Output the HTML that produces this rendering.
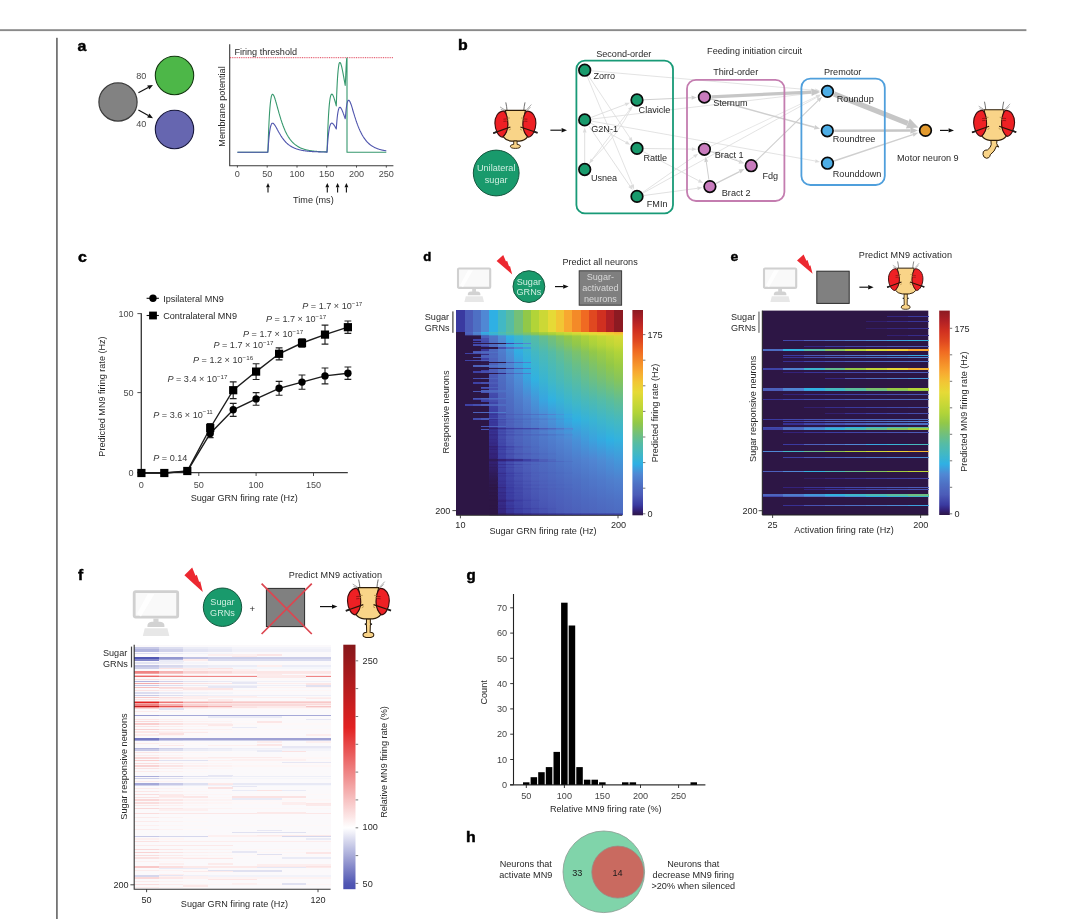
<!DOCTYPE html>
<html><head><meta charset="utf-8"><title>Figure</title>
<style>
html,body{margin:0;padding:0;background:#fff;}
body{width:1080px;height:919px;overflow:hidden;font-family:"Liberation Sans",sans-serif;}
svg{display:block;will-change:transform;font-family:"Liberation Sans",sans-serif;font-size:9.1px;fill:#282828;}
</style></head><body>
<svg width="1080" height="919" viewBox="0 0 1080 919">
<defs>
<g id="flyhead">
<path d="M-9.6 -21.4Q-8.6 -17 -8.4 -13.6M9.6 -21.4Q8.6 -17 8.4 -13.6" fill="none" stroke="#333" stroke-width="0.7"/>
<path d="M-15.4 -16.9L-10.6 -13.9M-14.6 -14.4L-10.9 -13.2M11 -13.8L16 -19.3M12 -13.5L15 -16.6" fill="none" stroke="#8a8a8a" stroke-width="0.7"/>
<path d="M-10.1 -13.4L10.1 -13.4Q7.2 -2 8 3Q9 9 12.1 13.1Q9.6 16.6 4.2 17.3L-4.2 17.3Q-9.6 16.6 -12.1 13.1Q-9 9 -8 3Q-7.2 -2 -10.1 -13.4z" fill="#f9d488" stroke="#2d1c08" stroke-width="1.15"/>
<path d="M-11.3 -12.7C-17.6 -12.9 -20.7 -6 -20.5 -0.5C-20.3 6 -17.2 12.8 -12.9 13.3C-10.2 11 -7.5 6 -7.5 0.6C-7.5 -5 -8.8 -10 -11.3 -12.7z" fill="#ee2024" stroke="#3a0d0d" stroke-width="1.1"/>
<path d="M-11.3 -12.7C-17.6 -12.9 -20.7 -6 -20.5 -0.5C-20.3 6 -17.2 12.8 -12.9 13.3C-10.2 11 -7.5 6 -7.5 0.6C-7.5 -5 -8.8 -10 -11.3 -12.7z" transform="scale(-1,1)" fill="#ee2024" stroke="#3a0d0d" stroke-width="1.1"/>
<path d="M-22 9.3L-5 3.2M22 9L5 3.2" fill="none" stroke="#2a1608" stroke-width="1.2"/><path d="M-22.2 9.4L-18.6 8.1M22.2 9.1L18.6 7.8" fill="none" stroke="#222" stroke-width="1.7"/><path d="M-12 -4.6L-8 -4.9M12 -4.6L8 -4.9M-12 -2.4L-8.6 -2.7M12 -2.4L8.6 -2.7" fill="none" stroke="#7a1010" stroke-width="0.7"/>
<path d="M-8.5 -5.6L-5.6 -5.8M8.5 -5.6L5.6 -5.8M-9 -3.6L-7 -3.7M9 -3.6L7 -3.7M-6.5 6.4L-4.6 5.2M6.5 6.4L4.6 5.2" fill="none" stroke="#9a7a3a" stroke-width="0.7"/>
</g>
<g id="prob0"><path d="M-1.7 17.2L-1.7 20.6Q-5 20.8 -5 22.4Q-5 24.6 0 24.6Q5 24.6 5 22.4Q5 20.8 1.7 20.6L1.7 17.2z" fill="#f9d488" stroke="#2d1c08" stroke-width="0.9"/></g>
<g id="prob1"><path d="M-1.9 17.2L-1.9 21.4Q-3.2 22.4 -1.9 23.4L-1.7 30.4Q-5.3 30.8 -5.3 33Q-5.2 35.6 0 35.6Q5.2 35.6 5.3 33Q5.3 30.8 1.7 30.4L1.9 23.4Q3.2 22.4 1.9 21.4L1.9 17.2z" fill="#f9d488" stroke="#2d1c08" stroke-width="1"/><path d="M-3.6 22.4L-1.7 22.4M1.7 22.4L3.6 22.4" stroke="#111" stroke-width="1.3" fill="none"/></g>
<g id="prob2"><path d="M-3.2 17L-2.9 21.6Q-3.4 24.6 -6.6 26.8Q-9.4 26.6 -10.8 28.6Q-11.8 31.6 -10 34Q-7.6 36 -5.4 34.6Q-4 33.4 -3.8 31.6Q0.6 28.6 2.4 23L4.6 24L2.6 20.6L2.9 17z" fill="#f9d488" stroke="#2d1c08" stroke-width="1"/></g>
<g id="monitor">
<rect x="0" y="1.2" width="32.2" height="19.4" rx="1" fill="#f9f9f9" stroke="#d0d0d0" stroke-width="2.1"/>
<path d="M2 18L10 3L15 3L5 20z" fill="#fff" opacity="0.8"/>
<rect x="14.2" y="21.6" width="3.8" height="3" fill="#d4d4d4"/>
<path d="M9.8 28Q9.4 24.3 13 24.1L19.2 24.1Q22.8 24.3 22.4 28z" fill="#d2d2d2"/>
<path d="M7.8 29L24.6 29L26 34.8L6.4 34.8z" fill="#e7e7e7"/>
</g>
<path id="bolt" d="M0 6L6.6 0L9.4 6.4L10.5 5.7L12.5 11.5L13.4 10.9L15.6 19.4L7.6 12.6z" fill="#ec2830"/>
</defs>
<rect x="0" y="29.2" width="1026.4" height="1.9" fill="#8a8a8a"/>
<rect x="56" y="37.8" width="1.8" height="882" fill="#747474"/>
<text transform="translate(77.6,50.7) scale(1.06,1)" font-weight="bold" font-size="15" fill="#000" stroke="#000" stroke-width="0.45">a</text>
<circle cx="118" cy="102" r="19.1" fill="#828282" stroke="#3c3c3c" stroke-width="1.2"/>
<circle cx="174.5" cy="75.5" r="19.2" fill="#4db748" stroke="#12380f" stroke-width="1.1"/>
<circle cx="174.5" cy="129.5" r="19.2" fill="#6666b0" stroke="#16163a" stroke-width="1.1"/>
<text x="136.2" y="79.4" fill="#4a4a4a">80</text>
<text x="136.2" y="127" fill="#4a4a4a">40</text>
<line x1="138.4" y1="92.8" x2="148.2" y2="87.5" stroke="#111" stroke-width="1.15"/>
<path d="M153.0 85.0L149.3 89.5L147.2 85.6z" fill="#111"/>
<line x1="138.4" y1="110.0" x2="148.3" y2="115.6" stroke="#111" stroke-width="1.15"/>
<path d="M153.0 118.2L147.2 117.5L149.4 113.6z" fill="#111"/>
<path d="M229.7 44.2V165.7H393.4" fill="none" stroke="#3a3a3a" stroke-width="1.1"/>
<line x1="237.4" y1="165.7" x2="237.4" y2="167.6" stroke="#3a3a3a" stroke-width="0.9"/>
<text x="237.4" y="177" text-anchor="middle" fill="#4a4a4a">0</text>
<line x1="267.2" y1="165.7" x2="267.2" y2="167.6" stroke="#3a3a3a" stroke-width="0.9"/>
<text x="267.2" y="177" text-anchor="middle" fill="#4a4a4a">50</text>
<line x1="297.0" y1="165.7" x2="297.0" y2="167.6" stroke="#3a3a3a" stroke-width="0.9"/>
<text x="297.0" y="177" text-anchor="middle" fill="#4a4a4a">100</text>
<line x1="326.7" y1="165.7" x2="326.7" y2="167.6" stroke="#3a3a3a" stroke-width="0.9"/>
<text x="326.7" y="177" text-anchor="middle" fill="#4a4a4a">150</text>
<line x1="356.5" y1="165.7" x2="356.5" y2="167.6" stroke="#3a3a3a" stroke-width="0.9"/>
<text x="356.5" y="177" text-anchor="middle" fill="#4a4a4a">200</text>
<line x1="386.3" y1="165.7" x2="386.3" y2="167.6" stroke="#3a3a3a" stroke-width="0.9"/>
<text x="386.3" y="177" text-anchor="middle" fill="#4a4a4a">250</text>
<text x="313.4" y="202.6" text-anchor="middle">Time (ms)</text>
<text transform="translate(224.6,106.5) rotate(-90)" text-anchor="middle">Membrane potential</text>
<text x="234.4" y="55">Firing threshold</text>
<line x1="230" y1="57.7" x2="393.4" y2="57.7" stroke="#e0455a" stroke-width="1" stroke-dasharray="1 0.8"/>
<line x1="268.0" y1="192.4" x2="268.0" y2="187.2" stroke="#111" stroke-width="1.1"/>
<path d="M268.0 183.0L269.9 187.2L266.1 187.2z" fill="#111"/>
<line x1="327.3" y1="192.4" x2="327.3" y2="187.2" stroke="#111" stroke-width="1.1"/>
<path d="M327.3 183.0L329.2 187.2L325.4 187.2z" fill="#111"/>
<line x1="337.6" y1="192.4" x2="337.6" y2="187.2" stroke="#111" stroke-width="1.1"/>
<path d="M337.6 183.0L339.5 187.2L335.7 187.2z" fill="#111"/>
<line x1="346.4" y1="192.4" x2="346.4" y2="187.2" stroke="#111" stroke-width="1.1"/>
<path d="M346.4 183.0L348.3 187.2L344.5 187.2z" fill="#111"/>
<path d="M237.4 152.2L237.7 152.2L238.0 152.2L238.3 152.2L238.6 152.2L238.9 152.2L239.2 152.2L239.5 152.2L239.8 152.2L240.1 152.2L240.4 152.2L240.7 152.2L241.0 152.2L241.3 152.2L241.6 152.2L241.9 152.2L242.2 152.2L242.5 152.2L242.8 152.2L243.1 152.2L243.4 152.2L243.7 152.2L244.0 152.2L244.2 152.2L244.5 152.2L244.8 152.2L245.1 152.2L245.4 152.2L245.7 152.2L246.0 152.2L246.3 152.2L246.6 152.2L246.9 152.2L247.2 152.2L247.5 152.2L247.8 152.2L248.1 152.2L248.4 152.2L248.7 152.2L249.0 152.2L249.3 152.2L249.6 152.2L249.9 152.2L250.2 152.2L250.5 152.2L250.8 152.2L251.1 152.2L251.4 152.2L251.7 152.2L252.0 152.2L252.3 152.2L252.6 152.2L252.9 152.2L253.2 152.2L253.5 152.2L253.8 152.2L254.1 152.2L254.4 152.2L254.7 152.2L255.0 152.2L255.3 152.2L255.6 152.2L255.9 152.2L256.2 152.2L256.5 152.2L256.8 152.2L257.1 152.2L257.4 152.2L257.7 152.2L257.9 152.2L258.2 152.2L258.5 152.2L258.8 152.2L259.1 152.2L259.4 152.2L259.7 152.2L260.0 152.2L260.3 152.2L260.6 152.2L260.9 152.2L261.2 152.2L261.5 152.2L261.8 152.2L262.1 152.2L262.4 152.2L262.7 152.2L263.0 152.2L263.3 152.2L263.6 152.2L263.9 152.2L264.2 152.2L264.5 152.2L264.8 152.2L265.1 152.2L265.4 152.2L265.7 152.2L266.0 152.2L266.3 152.2L266.6 152.2L266.9 152.2L267.2 152.2L267.5 152.2L267.8 152.2L268.1 146.1L268.4 137.1L268.7 129.3L269.0 122.7L269.3 117.0L269.6 112.1L269.9 108.1L270.2 104.7L270.5 101.9L270.8 99.7L271.1 97.9L271.3 96.6L271.6 95.6L271.9 94.9L272.2 94.5L272.5 94.3L272.8 94.3L273.1 94.6L273.4 95.0L273.7 95.5L274.0 96.1L274.3 96.8L274.6 97.6L274.9 98.5L275.2 99.5L275.5 100.4L275.8 101.5L276.1 102.5L276.4 103.6L276.7 104.7L277.0 105.8L277.3 106.9L277.6 108.0L277.9 109.1L278.2 110.1L278.5 111.2L278.8 112.3L279.1 113.4L279.4 114.4L279.7 115.4L280.0 116.4L280.3 117.4L280.6 118.4L280.9 119.4L281.2 120.3L281.5 121.2L281.8 122.1L282.1 123.0L282.4 123.8L282.7 124.6L283.0 125.5L283.3 126.2L283.6 127.0L283.9 127.8L284.2 128.5L284.5 129.2L284.8 129.9L285.0 130.5L285.3 131.2L285.6 131.8L285.9 132.4L286.2 133.0L286.5 133.6L286.8 134.2L287.1 134.7L287.4 135.3L287.7 135.8L288.0 136.3L288.3 136.8L288.6 137.2L288.9 137.7L289.2 138.1L289.5 138.6L289.8 139.0L290.1 139.4L290.4 139.8L290.7 140.1L291.0 140.5L291.3 140.9L291.6 141.2L291.9 141.6L292.2 141.9L292.5 142.2L292.8 142.5L293.1 142.8L293.4 143.1L293.7 143.4L294.0 143.6L294.3 143.9L294.6 144.2L294.9 144.4L295.2 144.6L295.5 144.9L295.8 145.1L296.1 145.3L296.4 145.5L296.7 145.7L297.0 145.9L297.3 146.1L297.6 146.3L297.9 146.5L298.2 146.7L298.4 146.8L298.7 147.0L299.0 147.2L299.3 147.3L299.6 147.5L299.9 147.6L300.2 147.8L300.5 147.9L300.8 148.0L301.1 148.2L301.4 148.3L301.7 148.4L302.0 148.5L302.3 148.6L302.6 148.7L302.9 148.8L303.2 148.9L303.5 149.0L303.8 149.1L304.1 149.2L304.4 149.3L304.7 149.4L305.0 149.5L305.3 149.6L305.6 149.7L305.9 149.7L306.2 149.8L306.5 149.9L306.8 150.0L307.1 150.0L307.4 150.1L307.7 150.2L308.0 150.2L308.3 150.3L308.6 150.3L308.9 150.4L309.2 150.5L309.5 150.5L309.8 150.6L310.1 150.6L310.4 150.7L310.7 150.7L311.0 150.8L311.3 150.8L311.6 150.8L311.9 150.9L312.1 150.9L312.4 151.0L312.7 151.0L313.0 151.0L313.3 151.1L313.6 151.1L313.9 151.1L314.2 151.2L314.5 151.2L314.8 151.2L315.1 151.3L315.4 151.3L315.7 151.3L316.0 151.4L316.3 151.4L316.6 151.4L316.9 151.4L317.2 151.5L317.5 151.5L317.8 151.5L318.1 151.5L318.4 151.5L318.7 151.6L319.0 151.6L319.3 151.6L319.6 151.6L319.9 151.6L320.2 151.7L320.5 151.7L320.8 151.7L321.1 151.7L321.4 151.7L321.7 151.7L322.0 151.7L322.3 151.8L322.6 151.8L322.9 151.8L323.2 151.8L323.5 151.8L323.8 151.8L324.1 151.8L324.4 151.8L324.7 151.9L325.0 151.9L325.3 151.9L325.5 151.9L325.8 151.9L326.1 151.9L326.4 151.9L326.7 151.9L327.0 151.9L327.3 144.0L327.6 135.2L327.9 127.7L328.2 121.2L328.5 115.7L328.8 111.1L329.1 107.1L329.4 103.9L329.7 101.3L330.0 99.1L330.3 97.4L330.6 96.2L330.9 95.2L331.2 94.6L331.5 94.3L331.8 94.1L332.1 94.2L332.4 94.5L332.7 94.9L333.0 95.4L333.3 96.1L333.6 96.8L333.9 97.7L334.2 98.6L334.5 99.5L334.8 100.5L335.1 101.5L335.4 102.6L335.7 103.7L336.0 104.8L336.3 105.9L336.6 97.1L336.9 89.7L337.2 83.5L337.5 78.3L337.8 74.1L338.1 70.7L338.4 68.0L338.7 65.9L338.9 64.4L339.2 63.3L339.5 62.7L339.8 62.5L340.1 62.5L340.4 62.9L340.7 63.5L341.0 64.3L341.3 65.3L341.6 66.4L341.9 67.7L342.2 69.1L342.5 70.5L342.8 72.1L343.1 73.6L343.4 75.3L343.7 76.9L344.0 78.6L344.3 80.3L344.6 82.0L344.9 83.7L345.2 85.4L345.5 81.0L345.8 73.7L346.1 67.6L346.4 62.5L346.7 58.5L347.0 58.0L347.0 152.2L347.3 152.2L347.6 152.2L347.9 152.2L348.2 152.2L348.5 152.2L348.8 152.2L349.1 152.2L349.4 152.2L349.7 152.2L350.0 152.2L350.3 152.2L350.6 152.2L350.9 152.2L351.2 152.2L351.5 152.2L351.8 152.2L352.1 152.2L352.4 152.2L352.6 152.2L352.9 152.2L353.2 152.2L353.5 152.2L353.8 152.2L354.1 152.2L354.4 152.2L354.7 152.2L355.0 152.2L355.3 152.2L355.6 152.2L355.9 152.2L356.2 152.2L356.5 152.2L356.8 152.2L357.1 152.2L357.4 152.2L357.7 152.2L358.0 152.2L358.3 152.2L358.6 152.2L358.9 152.2L359.2 152.2L359.5 152.2L359.8 152.2L360.1 152.2L360.4 152.2L360.7 152.2L361.0 152.2L361.3 152.2L361.6 152.2L361.9 152.2L362.2 152.2L362.5 152.2L362.8 152.2L363.1 152.2L363.4 152.2L363.7 152.2L364.0 152.2L364.3 152.2L364.6 152.2L364.9 152.2L365.2 152.2L365.5 152.2L365.8 152.2L366.0 152.2L366.3 152.2L366.6 152.2L366.9 152.2L367.2 152.2L367.5 152.2L367.8 152.2L368.1 152.2L368.4 152.2L368.7 152.2L369.0 152.2L369.3 152.2L369.6 152.2L369.9 152.2L370.2 152.2L370.5 152.2L370.8 152.2L371.1 152.2L371.4 152.2L371.7 152.2L372.0 152.2L372.3 152.2L372.6 152.2L372.9 152.2L373.2 152.2L373.5 152.2L373.8 152.2L374.1 152.2L374.4 152.2L374.7 152.2L375.0 152.2L375.3 152.2L375.6 152.2L375.9 152.2L376.2 152.2L376.5 152.2L376.8 152.2L377.1 152.2L377.4 152.2L377.7 152.2L378.0 152.2L378.3 152.2L378.6 152.2L378.9 152.2L379.2 152.2L379.5 152.2L379.7 152.2L380.0 152.2L380.3 152.2L380.6 152.2L380.9 152.2L381.2 152.2L381.5 152.2L381.8 152.2L382.1 152.2L382.4 152.2L382.7 152.2L383.0 152.2L383.3 152.2L383.6 152.2L383.9 152.2L384.2 152.2L384.5 152.2L384.8 152.2L385.1 152.2L385.4 152.2L385.7 152.2L386.0 152.2L386.3 152.2" fill="none" stroke="#36986d" stroke-width="1.1" stroke-linejoin="round"/>
<path d="M237.4 152.2L237.7 152.2L238.0 152.2L238.3 152.2L238.6 152.2L238.9 152.2L239.2 152.2L239.5 152.2L239.8 152.2L240.1 152.2L240.4 152.2L240.7 152.2L241.0 152.2L241.3 152.2L241.6 152.2L241.9 152.2L242.2 152.2L242.5 152.2L242.8 152.2L243.1 152.2L243.4 152.2L243.7 152.2L244.0 152.2L244.2 152.2L244.5 152.2L244.8 152.2L245.1 152.2L245.4 152.2L245.7 152.2L246.0 152.2L246.3 152.2L246.6 152.2L246.9 152.2L247.2 152.2L247.5 152.2L247.8 152.2L248.1 152.2L248.4 152.2L248.7 152.2L249.0 152.2L249.3 152.2L249.6 152.2L249.9 152.2L250.2 152.2L250.5 152.2L250.8 152.2L251.1 152.2L251.4 152.2L251.7 152.2L252.0 152.2L252.3 152.2L252.6 152.2L252.9 152.2L253.2 152.2L253.5 152.2L253.8 152.2L254.1 152.2L254.4 152.2L254.7 152.2L255.0 152.2L255.3 152.2L255.6 152.2L255.9 152.2L256.2 152.2L256.5 152.2L256.8 152.2L257.1 152.2L257.4 152.2L257.7 152.2L257.9 152.2L258.2 152.2L258.5 152.2L258.8 152.2L259.1 152.2L259.4 152.2L259.7 152.2L260.0 152.2L260.3 152.2L260.6 152.2L260.9 152.2L261.2 152.2L261.5 152.2L261.8 152.2L262.1 152.2L262.4 152.2L262.7 152.2L263.0 152.2L263.3 152.2L263.6 152.2L263.9 152.2L264.2 152.2L264.5 152.2L264.8 152.2L265.1 152.2L265.4 152.2L265.7 152.2L266.0 152.2L266.3 152.2L266.6 152.2L266.9 152.2L267.2 152.2L267.5 152.2L267.8 152.2L268.1 149.2L268.4 144.6L268.7 140.7L269.0 137.4L269.3 134.6L269.6 132.1L269.9 130.1L270.2 128.4L270.5 127.0L270.8 125.9L271.1 125.0L271.3 124.3L271.6 123.8L271.9 123.5L272.2 123.3L272.5 123.2L272.8 123.2L273.1 123.3L273.4 123.5L273.7 123.8L274.0 124.1L274.3 124.5L274.6 124.9L274.9 125.3L275.2 125.8L275.5 126.3L275.8 126.8L276.1 127.3L276.4 127.8L276.7 128.4L277.0 128.9L277.3 129.5L277.6 130.0L277.9 130.6L278.2 131.1L278.5 131.7L278.8 132.2L279.1 132.7L279.4 133.3L279.7 133.8L280.0 134.3L280.3 134.8L280.6 135.3L280.9 135.8L281.2 136.2L281.5 136.7L281.8 137.1L282.1 137.6L282.4 138.0L282.7 138.4L283.0 138.8L283.3 139.2L283.6 139.6L283.9 140.0L284.2 140.3L284.5 140.7L284.8 141.0L285.0 141.4L285.3 141.7L285.6 142.0L285.9 142.3L286.2 142.6L286.5 142.9L286.8 143.2L287.1 143.4L287.4 143.7L287.7 144.0L288.0 144.2L288.3 144.5L288.6 144.7L288.9 144.9L289.2 145.1L289.5 145.4L289.8 145.6L290.1 145.8L290.4 146.0L290.7 146.2L291.0 146.3L291.3 146.5L291.6 146.7L291.9 146.9L292.2 147.0L292.5 147.2L292.8 147.3L293.1 147.5L293.4 147.6L293.7 147.8L294.0 147.9L294.3 148.0L294.6 148.2L294.9 148.3L295.2 148.4L295.5 148.5L295.8 148.6L296.1 148.8L296.4 148.9L296.7 149.0L297.0 149.1L297.3 149.2L297.6 149.3L297.9 149.3L298.2 149.4L298.4 149.5L298.7 149.6L299.0 149.7L299.3 149.8L299.6 149.8L299.9 149.9L300.2 150.0L300.5 150.0L300.8 150.1L301.1 150.2L301.4 150.2L301.7 150.3L302.0 150.4L302.3 150.4L302.6 150.5L302.9 150.5L303.2 150.6L303.5 150.6L303.8 150.7L304.1 150.7L304.4 150.8L304.7 150.8L305.0 150.8L305.3 150.9L305.6 150.9L305.9 151.0L306.2 151.0L306.5 151.0L306.8 151.1L307.1 151.1L307.4 151.1L307.7 151.2L308.0 151.2L308.3 151.2L308.6 151.3L308.9 151.3L309.2 151.3L309.5 151.4L309.8 151.4L310.1 151.4L310.4 151.4L310.7 151.5L311.0 151.5L311.3 151.5L311.6 151.5L311.9 151.5L312.1 151.6L312.4 151.6L312.7 151.6L313.0 151.6L313.3 151.6L313.6 151.7L313.9 151.7L314.2 151.7L314.5 151.7L314.8 151.7L315.1 151.7L315.4 151.7L315.7 151.8L316.0 151.8L316.3 151.8L316.6 151.8L316.9 151.8L317.2 151.8L317.5 151.8L317.8 151.8L318.1 151.9L318.4 151.9L318.7 151.9L319.0 151.9L319.3 151.9L319.6 151.9L319.9 151.9L320.2 151.9L320.5 151.9L320.8 151.9L321.1 152.0L321.4 152.0L321.7 152.0L322.0 152.0L322.3 152.0L322.6 152.0L322.9 152.0L323.2 152.0L323.5 152.0L323.8 152.0L324.1 152.0L324.4 152.0L324.7 152.0L325.0 152.0L325.3 152.0L325.5 152.0L325.8 152.0L326.1 152.1L326.4 152.1L326.7 152.1L327.0 152.1L327.3 148.1L327.6 143.7L327.9 139.9L328.2 136.7L328.5 133.9L328.8 131.6L329.1 129.6L329.4 128.0L329.7 126.7L330.0 125.6L330.3 124.8L330.6 124.1L330.9 123.7L331.2 123.4L331.5 123.2L331.8 123.1L332.1 123.2L332.4 123.3L332.7 123.5L333.0 123.8L333.3 124.1L333.6 124.5L333.9 124.9L334.2 125.3L334.5 125.8L334.8 126.3L335.1 126.8L335.4 127.4L335.7 127.9L336.0 128.4L336.3 129.0L336.6 124.6L336.9 120.9L337.2 117.8L337.5 115.2L337.8 113.1L338.1 111.4L338.4 110.0L338.7 109.0L338.9 108.2L339.2 107.7L339.5 107.4L339.8 107.3L340.1 107.3L340.4 107.5L340.7 107.8L341.0 108.2L341.3 108.7L341.6 109.2L341.9 109.9L342.2 110.6L342.5 111.3L342.8 112.1L343.1 112.8L343.4 113.7L343.7 114.5L344.0 115.3L344.3 116.2L344.6 117.0L344.9 117.9L345.2 118.8L345.5 116.6L345.8 112.9L346.1 109.8L346.4 107.3L346.7 105.3L347.0 103.6L347.3 102.4L347.6 101.5L347.9 100.8L348.2 100.5L348.5 100.3L348.8 100.3L349.1 100.5L349.4 100.8L349.7 101.3L350.0 101.8L350.3 102.5L350.6 103.2L350.9 104.0L351.2 104.8L351.5 105.7L351.8 106.6L352.1 107.6L352.4 108.5L352.6 109.5L352.9 110.5L353.2 111.5L353.5 112.5L353.8 113.4L354.1 114.4L354.4 115.4L354.7 116.4L355.0 117.3L355.3 118.2L355.6 119.2L355.9 120.1L356.2 121.0L356.5 121.8L356.8 122.7L357.1 123.5L357.4 124.4L357.7 125.2L358.0 125.9L358.3 126.7L358.6 127.4L358.9 128.2L359.2 128.9L359.5 129.6L359.8 130.2L360.1 130.9L360.4 131.5L360.7 132.1L361.0 132.7L361.3 133.3L361.6 133.9L361.9 134.4L362.2 135.0L362.5 135.5L362.8 136.0L363.1 136.5L363.4 137.0L363.7 137.4L364.0 137.9L364.3 138.3L364.6 138.7L364.9 139.2L365.2 139.5L365.5 139.9L365.8 140.3L366.0 140.7L366.3 141.0L366.6 141.4L366.9 141.7L367.2 142.0L367.5 142.3L367.8 142.6L368.1 142.9L368.4 143.2L368.7 143.5L369.0 143.8L369.3 144.0L369.6 144.3L369.9 144.5L370.2 144.7L370.5 145.0L370.8 145.2L371.1 145.4L371.4 145.6L371.7 145.8L372.0 146.0L372.3 146.2L372.6 146.4L372.9 146.6L373.2 146.7L373.5 146.9L373.8 147.1L374.1 147.2L374.4 147.4L374.7 147.5L375.0 147.7L375.3 147.8L375.6 147.9L375.9 148.1L376.2 148.2L376.5 148.3L376.8 148.4L377.1 148.6L377.4 148.7L377.7 148.8L378.0 148.9L378.3 149.0L378.6 149.1L378.9 149.2L379.2 149.3L379.5 149.4L379.7 149.5L380.0 149.5L380.3 149.6L380.6 149.7L380.9 149.8L381.2 149.9L381.5 149.9L381.8 150.0L382.1 150.1L382.4 150.1L382.7 150.2L383.0 150.3L383.3 150.3L383.6 150.4L383.9 150.4L384.2 150.5L384.5 150.5L384.8 150.6L385.1 150.6L385.4 150.7L385.7 150.7L386.0 150.8L386.3 150.8" fill="none" stroke="#4f55ad" stroke-width="1.1" stroke-linejoin="round"/>
<text transform="translate(457.9,50) scale(1.06,1)" font-weight="bold" font-size="15" fill="#000" stroke="#000" stroke-width="0.45">b</text>
<use href="#flyhead" x="515.4" y="123.8"/><use href="#prob0" x="515.4" y="123.8"/>
<circle cx="496.2" cy="173" r="22.9" fill="#199a6c" stroke="#14553d" stroke-width="1"/>
<text x="496.2" y="171.2" text-anchor="middle" fill="#cfeee0">Unilateral</text>
<text x="496.2" y="182.6" text-anchor="middle" fill="#cfeee0">sugar</text>
<line x1="550.4" y1="130.2" x2="561.6" y2="130.2" stroke="#111" stroke-width="1.15"/>
<path d="M567.0 130.2L561.6 132.4L561.6 128.0z" fill="#111"/>
<line x1="588.6" y1="76.0" x2="630.1" y2="138.1" stroke="#dcdcdc" stroke-width="0.8"/>
<path d="M632.8 142.1L628.6 139.1L631.6 137.1z" fill="#dcdcdc"/>
<line x1="587.4" y1="76.7" x2="632.3" y2="184.9" stroke="#dcdcdc" stroke-width="0.8"/>
<path d="M634.1 189.4L630.6 185.6L634.0 184.2z" fill="#dcdcdc"/>
<line x1="591.2" y1="117.4" x2="625.3" y2="104.5" stroke="#dcdcdc" stroke-width="0.9"/>
<path d="M629.9 102.7L626.0 106.3L624.6 102.7z" fill="#dcdcdc"/>
<line x1="590.8" y1="123.2" x2="626.0" y2="142.4" stroke="#dcdcdc" stroke-width="0.9"/>
<path d="M630.3 144.8L625.1 144.1L626.9 140.7z" fill="#dcdcdc"/>
<line x1="588.7" y1="125.7" x2="629.9" y2="186.0" stroke="#dcdcdc" stroke-width="0.9"/>
<path d="M632.7 190.1L628.3 187.1L631.5 185.0z" fill="#dcdcdc"/>
<line x1="584.7" y1="162.5" x2="584.7" y2="132.4" stroke="#dcdcdc" stroke-width="0.9"/>
<path d="M584.7 127.5L586.6 132.4L582.8 132.4z" fill="#dcdcdc"/>
<line x1="588.9" y1="163.9" x2="629.5" y2="109.9" stroke="#dcdcdc" stroke-width="0.8"/>
<path d="M632.4 106.1L631.0 111.0L628.1 108.8z" fill="#dcdcdc"/>
<line x1="591.7" y1="70.8" x2="815.1" y2="90.3" stroke="#dcdcdc" stroke-width="0.8"/>
<path d="M819.9 90.7L815.0 92.2L815.3 88.5z" fill="#dcdcdc"/>
<line x1="591.7" y1="119.1" x2="815.2" y2="92.8" stroke="#dcdcdc" stroke-width="0.8"/>
<path d="M820.0 92.3L815.4 94.7L815.0 91.0z" fill="#dcdcdc"/>
<line x1="591.6" y1="121.1" x2="815.3" y2="161.0" stroke="#dcdcdc" stroke-width="0.8"/>
<path d="M820.0 161.9L815.0 162.8L815.6 159.2z" fill="#dcdcdc"/>
<line x1="644.0" y1="99.7" x2="691.6" y2="97.7" stroke="#cfcfcf" stroke-width="1.1"/>
<path d="M696.8 97.4L691.7 99.7L691.5 95.6z" fill="#cfcfcf"/>
<line x1="644.0" y1="148.5" x2="691.9" y2="149.1" stroke="#dcdcdc" stroke-width="0.9"/>
<path d="M696.8 149.2L691.8 151.1L691.9 147.2z" fill="#dcdcdc"/>
<line x1="643.2" y1="151.6" x2="698.8" y2="180.8" stroke="#dcdcdc" stroke-width="0.9"/>
<path d="M703.2 183.1L697.9 182.5L699.7 179.1z" fill="#dcdcdc"/>
<line x1="642.7" y1="192.4" x2="694.2" y2="156.4" stroke="#dcdcdc" stroke-width="0.8"/>
<path d="M698.2 153.7L695.3 157.9L693.2 154.9z" fill="#dcdcdc"/>
<line x1="643.9" y1="195.5" x2="697.5" y2="188.3" stroke="#dcdcdc" stroke-width="0.9"/>
<path d="M702.4 187.6L697.7 190.2L697.2 186.4z" fill="#dcdcdc"/>
<line x1="643.1" y1="193.0" x2="816.6" y2="97.4" stroke="#dcdcdc" stroke-width="0.8"/>
<path d="M820.8 95.1L817.5 99.0L815.8 95.8z" fill="#dcdcdc"/>
<line x1="711.0" y1="151.6" x2="739.2" y2="161.5" stroke="#cfcfcf" stroke-width="1.0"/>
<path d="M744.0 163.2L738.6 163.4L739.9 159.6z" fill="#cfcfcf"/>
<line x1="716.1" y1="183.4" x2="739.6" y2="171.6" stroke="#cfcfcf" stroke-width="1.2"/>
<path d="M744.4 169.1L740.6 173.5L738.6 169.6z" fill="#cfcfcf"/>
<line x1="708.9" y1="179.7" x2="706.3" y2="161.9" stroke="#cfcfcf" stroke-width="1.0"/>
<path d="M705.5 156.8L708.2 161.6L704.3 162.2z" fill="#cfcfcf"/>
<line x1="756.2" y1="160.8" x2="818.3" y2="100.4" stroke="#cfcfcf" stroke-width="1.1"/>
<path d="M822.1 96.7L819.7 101.9L816.8 98.9z" fill="#cfcfcf"/>
<line x1="710.7" y1="146.3" x2="816.4" y2="96.6" stroke="#dcdcdc" stroke-width="0.7"/>
<path d="M820.6 94.6L817.2 98.2L815.7 95.0z" fill="#dcdcdc"/>
<line x1="711.2" y1="99.0" x2="814.5" y2="127.3" stroke="#cfcfcf" stroke-width="1.4"/>
<path d="M820.0 128.8L813.9 129.5L815.1 125.0z" fill="#cfcfcf"/>
<line x1="711.4" y1="96.8" x2="811.5" y2="92.1" stroke="#c6c6c6" stroke-width="3.2"/>
<path d="M819.9 91.8L811.7 95.9L811.3 88.4z" fill="#c6c6c6"/>
<line x1="834.0" y1="94.0" x2="907.8" y2="123.4" stroke="#c6c6c6" stroke-width="5.2"/>
<path d="M918.4 127.6L905.9 128.4L909.8 118.4z" fill="#c6c6c6"/>
<line x1="834.3" y1="130.8" x2="910.4" y2="130.5" stroke="#c6c6c6" stroke-width="2.6"/>
<path d="M917.9 130.4L910.4 133.7L910.4 127.2z" fill="#c6c6c6"/>
<line x1="834.1" y1="161.0" x2="912.9" y2="134.6" stroke="#cfcfcf" stroke-width="1.4"/>
<path d="M918.3 132.8L913.6 136.8L912.2 132.4z" fill="#cfcfcf"/>
<path d="M632.8 105.6Q617.3 136.2 592.2 159.6" fill="none" stroke="#dcdcdc" stroke-width="0.8"/>
<path d="M589.3 163.4L590.7 158.5L593.6 160.7z" fill="#dcdcdc"/>
<path d="M711.0 151.6Q727.0 151.9 739.6 161.6" fill="none" stroke="#dcdcdc" stroke-width="0.7"/>
<path d="M744.0 163.2L739.1 163.3L740.2 160.0z" fill="#dcdcdc"/>
<rect x="576.4" y="60.6" width="96.6" height="152.8" rx="8.5" fill="none" stroke="#189a77" stroke-width="1.8"/>
<rect x="687" y="79.8" width="97.4" height="121.2" rx="9" fill="none" stroke="#c47db0" stroke-width="1.8"/>
<rect x="801.4" y="78.6" width="83.4" height="106.4" rx="9" fill="none" stroke="#4f9fdc" stroke-width="1.8"/>
<circle cx="584.7" cy="70.2" r="5.8" fill="#199a6c" stroke="#0a0a0a" stroke-width="1.7"/>
<circle cx="584.7" cy="119.9" r="5.8" fill="#199a6c" stroke="#0a0a0a" stroke-width="1.7"/>
<circle cx="584.7" cy="169.5" r="5.8" fill="#199a6c" stroke="#0a0a0a" stroke-width="1.7"/>
<circle cx="637" cy="100" r="5.8" fill="#199a6c" stroke="#0a0a0a" stroke-width="1.7"/>
<circle cx="637" cy="148.4" r="5.8" fill="#199a6c" stroke="#0a0a0a" stroke-width="1.7"/>
<circle cx="637" cy="196.4" r="5.8" fill="#199a6c" stroke="#0a0a0a" stroke-width="1.7"/>
<circle cx="704.4" cy="97.1" r="5.8" fill="#c87bbd" stroke="#0a0a0a" stroke-width="1.7"/>
<circle cx="704.4" cy="149.3" r="5.8" fill="#c87bbd" stroke="#0a0a0a" stroke-width="1.7"/>
<circle cx="709.9" cy="186.6" r="5.8" fill="#c87bbd" stroke="#0a0a0a" stroke-width="1.7"/>
<circle cx="751.2" cy="165.7" r="5.8" fill="#c87bbd" stroke="#0a0a0a" stroke-width="1.7"/>
<circle cx="827.5" cy="91.4" r="5.8" fill="#4eaee6" stroke="#0a0a0a" stroke-width="1.7"/>
<circle cx="827.3" cy="130.8" r="5.8" fill="#4eaee6" stroke="#0a0a0a" stroke-width="1.7"/>
<circle cx="827.5" cy="163.2" r="5.8" fill="#4eaee6" stroke="#0a0a0a" stroke-width="1.7"/>
<circle cx="925.5" cy="130.4" r="5.8" fill="#e39a2e" stroke="#0a0a0a" stroke-width="1.7"/>
<text x="593.4" y="79.4">Zorro</text>
<text x="591.2" y="132.2">G2N-1</text>
<text x="590.9" y="181.2">Usnea</text>
<text x="638.6" y="113.4">Clavicle</text>
<text x="643.4" y="160.5">Rattle</text>
<text x="646.8" y="207.4">FMIn</text>
<text x="713.2" y="105.8">Sternum</text>
<text x="714.8" y="158">Bract 1</text>
<text x="721.8" y="195.8">Bract 2</text>
<text x="762.5" y="178.5">Fdg</text>
<text x="836.8" y="102.2">Roundup</text>
<text x="832.8" y="141.9">Roundtree</text>
<text x="832.8" y="176.5">Rounddown</text>
<text x="596.2" y="56.8">Second-order</text>
<text x="713.2" y="74.5">Third-order</text>
<text x="824" y="74.5">Premotor</text>
<text x="707.1" y="53.8">Feeding initiation circuit</text>
<text x="897" y="161">Motor neuron 9</text>
<line x1="940.0" y1="130.4" x2="948.6" y2="130.4" stroke="#111" stroke-width="1.15"/>
<path d="M954.0 130.4L948.6 132.6L948.6 128.2z" fill="#111"/>
<use href="#prob2" x="994.1" y="123.1"/><use href="#flyhead" x="994.1" y="123.1"/>
<text transform="translate(78.0,261.9) scale(1.06,1)" font-weight="bold" font-size="15" fill="#000" stroke="#000" stroke-width="0.45">c</text>
<path d="M141.3 313.2V472.6H347.8" fill="none" stroke="#3a3a3a" stroke-width="1.35"/>
<line x1="137.4" y1="472.4" x2="141.3" y2="472.4" stroke="#3a3a3a" stroke-width="0.9"/>
<text x="133.6" y="475.59999999999997" text-anchor="end" fill="#4a4a4a">0</text>
<line x1="137.4" y1="392.6" x2="141.3" y2="392.6" stroke="#3a3a3a" stroke-width="0.9"/>
<text x="133.6" y="395.8" text-anchor="end" fill="#4a4a4a">50</text>
<line x1="137.4" y1="313.6" x2="141.3" y2="313.6" stroke="#3a3a3a" stroke-width="0.9"/>
<text x="133.6" y="316.8" text-anchor="end" fill="#4a4a4a">100</text>
<line x1="141.4" y1="472.6" x2="141.4" y2="476" stroke="#3a3a3a" stroke-width="0.9"/>
<text x="141.4" y="488" text-anchor="middle" fill="#4a4a4a">0</text>
<line x1="198.8" y1="472.6" x2="198.8" y2="476" stroke="#3a3a3a" stroke-width="0.9"/>
<text x="198.8" y="488" text-anchor="middle" fill="#4a4a4a">50</text>
<line x1="256.1" y1="472.6" x2="256.1" y2="476" stroke="#3a3a3a" stroke-width="0.9"/>
<text x="256.1" y="488" text-anchor="middle" fill="#4a4a4a">100</text>
<line x1="313.5" y1="472.6" x2="313.5" y2="476" stroke="#3a3a3a" stroke-width="0.9"/>
<text x="313.5" y="488" text-anchor="middle" fill="#4a4a4a">150</text>
<text x="244.2" y="500.6" text-anchor="middle">Sugar GRN firing rate (Hz)</text>
<text transform="translate(104.8,396.5) rotate(-90)" text-anchor="middle">Predicted MN9 firing rate (Hz)</text>
<line x1="146.6" y1="298.3" x2="158.9" y2="298.3" stroke="#111" stroke-width="1.1"/>
<circle cx="153" cy="298.3" r="3.7" fill="#000"/>
<line x1="146.6" y1="315.5" x2="158.9" y2="315.5" stroke="#111" stroke-width="1.1"/>
<rect x="149.1" y="311.6" width="7.8" height="7.8" fill="#000"/>
<text x="163.2" y="301.8">Ipsilateral MN9</text>
<text x="163.2" y="318.9">Contralateral MN9</text>
<polyline points="141.4,473 164.3,473 187.3,471.4 210.2,433.4 233.2,409.8 256.1,398.9 279.1,388.3 302.0,382.1 325.0,375.9 347.9,373.2" fill="none" stroke="#1c1c1c" stroke-width="1.4"/>
<path d="M210.2 429.2V437.6M206.8 429.2h6.8M206.8 437.6h6.8M233.2 403.3V416.3M229.8 403.3h6.8M229.8 416.3h6.8M256.1 392.6V405.2M252.7 392.6h6.8M252.7 405.2h6.8M279.1 381.4V395.2M275.7 381.4h6.8M275.7 395.2h6.8M302.0 375.0V389.2M298.6 375.0h6.8M298.6 389.2h6.8M325.0 368.0V383.8M321.6 368.0h6.8M321.6 383.8h6.8M347.9 367.0V379.4M344.5 367.0h6.8M344.5 379.4h6.8" fill="none" stroke="#222" stroke-width="1.15"/>
<polyline points="141.4,473 164.3,473 187.3,471 210.2,428 233.2,390.2 256.1,371.6 279.1,353.8 302.0,343 325.0,334.6 347.9,327.2" fill="none" stroke="#1c1c1c" stroke-width="1.4"/>
<path d="M210.2 423.6V432.4M206.8 423.6h6.8M206.8 432.4h6.8M233.2 381.8V398.6M229.8 381.8h6.8M229.8 398.6h6.8M256.1 363.7V379.5M252.7 363.7h6.8M252.7 379.5h6.8M279.1 347.8V359.8M275.7 347.8h6.8M275.7 359.8h6.8M302.0 338.8V347.2M298.6 338.8h6.8M298.6 347.2h6.8M325.0 325.1V344.1M321.6 325.1h6.8M321.6 344.1h6.8M347.9 321.0V333.4M344.5 321.0h6.8M344.5 333.4h6.8" fill="none" stroke="#222" stroke-width="1.15"/>
<circle cx="141.4" cy="473" r="3.7" fill="#000"/>
<circle cx="164.3" cy="473" r="3.7" fill="#000"/>
<circle cx="187.3" cy="471.4" r="3.7" fill="#000"/>
<circle cx="210.2" cy="433.4" r="3.7" fill="#000"/>
<circle cx="233.2" cy="409.8" r="3.7" fill="#000"/>
<circle cx="256.1" cy="398.9" r="3.7" fill="#000"/>
<circle cx="279.1" cy="388.3" r="3.7" fill="#000"/>
<circle cx="302.0" cy="382.1" r="3.7" fill="#000"/>
<circle cx="325.0" cy="375.9" r="3.7" fill="#000"/>
<circle cx="347.9" cy="373.2" r="3.7" fill="#000"/>
<rect x="137.3" y="468.9" width="8.2" height="8.2" fill="#000"/>
<rect x="160.2" y="468.9" width="8.2" height="8.2" fill="#000"/>
<rect x="183.2" y="466.9" width="8.2" height="8.2" fill="#000"/>
<rect x="206.1" y="423.9" width="8.2" height="8.2" fill="#000"/>
<rect x="229.1" y="386.1" width="8.2" height="8.2" fill="#000"/>
<rect x="252.0" y="367.5" width="8.2" height="8.2" fill="#000"/>
<rect x="275.0" y="349.7" width="8.2" height="8.2" fill="#000"/>
<rect x="297.9" y="338.9" width="8.2" height="8.2" fill="#000"/>
<rect x="320.9" y="330.5" width="8.2" height="8.2" fill="#000"/>
<rect x="343.8" y="323.1" width="8.2" height="8.2" fill="#000"/>
<text x="153.2" y="461.3" fill="#383838"><tspan font-style="italic">P</tspan> = 0.14</text>
<text x="153.2" y="417.5" fill="#383838"><tspan font-style="italic">P</tspan> = 3.6<tspan> × 10</tspan><tspan dy="-3.2" font-size="6.2">−11</tspan></text>
<text x="167.4" y="382" fill="#383838"><tspan font-style="italic">P</tspan> = 3.4<tspan> × 10</tspan><tspan dy="-3.2" font-size="6.2">−17</tspan></text>
<text x="193" y="363" fill="#383838"><tspan font-style="italic">P</tspan> = 1.2<tspan> × 10</tspan><tspan dy="-3.2" font-size="6.2">−16</tspan></text>
<text x="213.4" y="348.3" fill="#383838"><tspan font-style="italic">P</tspan> = 1.7<tspan> × 10</tspan><tspan dy="-3.2" font-size="6.2">−17</tspan></text>
<text x="243" y="337.2" fill="#383838"><tspan font-style="italic">P</tspan> = 1.7<tspan> × 10</tspan><tspan dy="-3.2" font-size="6.2">−17</tspan></text>
<text x="266" y="322" fill="#383838"><tspan font-style="italic">P</tspan> = 1.7<tspan> × 10</tspan><tspan dy="-3.2" font-size="6.2">−17</tspan></text>
<text x="302.2" y="309.4" fill="#383838"><tspan font-style="italic">P</tspan> = 1.7<tspan> × 10</tspan><tspan dy="-3.2" font-size="6.2">−17</tspan></text>
<text transform="translate(423.3,260.9) scale(1.06,1)" font-weight="bold" font-size="12.4" fill="#000" stroke="#000" stroke-width="0.45">d</text>
<text transform="translate(730.5,260.9) scale(1.06,1)" font-weight="bold" font-size="13.2" fill="#000" stroke="#000" stroke-width="0.45">e</text>
<use href="#monitor" x="458" y="267.3"/><use href="#bolt" x="496.6" y="255"/>
<circle cx="528.9" cy="286.6" r="15.9" fill="#199a6c" stroke="#14553d" stroke-width="1"/>
<text x="528.9" y="284.6" text-anchor="middle" fill="#cfeee0">Sugar</text>
<text x="528.9" y="295.4" text-anchor="middle" fill="#cfeee0">GRNs</text>
<line x1="555.0" y1="286.6" x2="563.2" y2="286.6" stroke="#111" stroke-width="1.15"/>
<path d="M568.6 286.6L563.2 288.8L563.2 284.4z" fill="#111"/>
<rect x="579.2" y="270.8" width="42.4" height="34.4" fill="#7f7f7f" stroke="#3c3c3c" stroke-width="1"/>
<text x="600.4" y="280" text-anchor="middle" fill="#d8d8d8">Sugar-</text>
<text x="600.4" y="290.8" text-anchor="middle" fill="#d8d8d8">activated</text>
<text x="600.4" y="301.8" text-anchor="middle" fill="#d8d8d8">neurons</text>
<text x="562.4" y="265.4">Predict all neurons</text>
<text x="424.8" y="319.9">Sugar</text>
<text x="424.8" y="331.3">GRNs</text>
<rect x="452.3" y="311.4" width="1.2" height="21.4" fill="#444"/>
<g shape-rendering="crispEdges">
<rect x="456.20" y="310" width="8.60" height="22.3" fill="#3a3aa0"/>
<rect x="464.50" y="310" width="8.60" height="22.3" fill="#4c5cb8"/>
<rect x="472.80" y="310" width="8.60" height="22.3" fill="#4e70c4"/>
<rect x="481.10" y="310" width="8.60" height="22.3" fill="#5088d4"/>
<rect x="489.40" y="310" width="8.60" height="22.3" fill="#2fb0e4"/>
<rect x="497.70" y="310" width="8.60" height="22.3" fill="#42b8c4"/>
<rect x="506.00" y="310" width="8.60" height="22.3" fill="#56bca4"/>
<rect x="514.30" y="310" width="8.60" height="22.3" fill="#74c078"/>
<rect x="522.60" y="310" width="8.60" height="22.3" fill="#92c848"/>
<rect x="530.90" y="310" width="8.60" height="22.3" fill="#b2d438"/>
<rect x="539.20" y="310" width="8.60" height="22.3" fill="#ccd836"/>
<rect x="547.50" y="310" width="8.60" height="22.3" fill="#e6da36"/>
<rect x="555.80" y="310" width="8.60" height="22.3" fill="#f2c634"/>
<rect x="564.10" y="310" width="8.60" height="22.3" fill="#f8a830"/>
<rect x="572.40" y="310" width="8.60" height="22.3" fill="#f48a28"/>
<rect x="580.70" y="310" width="8.60" height="22.3" fill="#f06a22"/>
<rect x="589.00" y="310" width="8.60" height="22.3" fill="#e04820"/>
<rect x="597.30" y="310" width="8.60" height="22.3" fill="#d03020"/>
<rect x="605.60" y="310" width="8.60" height="22.3" fill="#b02025"/>
<rect x="613.90" y="310" width="8.60" height="22.3" fill="#8c1a22"/>
<linearGradient id="d0" x1="0" y1="0" x2="0" y2="1"><stop offset="0.000" stop-color="#2d1645"/><stop offset="0.007" stop-color="#2d1645"/><stop offset="0.014" stop-color="#2d1645"/><stop offset="0.022" stop-color="#2d1645"/><stop offset="0.044" stop-color="#2d1645"/><stop offset="0.071" stop-color="#2d1645"/><stop offset="0.109" stop-color="#2d1645"/><stop offset="0.180" stop-color="#2d1645"/><stop offset="0.262" stop-color="#2d1645"/><stop offset="0.371" stop-color="#2d1645"/><stop offset="0.480" stop-color="#2d1645"/><stop offset="0.589" stop-color="#2d1645"/><stop offset="0.698" stop-color="#2d1645"/><stop offset="0.807" stop-color="#2d1645"/><stop offset="0.917" stop-color="#2d1645"/><stop offset="1.000" stop-color="#2d1645"/></linearGradient>
<rect x="456.20" y="332" width="8.60" height="183.3" fill="url(#d0)"/>
<linearGradient id="d1" x1="0" y1="0" x2="0" y2="1"><stop offset="0.000" stop-color="#4d66be"/><stop offset="0.007" stop-color="#4c61bb"/><stop offset="0.014" stop-color="#4b5bb7"/><stop offset="0.022" stop-color="#2d1645"/><stop offset="0.044" stop-color="#2d1645"/><stop offset="0.071" stop-color="#2d1645"/><stop offset="0.109" stop-color="#2d1645"/><stop offset="0.180" stop-color="#2d1645"/><stop offset="0.262" stop-color="#2d1645"/><stop offset="0.371" stop-color="#2d1645"/><stop offset="0.480" stop-color="#2d1645"/><stop offset="0.589" stop-color="#2d1645"/><stop offset="0.698" stop-color="#2d1645"/><stop offset="0.807" stop-color="#2d1645"/><stop offset="0.917" stop-color="#2d1645"/><stop offset="1.000" stop-color="#2d1645"/></linearGradient>
<rect x="464.50" y="332" width="8.60" height="183.3" fill="url(#d1)"/>
<linearGradient id="d2" x1="0" y1="0" x2="0" y2="1"><stop offset="0.000" stop-color="#5087d3"/><stop offset="0.007" stop-color="#4f81cf"/><stop offset="0.014" stop-color="#4f7bcb"/><stop offset="0.022" stop-color="#2d1645"/><stop offset="0.044" stop-color="#2d1645"/><stop offset="0.071" stop-color="#2d1645"/><stop offset="0.109" stop-color="#2d1645"/><stop offset="0.180" stop-color="#2d1645"/><stop offset="0.262" stop-color="#2d1645"/><stop offset="0.371" stop-color="#2d1645"/><stop offset="0.480" stop-color="#2d1645"/><stop offset="0.589" stop-color="#2d1645"/><stop offset="0.698" stop-color="#2d1645"/><stop offset="0.807" stop-color="#2d1645"/><stop offset="0.917" stop-color="#2d1645"/><stop offset="1.000" stop-color="#2d1645"/></linearGradient>
<rect x="472.80" y="332" width="8.60" height="183.3" fill="url(#d2)"/>
<linearGradient id="d3" x1="0" y1="0" x2="0" y2="1"><stop offset="0.000" stop-color="#30b0e3"/><stop offset="0.007" stop-color="#36a7e0"/><stop offset="0.014" stop-color="#3f9ddc"/><stop offset="0.022" stop-color="#4650b0"/><stop offset="0.044" stop-color="#424aab"/><stop offset="0.071" stop-color="#3e42a6"/><stop offset="0.109" stop-color="#383293"/><stop offset="0.180" stop-color="#2d1645"/><stop offset="0.262" stop-color="#2d1645"/><stop offset="0.371" stop-color="#2d1645"/><stop offset="0.480" stop-color="#2d1645"/><stop offset="0.589" stop-color="#2d1645"/><stop offset="0.698" stop-color="#2d1645"/><stop offset="0.807" stop-color="#2d1645"/><stop offset="0.917" stop-color="#2d1645"/><stop offset="1.000" stop-color="#2d1645"/></linearGradient>
<rect x="481.10" y="332" width="8.60" height="183.3" fill="url(#d3)"/>
<linearGradient id="d4" x1="0" y1="0" x2="0" y2="1"><stop offset="0.000" stop-color="#41b8c6"/><stop offset="0.007" stop-color="#3cb5cf"/><stop offset="0.014" stop-color="#36b3d8"/><stop offset="0.022" stop-color="#4e74c7"/><stop offset="0.044" stop-color="#4e71c4"/><stop offset="0.071" stop-color="#4e6dc2"/><stop offset="0.109" stop-color="#4d66be"/><stop offset="0.180" stop-color="#4c5fba"/><stop offset="0.262" stop-color="#4956b4"/><stop offset="0.371" stop-color="#4046a9"/><stop offset="0.480" stop-color="#3a3aa0"/><stop offset="0.589" stop-color="#362c8a"/><stop offset="0.698" stop-color="#332176"/><stop offset="0.807" stop-color="#2e1951"/><stop offset="0.917" stop-color="#2d1645"/><stop offset="1.000" stop-color="#2d1645"/></linearGradient>
<rect x="489.40" y="332" width="8.60" height="183.3" fill="url(#d4)"/>
<linearGradient id="d5" x1="0" y1="0" x2="0" y2="1"><stop offset="0.000" stop-color="#51bbad"/><stop offset="0.007" stop-color="#4bbab6"/><stop offset="0.014" stop-color="#45b9c0"/><stop offset="0.022" stop-color="#4a90d7"/><stop offset="0.044" stop-color="#4e8ad5"/><stop offset="0.071" stop-color="#5085d2"/><stop offset="0.109" stop-color="#4f7ccc"/><stop offset="0.180" stop-color="#4e73c6"/><stop offset="0.262" stop-color="#4e6cc1"/><stop offset="0.371" stop-color="#4d61bb"/><stop offset="0.480" stop-color="#4956b4"/><stop offset="0.589" stop-color="#424aab"/><stop offset="0.698" stop-color="#3d40a4"/><stop offset="0.807" stop-color="#393699"/><stop offset="0.917" stop-color="#362b89"/><stop offset="1.000" stop-color="#34257e"/></linearGradient>
<rect x="497.70" y="332" width="8.60" height="183.3" fill="url(#d5)"/>
<linearGradient id="d6" x1="0" y1="0" x2="0" y2="1"><stop offset="0.000" stop-color="#63be91"/><stop offset="0.007" stop-color="#5abc9f"/><stop offset="0.014" stop-color="#52bbaa"/><stop offset="0.022" stop-color="#30b0e3"/><stop offset="0.044" stop-color="#33abe2"/><stop offset="0.071" stop-color="#3aa3df"/><stop offset="0.109" stop-color="#4793d8"/><stop offset="0.180" stop-color="#5085d2"/><stop offset="0.262" stop-color="#4f7ccc"/><stop offset="0.371" stop-color="#4e6ec3"/><stop offset="0.480" stop-color="#4d64bd"/><stop offset="0.589" stop-color="#4b5ab7"/><stop offset="0.698" stop-color="#454faf"/><stop offset="0.807" stop-color="#3f44a7"/><stop offset="0.917" stop-color="#3b3ca1"/><stop offset="1.000" stop-color="#383497"/></linearGradient>
<rect x="506.00" y="332" width="8.60" height="183.3" fill="url(#d6)"/>
<linearGradient id="d7" x1="0" y1="0" x2="0" y2="1"><stop offset="0.000" stop-color="#77c174"/><stop offset="0.007" stop-color="#6dbf83"/><stop offset="0.014" stop-color="#63be91"/><stop offset="0.022" stop-color="#3db6cc"/><stop offset="0.044" stop-color="#3ab5d1"/><stop offset="0.071" stop-color="#36b3d8"/><stop offset="0.109" stop-color="#31ade3"/><stop offset="0.180" stop-color="#3f9cdc"/><stop offset="0.262" stop-color="#4d8cd6"/><stop offset="0.371" stop-color="#4f7bcb"/><stop offset="0.480" stop-color="#4e6dc2"/><stop offset="0.589" stop-color="#4d63bc"/><stop offset="0.698" stop-color="#4b5bb7"/><stop offset="0.807" stop-color="#454faf"/><stop offset="0.917" stop-color="#4045a7"/><stop offset="1.000" stop-color="#3c3ea3"/></linearGradient>
<rect x="514.30" y="332" width="8.60" height="183.3" fill="url(#d7)"/>
<linearGradient id="d8" x1="0" y1="0" x2="0" y2="1"><stop offset="0.000" stop-color="#89c656"/><stop offset="0.007" stop-color="#7fc367"/><stop offset="0.014" stop-color="#74c078"/><stop offset="0.022" stop-color="#4abab7"/><stop offset="0.044" stop-color="#46b9bd"/><stop offset="0.071" stop-color="#42b8c4"/><stop offset="0.109" stop-color="#39b4d4"/><stop offset="0.180" stop-color="#30b0e2"/><stop offset="0.262" stop-color="#3ba1de"/><stop offset="0.371" stop-color="#5086d3"/><stop offset="0.480" stop-color="#4f76c8"/><stop offset="0.589" stop-color="#4d6ac0"/><stop offset="0.698" stop-color="#4d61bb"/><stop offset="0.807" stop-color="#4a57b5"/><stop offset="0.917" stop-color="#444cad"/><stop offset="1.000" stop-color="#4045a8"/></linearGradient>
<rect x="522.60" y="332" width="8.60" height="183.3" fill="url(#d8)"/>
<linearGradient id="d9" x1="0" y1="0" x2="0" y2="1"><stop offset="0.000" stop-color="#9bcb44"/><stop offset="0.007" stop-color="#8fc74d"/><stop offset="0.014" stop-color="#84c45e"/><stop offset="0.022" stop-color="#56bca4"/><stop offset="0.044" stop-color="#52bbaa"/><stop offset="0.071" stop-color="#4dbab2"/><stop offset="0.109" stop-color="#43b8c2"/><stop offset="0.180" stop-color="#3ab5d2"/><stop offset="0.262" stop-color="#31b1e1"/><stop offset="0.371" stop-color="#4596d9"/><stop offset="0.480" stop-color="#4f7fce"/><stop offset="0.589" stop-color="#4e70c4"/><stop offset="0.698" stop-color="#4d66be"/><stop offset="0.807" stop-color="#4c5eb9"/><stop offset="0.917" stop-color="#4753b2"/><stop offset="1.000" stop-color="#434bac"/></linearGradient>
<rect x="530.90" y="332" width="8.60" height="183.3" fill="url(#d9)"/>
<linearGradient id="d10" x1="0" y1="0" x2="0" y2="1"><stop offset="0.000" stop-color="#acd23b"/><stop offset="0.007" stop-color="#a0cd41"/><stop offset="0.014" stop-color="#94c947"/><stop offset="0.022" stop-color="#66be8c"/><stop offset="0.044" stop-color="#60bd95"/><stop offset="0.071" stop-color="#59bca0"/><stop offset="0.109" stop-color="#4dbab3"/><stop offset="0.180" stop-color="#43b8c3"/><stop offset="0.262" stop-color="#39b4d2"/><stop offset="0.371" stop-color="#38a5e0"/><stop offset="0.480" stop-color="#5087d3"/><stop offset="0.589" stop-color="#4f77c9"/><stop offset="0.698" stop-color="#4e6bc1"/><stop offset="0.807" stop-color="#4d62bc"/><stop offset="0.917" stop-color="#4a59b6"/><stop offset="1.000" stop-color="#4650b0"/></linearGradient>
<rect x="539.20" y="332" width="8.60" height="183.3" fill="url(#d10)"/>
<linearGradient id="d11" x1="0" y1="0" x2="0" y2="1"><stop offset="0.000" stop-color="#bad537"/><stop offset="0.007" stop-color="#b0d339"/><stop offset="0.014" stop-color="#a3ce3f"/><stop offset="0.022" stop-color="#76c076"/><stop offset="0.044" stop-color="#6fbf7f"/><stop offset="0.071" stop-color="#68be8a"/><stop offset="0.109" stop-color="#56bca4"/><stop offset="0.180" stop-color="#4bbab5"/><stop offset="0.262" stop-color="#41b8c5"/><stop offset="0.371" stop-color="#31b1e1"/><stop offset="0.480" stop-color="#4892d8"/><stop offset="0.589" stop-color="#4f7dcd"/><stop offset="0.698" stop-color="#4e70c4"/><stop offset="0.807" stop-color="#4d66be"/><stop offset="0.917" stop-color="#4c5db9"/><stop offset="1.000" stop-color="#4855b3"/></linearGradient>
<rect x="547.50" y="332" width="8.60" height="183.3" fill="url(#d11)"/>
<linearGradient id="d12" x1="0" y1="0" x2="0" y2="1"><stop offset="0.000" stop-color="#c7d736"/><stop offset="0.007" stop-color="#bdd637"/><stop offset="0.014" stop-color="#b2d438"/><stop offset="0.022" stop-color="#84c45e"/><stop offset="0.044" stop-color="#7ec369"/><stop offset="0.071" stop-color="#76c075"/><stop offset="0.109" stop-color="#63be91"/><stop offset="0.180" stop-color="#54bca8"/><stop offset="0.262" stop-color="#49b9b9"/><stop offset="0.371" stop-color="#37b3d6"/><stop offset="0.480" stop-color="#3e9ddd"/><stop offset="0.589" stop-color="#5083d1"/><stop offset="0.698" stop-color="#4e75c7"/><stop offset="0.807" stop-color="#4d69c0"/><stop offset="0.917" stop-color="#4c60bb"/><stop offset="1.000" stop-color="#4b5ab6"/></linearGradient>
<rect x="555.80" y="332" width="8.60" height="183.3" fill="url(#d12)"/>
<linearGradient id="d13" x1="0" y1="0" x2="0" y2="1"><stop offset="0.000" stop-color="#d3d936"/><stop offset="0.007" stop-color="#c8d736"/><stop offset="0.014" stop-color="#bdd637"/><stop offset="0.022" stop-color="#92c848"/><stop offset="0.044" stop-color="#8bc653"/><stop offset="0.071" stop-color="#83c460"/><stop offset="0.109" stop-color="#70bf7f"/><stop offset="0.180" stop-color="#5ebd98"/><stop offset="0.262" stop-color="#50bbad"/><stop offset="0.371" stop-color="#3db6cc"/><stop offset="0.480" stop-color="#35a8e1"/><stop offset="0.589" stop-color="#4f89d4"/><stop offset="0.698" stop-color="#4f79ca"/><stop offset="0.807" stop-color="#4e6dc2"/><stop offset="0.917" stop-color="#4d63bc"/><stop offset="1.000" stop-color="#4c5db9"/></linearGradient>
<rect x="564.10" y="332" width="8.60" height="183.3" fill="url(#d13)"/>
<linearGradient id="d14" x1="0" y1="0" x2="0" y2="1"><stop offset="0.000" stop-color="#dfd936"/><stop offset="0.007" stop-color="#d4d936"/><stop offset="0.014" stop-color="#c9d736"/><stop offset="0.022" stop-color="#a0cd41"/><stop offset="0.044" stop-color="#99ca45"/><stop offset="0.071" stop-color="#90c74c"/><stop offset="0.109" stop-color="#7bc26c"/><stop offset="0.180" stop-color="#69bf87"/><stop offset="0.262" stop-color="#58bca2"/><stop offset="0.371" stop-color="#43b8c2"/><stop offset="0.480" stop-color="#30b0e2"/><stop offset="0.589" stop-color="#4891d8"/><stop offset="0.698" stop-color="#4f7ecd"/><stop offset="0.807" stop-color="#4e70c4"/><stop offset="0.917" stop-color="#4d66be"/><stop offset="1.000" stop-color="#4c60ba"/></linearGradient>
<rect x="572.40" y="332" width="8.60" height="183.3" fill="url(#d14)"/>
<linearGradient id="d15" x1="0" y1="0" x2="0" y2="1"><stop offset="0.000" stop-color="#e8d636"/><stop offset="0.007" stop-color="#dfd936"/><stop offset="0.014" stop-color="#d3d936"/><stop offset="0.022" stop-color="#add23a"/><stop offset="0.044" stop-color="#a6cf3e"/><stop offset="0.071" stop-color="#9ccc43"/><stop offset="0.109" stop-color="#87c55a"/><stop offset="0.180" stop-color="#74c078"/><stop offset="0.262" stop-color="#62be93"/><stop offset="0.371" stop-color="#49b9b9"/><stop offset="0.480" stop-color="#35b2da"/><stop offset="0.589" stop-color="#419adb"/><stop offset="0.698" stop-color="#5082d0"/><stop offset="0.807" stop-color="#4e74c6"/><stop offset="0.917" stop-color="#4d69c0"/><stop offset="1.000" stop-color="#4d62bb"/></linearGradient>
<rect x="580.70" y="332" width="8.60" height="183.3" fill="url(#d15)"/>
<linearGradient id="d16" x1="0" y1="0" x2="0" y2="1"><stop offset="0.000" stop-color="#edce35"/><stop offset="0.007" stop-color="#e8d736"/><stop offset="0.014" stop-color="#ded936"/><stop offset="0.022" stop-color="#b9d537"/><stop offset="0.044" stop-color="#b2d438"/><stop offset="0.071" stop-color="#a9d13d"/><stop offset="0.109" stop-color="#92c849"/><stop offset="0.180" stop-color="#7ec367"/><stop offset="0.262" stop-color="#6bbf85"/><stop offset="0.371" stop-color="#4ebab0"/><stop offset="0.480" stop-color="#39b4d3"/><stop offset="0.589" stop-color="#3ba2de"/><stop offset="0.698" stop-color="#5086d3"/><stop offset="0.807" stop-color="#4f77c9"/><stop offset="0.917" stop-color="#4e6bc1"/><stop offset="1.000" stop-color="#4d64bd"/></linearGradient>
<rect x="589.00" y="332" width="8.60" height="183.3" fill="url(#d16)"/>
<linearGradient id="d17" x1="0" y1="0" x2="0" y2="1"><stop offset="0.000" stop-color="#f2c634"/><stop offset="0.007" stop-color="#eccf35"/><stop offset="0.014" stop-color="#e7d936"/><stop offset="0.022" stop-color="#c3d737"/><stop offset="0.044" stop-color="#bcd637"/><stop offset="0.071" stop-color="#b4d438"/><stop offset="0.109" stop-color="#9dcc43"/><stop offset="0.180" stop-color="#88c558"/><stop offset="0.262" stop-color="#74c077"/><stop offset="0.371" stop-color="#54bca8"/><stop offset="0.480" stop-color="#3eb6cb"/><stop offset="0.589" stop-color="#34a9e1"/><stop offset="0.698" stop-color="#4d8cd5"/><stop offset="0.807" stop-color="#4f7acb"/><stop offset="0.917" stop-color="#4e6ec3"/><stop offset="1.000" stop-color="#4d66be"/></linearGradient>
<rect x="597.30" y="332" width="8.60" height="183.3" fill="url(#d17)"/>
<linearGradient id="d18" x1="0" y1="0" x2="0" y2="1"><stop offset="0.000" stop-color="#f4ba32"/><stop offset="0.007" stop-color="#f1c834"/><stop offset="0.014" stop-color="#ebd135"/><stop offset="0.022" stop-color="#cdd836"/><stop offset="0.044" stop-color="#c6d736"/><stop offset="0.071" stop-color="#bed637"/><stop offset="0.109" stop-color="#a8d03d"/><stop offset="0.180" stop-color="#92c848"/><stop offset="0.262" stop-color="#7dc369"/><stop offset="0.371" stop-color="#5abd9d"/><stop offset="0.480" stop-color="#42b8c4"/><stop offset="0.589" stop-color="#2fb0e3"/><stop offset="0.698" stop-color="#4892d8"/><stop offset="0.807" stop-color="#4f7ecd"/><stop offset="0.917" stop-color="#4e70c4"/><stop offset="1.000" stop-color="#4d68bf"/></linearGradient>
<rect x="605.60" y="332" width="8.60" height="183.3" fill="url(#d18)"/>
<linearGradient id="d19" x1="0" y1="0" x2="0" y2="1"><stop offset="0.000" stop-color="#f7ae31"/><stop offset="0.007" stop-color="#f4bd33"/><stop offset="0.014" stop-color="#f0ca34"/><stop offset="0.022" stop-color="#d6d936"/><stop offset="0.044" stop-color="#cfd836"/><stop offset="0.071" stop-color="#c7d736"/><stop offset="0.109" stop-color="#b2d438"/><stop offset="0.180" stop-color="#9ccc43"/><stop offset="0.262" stop-color="#86c55b"/><stop offset="0.371" stop-color="#62be92"/><stop offset="0.480" stop-color="#46b9be"/><stop offset="0.589" stop-color="#33b2de"/><stop offset="0.698" stop-color="#4398da"/><stop offset="0.807" stop-color="#4f81cf"/><stop offset="0.917" stop-color="#4e72c6"/><stop offset="1.000" stop-color="#4d6ac0"/></linearGradient>
<rect x="613.90" y="332" width="8.60" height="183.3" fill="url(#d19)"/>
<rect x="481.10" y="336.0" width="8.60" height="1.8" fill="#4c60ba"/>
<rect x="489.40" y="336.0" width="8.60" height="1.8" fill="#4e74c7"/>
<rect x="497.70" y="336.0" width="8.60" height="1.8" fill="#4a90d7"/>
<rect x="481.10" y="337.8" width="8.60" height="1.0" fill="#444dae"/>
<rect x="489.40" y="337.8" width="8.60" height="1.0" fill="#4e73c6"/>
<rect x="497.70" y="337.8" width="8.60" height="1.0" fill="#4c8dd6"/>
<rect x="472.80" y="338.8" width="8.60" height="1.8" fill="#3e41a5"/>
<rect x="481.10" y="338.8" width="8.60" height="1.8" fill="#454eae"/>
<rect x="489.40" y="338.8" width="8.60" height="1.8" fill="#4e72c5"/>
<rect x="497.70" y="338.8" width="8.60" height="1.8" fill="#4d8cd5"/>
<rect x="472.80" y="341.6" width="8.60" height="1.8" fill="#3e41a5"/>
<rect x="481.10" y="341.6" width="8.60" height="1.8" fill="#454eae"/>
<rect x="489.40" y="341.6" width="8.60" height="1.8" fill="#4e6fc4"/>
<rect x="497.70" y="341.6" width="8.60" height="1.8" fill="#5088d4"/>
<rect x="481.10" y="343.4" width="8.60" height="1.0" fill="#2d1645"/>
<rect x="489.40" y="343.4" width="8.60" height="1.0" fill="#2d1645"/>
<rect x="497.70" y="343.4" width="8.60" height="1.0" fill="#2d1645"/>
<rect x="506.00" y="343.4" width="8.60" height="1.0" fill="#434cac"/>
<rect x="514.30" y="343.4" width="8.60" height="1.0" fill="#4e70c4"/>
<rect x="522.60" y="343.4" width="8.60" height="1.0" fill="#5088d4"/>
<rect x="472.80" y="344.4" width="8.60" height="1.8" fill="#434bac"/>
<rect x="481.10" y="344.4" width="8.60" height="1.8" fill="#4a59b6"/>
<rect x="489.40" y="344.4" width="8.60" height="1.8" fill="#4e6dc2"/>
<rect x="497.70" y="344.4" width="8.60" height="1.8" fill="#5085d2"/>
<rect x="481.10" y="346.7" width="8.60" height="1.8" fill="#2d1645"/>
<rect x="489.40" y="346.7" width="8.60" height="1.8" fill="#2d1645"/>
<rect x="497.70" y="346.7" width="8.60" height="1.8" fill="#454faf"/>
<rect x="506.00" y="346.7" width="8.60" height="1.8" fill="#4e6ec3"/>
<rect x="514.30" y="346.7" width="8.60" height="1.8" fill="#5084d1"/>
<rect x="522.60" y="346.7" width="8.60" height="1.8" fill="#3e9edd"/>
<rect x="472.80" y="350.8" width="8.60" height="1.3" fill="#4855b3"/>
<rect x="481.10" y="350.8" width="8.60" height="1.3" fill="#4c60ba"/>
<rect x="489.40" y="350.8" width="8.60" height="1.3" fill="#4d68bf"/>
<rect x="497.70" y="350.8" width="8.60" height="1.3" fill="#4f7dcd"/>
<rect x="472.80" y="352.1" width="8.60" height="1.0" fill="#4c60ba"/>
<rect x="481.10" y="352.1" width="8.60" height="1.0" fill="#4d68bf"/>
<rect x="489.40" y="352.1" width="8.60" height="1.0" fill="#4e70c4"/>
<rect x="497.70" y="352.1" width="8.60" height="1.0" fill="#4f7ccc"/>
<rect x="464.50" y="353.1" width="8.60" height="1.3" fill="#3e41a5"/>
<rect x="472.80" y="353.1" width="8.60" height="1.3" fill="#454eae"/>
<rect x="481.10" y="353.1" width="8.60" height="1.3" fill="#4c5cb8"/>
<rect x="489.40" y="353.1" width="8.60" height="1.3" fill="#4d66be"/>
<rect x="497.70" y="353.1" width="8.60" height="1.3" fill="#4f7bcb"/>
<rect x="481.10" y="355.4" width="8.60" height="1.8" fill="#4c60ba"/>
<rect x="489.40" y="355.4" width="8.60" height="1.8" fill="#4d68bf"/>
<rect x="497.70" y="355.4" width="8.60" height="1.8" fill="#4f79ca"/>
<rect x="472.80" y="357.2" width="8.60" height="1.0" fill="#4855b3"/>
<rect x="481.10" y="357.2" width="8.60" height="1.0" fill="#4c60ba"/>
<rect x="489.40" y="357.2" width="8.60" height="1.0" fill="#4d68bf"/>
<rect x="497.70" y="357.2" width="8.60" height="1.0" fill="#4f78c9"/>
<rect x="481.10" y="358.2" width="8.60" height="1.3" fill="#3e41a5"/>
<rect x="489.40" y="358.2" width="8.60" height="1.3" fill="#4d62bc"/>
<rect x="497.70" y="358.2" width="8.60" height="1.3" fill="#4f77c9"/>
<rect x="464.50" y="359.5" width="8.60" height="1.0" fill="#3e41a5"/>
<rect x="472.80" y="359.5" width="8.60" height="1.0" fill="#454eae"/>
<rect x="481.10" y="359.5" width="8.60" height="1.0" fill="#4c5cb8"/>
<rect x="489.40" y="359.5" width="8.60" height="1.0" fill="#4d64bd"/>
<rect x="497.70" y="359.5" width="8.60" height="1.0" fill="#4f76c8"/>
<rect x="481.10" y="361.5" width="8.60" height="1.8" fill="#2d1645"/>
<rect x="489.40" y="361.5" width="8.60" height="1.8" fill="#2d1645"/>
<rect x="497.70" y="361.5" width="8.60" height="1.8" fill="#2d1645"/>
<rect x="506.00" y="361.5" width="8.60" height="1.8" fill="#4b5bb7"/>
<rect x="514.30" y="361.5" width="8.60" height="1.8" fill="#4e6fc4"/>
<rect x="522.60" y="361.5" width="8.60" height="1.8" fill="#4f82d0"/>
<rect x="472.80" y="365.3" width="8.60" height="1.8" fill="#4c60ba"/>
<rect x="481.10" y="365.3" width="8.60" height="1.8" fill="#4d68bf"/>
<rect x="489.40" y="365.3" width="8.60" height="1.8" fill="#4e70c4"/>
<rect x="497.70" y="365.3" width="8.60" height="1.8" fill="#4f7aca"/>
<rect x="481.10" y="368.1" width="8.60" height="1.0" fill="#2d1645"/>
<rect x="489.40" y="368.1" width="8.60" height="1.0" fill="#2d1645"/>
<rect x="497.70" y="368.1" width="8.60" height="1.0" fill="#2d1645"/>
<rect x="506.00" y="368.1" width="8.60" height="1.0" fill="#4045a7"/>
<rect x="514.30" y="368.1" width="8.60" height="1.0" fill="#4d67be"/>
<rect x="522.60" y="368.1" width="8.60" height="1.0" fill="#4f79ca"/>
<rect x="481.10" y="369.6" width="8.60" height="1.0" fill="#3e41a5"/>
<rect x="489.40" y="369.6" width="8.60" height="1.0" fill="#4c5db9"/>
<rect x="497.70" y="369.6" width="8.60" height="1.0" fill="#4e70c4"/>
<rect x="472.80" y="370.6" width="8.60" height="1.0" fill="#3e41a5"/>
<rect x="481.10" y="370.6" width="8.60" height="1.0" fill="#454eae"/>
<rect x="489.40" y="370.6" width="8.60" height="1.0" fill="#4c5cb8"/>
<rect x="497.70" y="370.6" width="8.60" height="1.0" fill="#4e70c4"/>
<rect x="472.80" y="372.1" width="8.60" height="1.3" fill="#3e41a5"/>
<rect x="481.10" y="372.1" width="8.60" height="1.3" fill="#454eae"/>
<rect x="489.40" y="372.1" width="8.60" height="1.3" fill="#4c5cb8"/>
<rect x="497.70" y="372.1" width="8.60" height="1.3" fill="#4e6fc3"/>
<rect x="481.10" y="373.4" width="8.60" height="1.0" fill="#2d1645"/>
<rect x="489.40" y="373.4" width="8.60" height="1.0" fill="#2d1645"/>
<rect x="497.70" y="373.4" width="8.60" height="1.0" fill="#34257e"/>
<rect x="506.00" y="373.4" width="8.60" height="1.0" fill="#4c5eb9"/>
<rect x="514.30" y="373.4" width="8.60" height="1.0" fill="#4e6fc4"/>
<rect x="522.60" y="373.4" width="8.60" height="1.0" fill="#4f7fce"/>
<rect x="472.80" y="378.4" width="8.60" height="1.0" fill="#434bac"/>
<rect x="481.10" y="378.4" width="8.60" height="1.0" fill="#4a59b6"/>
<rect x="489.40" y="378.4" width="8.60" height="1.0" fill="#4d62bc"/>
<rect x="497.70" y="378.4" width="8.60" height="1.0" fill="#4e6cc2"/>
<rect x="472.80" y="382.2" width="8.60" height="1.8" fill="#3e41a5"/>
<rect x="481.10" y="382.2" width="8.60" height="1.8" fill="#454eae"/>
<rect x="489.40" y="382.2" width="8.60" height="1.8" fill="#4c5cb8"/>
<rect x="497.70" y="382.2" width="8.60" height="1.8" fill="#4d6ac1"/>
<rect x="481.10" y="386.5" width="8.60" height="1.3" fill="#4855b3"/>
<rect x="489.40" y="386.5" width="8.60" height="1.3" fill="#4c60ba"/>
<rect x="497.70" y="386.5" width="8.60" height="1.3" fill="#4d68bf"/>
<rect x="481.10" y="387.8" width="8.60" height="1.0" fill="#3e41a5"/>
<rect x="489.40" y="387.8" width="8.60" height="1.0" fill="#4550af"/>
<rect x="497.70" y="387.8" width="8.60" height="1.0" fill="#4d67bf"/>
<rect x="481.10" y="390.3" width="8.60" height="1.0" fill="#4c60ba"/>
<rect x="489.40" y="390.3" width="8.60" height="1.0" fill="#4d68bf"/>
<rect x="497.70" y="390.3" width="8.60" height="1.0" fill="#4e70c4"/>
<rect x="472.80" y="391.3" width="8.60" height="1.0" fill="#4855b3"/>
<rect x="481.10" y="391.3" width="8.60" height="1.0" fill="#4c60ba"/>
<rect x="489.40" y="391.3" width="8.60" height="1.0" fill="#4d68bf"/>
<rect x="497.70" y="391.3" width="8.60" height="1.0" fill="#4e70c4"/>
<rect x="481.10" y="392.3" width="8.60" height="1.0" fill="#4855b3"/>
<rect x="489.40" y="392.3" width="8.60" height="1.0" fill="#4c60ba"/>
<rect x="497.70" y="392.3" width="8.60" height="1.0" fill="#4d68bf"/>
<rect x="472.80" y="397.6" width="8.60" height="1.8" fill="#4855b3"/>
<rect x="481.10" y="397.6" width="8.60" height="1.8" fill="#4c60ba"/>
<rect x="489.40" y="397.6" width="8.60" height="1.8" fill="#4d68bf"/>
<rect x="497.70" y="397.6" width="8.60" height="1.8" fill="#4e70c4"/>
<rect x="472.80" y="399.4" width="8.60" height="1.0" fill="#3e41a5"/>
<rect x="481.10" y="399.4" width="8.60" height="1.0" fill="#454eae"/>
<rect x="489.40" y="399.4" width="8.60" height="1.0" fill="#4c5cb8"/>
<rect x="497.70" y="399.4" width="8.60" height="1.0" fill="#4d64bd"/>
<rect x="481.10" y="400.4" width="8.60" height="1.3" fill="#3e41a5"/>
<rect x="489.40" y="400.4" width="8.60" height="1.3" fill="#454eae"/>
<rect x="497.70" y="400.4" width="8.60" height="1.3" fill="#4d61bb"/>
<rect x="464.50" y="403.7" width="8.60" height="1.8" fill="#3e41a5"/>
<rect x="472.80" y="403.7" width="8.60" height="1.8" fill="#454eae"/>
<rect x="481.10" y="403.7" width="8.60" height="1.8" fill="#4c5cb8"/>
<rect x="489.40" y="403.7" width="8.60" height="1.8" fill="#4d64bd"/>
<rect x="497.70" y="403.7" width="8.60" height="1.8" fill="#4e6cc2"/>
<rect x="472.80" y="411.6" width="8.60" height="1.0" fill="#4c60ba"/>
<rect x="481.10" y="411.6" width="8.60" height="1.0" fill="#4d68bf"/>
<rect x="489.40" y="411.6" width="8.60" height="1.0" fill="#4e70c4"/>
<rect x="497.70" y="411.6" width="8.60" height="1.0" fill="#4f7aca"/>
<rect x="472.80" y="418.2" width="8.60" height="1.3" fill="#434bac"/>
<rect x="481.10" y="418.2" width="8.60" height="1.3" fill="#4a59b6"/>
<rect x="489.40" y="418.2" width="8.60" height="1.3" fill="#4d62bc"/>
<rect x="497.70" y="418.2" width="8.60" height="1.3" fill="#4d6ac0"/>
<rect x="481.10" y="426.1" width="8.60" height="1.0" fill="#4855b3"/>
<rect x="489.40" y="426.1" width="8.60" height="1.0" fill="#4c60ba"/>
<rect x="497.70" y="426.1" width="8.60" height="1.0" fill="#4d68bf"/>
<rect x="481.10" y="428.6" width="8.60" height="1.0" fill="#4855b3"/>
<rect x="489.40" y="428.6" width="8.60" height="1.0" fill="#4c60ba"/>
<rect x="497.70" y="428.6" width="8.60" height="1.0" fill="#4d68bf"/>
<rect x="489.40" y="428.4" width="8.60" height="1.3" fill="#321f6f"/>
<rect x="497.70" y="428.4" width="8.60" height="1.3" fill="#372e8d"/>
<rect x="506.00" y="428.4" width="8.60" height="1.3" fill="#3a3a9f"/>
<rect x="514.30" y="428.4" width="8.60" height="1.3" fill="#3d40a4"/>
<rect x="522.60" y="428.4" width="8.60" height="1.3" fill="#4046a9"/>
<rect x="530.90" y="428.4" width="8.60" height="1.3" fill="#434bac"/>
<rect x="539.20" y="428.4" width="8.60" height="1.3" fill="#4c5db9"/>
<rect x="547.50" y="428.4" width="8.60" height="1.3" fill="#4d69c0"/>
<rect x="555.80" y="428.4" width="8.60" height="1.3" fill="#4f77c9"/>
<rect x="564.10" y="428.4" width="8.60" height="1.3" fill="#5088d4"/>
<rect x="489.40" y="459.2" width="8.60" height="1.3" fill="#2f1b59"/>
<rect x="497.70" y="459.2" width="8.60" height="1.3" fill="#332177"/>
<rect x="506.00" y="459.2" width="8.60" height="1.3" fill="#352985"/>
<rect x="514.30" y="459.2" width="8.60" height="1.3" fill="#373090"/>
<rect x="522.60" y="459.2" width="8.60" height="1.3" fill="#3d40a4"/>
<rect x="530.90" y="459.2" width="8.60" height="1.3" fill="#454faf"/>
<rect x="539.20" y="459.2" width="8.60" height="1.3" fill="#4c5eb9"/>
<rect x="547.50" y="459.2" width="8.60" height="1.3" fill="#4d69c0"/>
<rect x="489.40" y="445.6" width="8.60" height="1.3" fill="#322071"/>
<rect x="497.70" y="445.6" width="8.60" height="1.3" fill="#3a3a9f"/>
<rect x="506.00" y="445.6" width="8.60" height="1.3" fill="#424aab"/>
<rect x="514.30" y="445.6" width="8.60" height="1.3" fill="#4b59b6"/>
<rect x="522.60" y="445.6" width="8.60" height="1.3" fill="#4d64bd"/>
<rect x="489.40" y="472.5" width="8.60" height="1.3" fill="#2f1a56"/>
<rect x="497.70" y="472.5" width="8.60" height="1.3" fill="#362b88"/>
<rect x="506.00" y="472.5" width="8.60" height="1.3" fill="#3b3da2"/>
<rect x="514.30" y="472.5" width="8.60" height="1.3" fill="#424aab"/>
<rect x="522.60" y="472.5" width="8.60" height="1.3" fill="#4957b4"/>
<rect x="489.40" y="487" width="8.60" height="1.3" fill="#2d1645"/>
<rect x="497.70" y="487" width="8.60" height="1.3" fill="#352884"/>
<rect x="506.00" y="487" width="8.60" height="1.3" fill="#3a3ba0"/>
<rect x="514.30" y="487" width="8.60" height="1.3" fill="#4147a9"/>
<rect x="489.40" y="500.5" width="8.60" height="1.3" fill="#2d1645"/>
<rect x="497.70" y="500.5" width="8.60" height="1.3" fill="#33237c"/>
<rect x="506.00" y="500.5" width="8.60" height="1.3" fill="#383496"/>
<rect x="514.30" y="500.5" width="8.60" height="1.3" fill="#3e41a5"/>
<rect x="489.40" y="419" width="8.60" height="1.3" fill="#362c8a"/>
<rect x="497.70" y="419" width="8.60" height="1.3" fill="#4148aa"/>
<rect x="506.00" y="419" width="8.60" height="1.3" fill="#4c5bb7"/>
<rect x="514.30" y="419" width="8.60" height="1.3" fill="#4d67be"/>
<rect x="522.60" y="419" width="8.60" height="1.3" fill="#4e72c5"/>
</g>
<rect x="489.40" y="414.0" width="8.60" height="1" fill="#383597"/>
<rect x="497.70" y="414.0" width="8.60" height="1" fill="#444dad"/>
<rect x="506.00" y="414.0" width="8.60" height="1" fill="#4c5db8"/>
<rect x="514.30" y="414.0" width="8.60" height="1" fill="#4d64bd"/>
<rect x="522.60" y="414.0" width="8.60" height="1" fill="#4e6bc1"/>
<rect x="530.90" y="414.0" width="8.60" height="1" fill="#4e72c5"/>
<rect x="539.20" y="414.0" width="8.60" height="1" fill="#4f78c9"/>
<rect x="547.50" y="414.0" width="8.60" height="1" fill="#5084d1"/>
<rect x="555.80" y="414.0" width="8.60" height="1" fill="#4595d9"/>
<rect x="564.10" y="414.0" width="8.60" height="1" fill="#35a9e1"/>
<rect x="489.40" y="418.6" width="8.60" height="1" fill="#383497"/>
<rect x="497.70" y="418.6" width="8.60" height="1" fill="#454eae"/>
<rect x="506.00" y="418.6" width="8.60" height="1" fill="#4c5eb9"/>
<rect x="514.30" y="418.6" width="8.60" height="1" fill="#4d66be"/>
<rect x="522.60" y="418.6" width="8.60" height="1" fill="#4e6dc2"/>
<rect x="530.90" y="418.6" width="8.60" height="1" fill="#4e74c6"/>
<rect x="539.20" y="418.6" width="8.60" height="1" fill="#4f7acb"/>
<rect x="547.50" y="418.6" width="8.60" height="1" fill="#5084d2"/>
<rect x="555.80" y="418.6" width="8.60" height="1" fill="#4793d8"/>
<rect x="564.10" y="418.6" width="8.60" height="1" fill="#39a4df"/>
<rect x="489.40" y="421.6" width="8.60" height="1" fill="#383497"/>
<rect x="497.70" y="421.6" width="8.60" height="1" fill="#454faf"/>
<rect x="506.00" y="421.6" width="8.60" height="1" fill="#4c5eb9"/>
<rect x="514.30" y="421.6" width="8.60" height="1" fill="#4d68bf"/>
<rect x="522.60" y="421.6" width="8.60" height="1" fill="#4e71c5"/>
<rect x="530.90" y="421.6" width="8.60" height="1" fill="#4f7bcc"/>
<rect x="489.40" y="427.0" width="8.60" height="1" fill="#362c8b"/>
<rect x="497.70" y="427.0" width="8.60" height="1" fill="#4249ab"/>
<rect x="506.00" y="427.0" width="8.60" height="1" fill="#4c5cb8"/>
<rect x="514.30" y="427.0" width="8.60" height="1" fill="#4d67be"/>
<rect x="489.40" y="429.2" width="8.60" height="1" fill="#362e8d"/>
<rect x="497.70" y="429.2" width="8.60" height="1" fill="#4248aa"/>
<rect x="506.00" y="429.2" width="8.60" height="1" fill="#4a58b5"/>
<rect x="514.30" y="429.2" width="8.60" height="1" fill="#4d61bb"/>
<rect x="522.60" y="429.2" width="8.60" height="1" fill="#4d67bf"/>
<rect x="530.90" y="429.2" width="8.60" height="1" fill="#4e6dc2"/>
<rect x="539.20" y="429.2" width="8.60" height="1" fill="#4e73c6"/>
<rect x="547.50" y="429.2" width="8.60" height="1" fill="#4f7ccc"/>
<rect x="555.80" y="429.2" width="8.60" height="1" fill="#5085d2"/>
<rect x="564.10" y="429.2" width="8.60" height="1" fill="#4793d9"/>
<rect x="489.40" y="431.4" width="8.60" height="1" fill="#352a87"/>
<rect x="497.70" y="431.4" width="8.60" height="1" fill="#3f44a7"/>
<rect x="506.00" y="431.4" width="8.60" height="1" fill="#4752b1"/>
<rect x="514.30" y="431.4" width="8.60" height="1" fill="#4c60ba"/>
<rect x="522.60" y="431.4" width="8.60" height="1" fill="#4d69c0"/>
<rect x="530.90" y="431.4" width="8.60" height="1" fill="#4e72c6"/>
<rect x="489.40" y="434.4" width="8.60" height="1" fill="#34257f"/>
<rect x="497.70" y="434.4" width="8.60" height="1" fill="#3c3ea3"/>
<rect x="506.00" y="434.4" width="8.60" height="1" fill="#434bac"/>
<rect x="514.30" y="434.4" width="8.60" height="1" fill="#4855b3"/>
<rect x="522.60" y="434.4" width="8.60" height="1" fill="#4c5db9"/>
<rect x="530.90" y="434.4" width="8.60" height="1" fill="#4d62bb"/>
<rect x="539.20" y="434.4" width="8.60" height="1" fill="#4d66be"/>
<rect x="547.50" y="434.4" width="8.60" height="1" fill="#4e6fc3"/>
<rect x="555.80" y="434.4" width="8.60" height="1" fill="#4f7acb"/>
<rect x="564.10" y="434.4" width="8.60" height="1" fill="#5087d3"/>
<rect x="489.40" y="439.0" width="8.60" height="1" fill="#352986"/>
<rect x="497.70" y="439.0" width="8.60" height="1" fill="#4146a9"/>
<rect x="506.00" y="439.0" width="8.60" height="1" fill="#4a58b5"/>
<rect x="514.30" y="439.0" width="8.60" height="1" fill="#4d62bc"/>
<rect x="489.40" y="442.8" width="8.60" height="1" fill="#352782"/>
<rect x="497.70" y="442.8" width="8.60" height="1" fill="#4045a8"/>
<rect x="506.00" y="442.8" width="8.60" height="1" fill="#4956b3"/>
<rect x="514.30" y="442.8" width="8.60" height="1" fill="#4c61bb"/>
<rect x="489.40" y="446.6" width="8.60" height="1" fill="#322175"/>
<rect x="497.70" y="446.6" width="8.60" height="1" fill="#3a399f"/>
<rect x="506.00" y="446.6" width="8.60" height="1" fill="#4045a8"/>
<rect x="514.30" y="446.6" width="8.60" height="1" fill="#4854b2"/>
<rect x="522.60" y="446.6" width="8.60" height="1" fill="#4c60ba"/>
<rect x="530.90" y="446.6" width="8.60" height="1" fill="#4d69c0"/>
<rect x="489.40" y="448.8" width="8.60" height="1" fill="#322073"/>
<rect x="497.70" y="448.8" width="8.60" height="1" fill="#3b3ca1"/>
<rect x="506.00" y="448.8" width="8.60" height="1" fill="#444dad"/>
<rect x="514.30" y="448.8" width="8.60" height="1" fill="#4c5cb8"/>
<rect x="489.40" y="453.4" width="8.60" height="1" fill="#322073"/>
<rect x="497.70" y="453.4" width="8.60" height="1" fill="#3a3aa0"/>
<rect x="506.00" y="453.4" width="8.60" height="1" fill="#4147a9"/>
<rect x="514.30" y="453.4" width="8.60" height="1" fill="#4651b0"/>
<rect x="522.60" y="453.4" width="8.60" height="1" fill="#4b59b6"/>
<rect x="530.90" y="453.4" width="8.60" height="1" fill="#4d62bb"/>
<rect x="539.20" y="453.4" width="8.60" height="1" fill="#4d69c0"/>
<rect x="547.50" y="453.4" width="8.60" height="1" fill="#4e70c4"/>
<rect x="489.40" y="458.0" width="8.60" height="1" fill="#322173"/>
<rect x="497.70" y="458.0" width="8.60" height="1" fill="#3b3da2"/>
<rect x="506.00" y="458.0" width="8.60" height="1" fill="#434aac"/>
<rect x="514.30" y="458.0" width="8.60" height="1" fill="#4957b4"/>
<rect x="522.60" y="458.0" width="8.60" height="1" fill="#4c60ba"/>
<rect x="530.90" y="458.0" width="8.60" height="1" fill="#4d66be"/>
<rect x="489.40" y="461.0" width="8.60" height="1" fill="#311e67"/>
<rect x="497.70" y="461.0" width="8.60" height="1" fill="#383294"/>
<rect x="506.00" y="461.0" width="8.60" height="1" fill="#3d3fa4"/>
<rect x="514.30" y="461.0" width="8.60" height="1" fill="#4147aa"/>
<rect x="522.60" y="461.0" width="8.60" height="1" fill="#454faf"/>
<rect x="530.90" y="461.0" width="8.60" height="1" fill="#4855b3"/>
<rect x="539.20" y="461.0" width="8.60" height="1" fill="#4b5bb7"/>
<rect x="547.50" y="461.0" width="8.60" height="1" fill="#4d63bc"/>
<rect x="555.80" y="461.0" width="8.60" height="1" fill="#4d6ac1"/>
<rect x="564.10" y="461.0" width="8.60" height="1" fill="#4e73c6"/>
<rect x="489.40" y="464.0" width="8.60" height="1" fill="#301d64"/>
<rect x="497.70" y="464.0" width="8.60" height="1" fill="#373191"/>
<rect x="506.00" y="464.0" width="8.60" height="1" fill="#3c3ea3"/>
<rect x="514.30" y="464.0" width="8.60" height="1" fill="#434bac"/>
<rect x="522.60" y="464.0" width="8.60" height="1" fill="#4a58b5"/>
<rect x="530.90" y="464.0" width="8.60" height="1" fill="#4d61bb"/>
<rect x="489.40" y="467.0" width="8.60" height="1" fill="#301c60"/>
<rect x="497.70" y="467.0" width="8.60" height="1" fill="#383395"/>
<rect x="506.00" y="467.0" width="8.60" height="1" fill="#3f44a7"/>
<rect x="514.30" y="467.0" width="8.60" height="1" fill="#4752b1"/>
<rect x="489.40" y="472.4" width="8.60" height="1" fill="#301c5f"/>
<rect x="497.70" y="472.4" width="8.60" height="1" fill="#393699"/>
<rect x="506.00" y="472.4" width="8.60" height="1" fill="#3f43a7"/>
<rect x="514.30" y="472.4" width="8.60" height="1" fill="#444dae"/>
<rect x="522.60" y="472.4" width="8.60" height="1" fill="#4956b3"/>
<rect x="530.90" y="472.4" width="8.60" height="1" fill="#4c5db8"/>
<rect x="539.20" y="472.4" width="8.60" height="1" fill="#4c61bb"/>
<rect x="547.50" y="472.4" width="8.60" height="1" fill="#4d66be"/>
<rect x="555.80" y="472.4" width="8.60" height="1" fill="#4d6ac1"/>
<rect x="564.10" y="472.4" width="8.60" height="1" fill="#4e6fc4"/>
<rect x="489.40" y="475.4" width="8.60" height="1" fill="#2f1b59"/>
<rect x="497.70" y="475.4" width="8.60" height="1" fill="#383294"/>
<rect x="506.00" y="475.4" width="8.60" height="1" fill="#3d40a4"/>
<rect x="514.30" y="475.4" width="8.60" height="1" fill="#434bac"/>
<rect x="522.60" y="475.4" width="8.60" height="1" fill="#4956b4"/>
<rect x="530.90" y="475.4" width="8.60" height="1" fill="#4c5eb9"/>
<rect x="489.40" y="480.8" width="8.60" height="1" fill="#2e184e"/>
<rect x="497.70" y="480.8" width="8.60" height="1" fill="#373192"/>
<rect x="506.00" y="480.8" width="8.60" height="1" fill="#3d40a4"/>
<rect x="514.30" y="480.8" width="8.60" height="1" fill="#4249aa"/>
<rect x="522.60" y="480.8" width="8.60" height="1" fill="#4651b0"/>
<rect x="530.90" y="480.8" width="8.60" height="1" fill="#4b59b6"/>
<rect x="539.20" y="480.8" width="8.60" height="1" fill="#4c5fba"/>
<rect x="547.50" y="480.8" width="8.60" height="1" fill="#4d64bd"/>
<rect x="489.40" y="484.6" width="8.60" height="1" fill="#2d1645"/>
<rect x="497.70" y="484.6" width="8.60" height="1" fill="#372f8f"/>
<rect x="506.00" y="484.6" width="8.60" height="1" fill="#3c3ea3"/>
<rect x="514.30" y="484.6" width="8.60" height="1" fill="#4147a9"/>
<rect x="522.60" y="484.6" width="8.60" height="1" fill="#454faf"/>
<rect x="530.90" y="484.6" width="8.60" height="1" fill="#4955b3"/>
<rect x="539.20" y="484.6" width="8.60" height="1" fill="#4c5cb8"/>
<rect x="547.50" y="484.6" width="8.60" height="1" fill="#4c60bb"/>
<rect x="555.80" y="484.6" width="8.60" height="1" fill="#4d65bd"/>
<rect x="564.10" y="484.6" width="8.60" height="1" fill="#4d69c0"/>
<rect x="489.40" y="488.4" width="8.60" height="1" fill="#2d1645"/>
<rect x="497.70" y="488.4" width="8.60" height="1" fill="#362d8c"/>
<rect x="506.00" y="488.4" width="8.60" height="1" fill="#3b3da2"/>
<rect x="514.30" y="488.4" width="8.60" height="1" fill="#4045a8"/>
<rect x="522.60" y="488.4" width="8.60" height="1" fill="#444dad"/>
<rect x="530.90" y="488.4" width="8.60" height="1" fill="#4753b2"/>
<rect x="539.20" y="488.4" width="8.60" height="1" fill="#4b59b6"/>
<rect x="547.50" y="488.4" width="8.60" height="1" fill="#4c5fba"/>
<rect x="555.80" y="488.4" width="8.60" height="1" fill="#4d63bc"/>
<rect x="564.10" y="488.4" width="8.60" height="1" fill="#4d67bf"/>
<rect x="489.40" y="492.2" width="8.60" height="1" fill="#2d1645"/>
<rect x="497.70" y="492.2" width="8.60" height="1" fill="#352883"/>
<rect x="506.00" y="492.2" width="8.60" height="1" fill="#3a399f"/>
<rect x="514.30" y="492.2" width="8.60" height="1" fill="#4045a8"/>
<rect x="489.40" y="495.2" width="8.60" height="1" fill="#2d1645"/>
<rect x="497.70" y="495.2" width="8.60" height="1" fill="#362b88"/>
<rect x="506.00" y="495.2" width="8.60" height="1" fill="#3b3ca1"/>
<rect x="514.30" y="495.2" width="8.60" height="1" fill="#4046a8"/>
<rect x="489.40" y="499.8" width="8.60" height="1" fill="#2d1645"/>
<rect x="497.70" y="499.8" width="8.60" height="1" fill="#33227a"/>
<rect x="506.00" y="499.8" width="8.60" height="1" fill="#372e8d"/>
<rect x="514.30" y="499.8" width="8.60" height="1" fill="#3b3ba1"/>
<rect x="522.60" y="499.8" width="8.60" height="1" fill="#4045a8"/>
<rect x="530.90" y="499.8" width="8.60" height="1" fill="#454faf"/>
<rect x="489.40" y="505.2" width="8.60" height="1" fill="#2d1645"/>
<rect x="497.70" y="505.2" width="8.60" height="1" fill="#342680"/>
<rect x="506.00" y="505.2" width="8.60" height="1" fill="#39369a"/>
<rect x="514.30" y="505.2" width="8.60" height="1" fill="#3e41a5"/>
<rect x="489.40" y="508.2" width="8.60" height="1" fill="#2d1645"/>
<rect x="497.70" y="508.2" width="8.60" height="1" fill="#332279"/>
<rect x="506.00" y="508.2" width="8.60" height="1" fill="#372f8e"/>
<rect x="514.30" y="508.2" width="8.60" height="1" fill="#3a389d"/>
<rect x="522.60" y="508.2" width="8.60" height="1" fill="#3c3fa3"/>
<rect x="530.90" y="508.2" width="8.60" height="1" fill="#4146a9"/>
<rect x="539.20" y="508.2" width="8.60" height="1" fill="#454eae"/>
<rect x="547.50" y="508.2" width="8.60" height="1" fill="#4956b4"/>
<rect x="489.40" y="513.4" width="8.60" height="1.9" fill="#2d1645"/>
<rect x="497.70" y="513.4" width="8.60" height="1.9" fill="#301c60"/>
<rect x="506.00" y="513.4" width="8.60" height="1.9" fill="#322070"/>
<rect x="514.30" y="513.4" width="8.60" height="1.9" fill="#33237b"/>
<rect x="522.60" y="513.4" width="8.60" height="1.9" fill="#342782"/>
<rect x="530.90" y="513.4" width="8.60" height="1.9" fill="#362b88"/>
<rect x="539.20" y="513.4" width="8.60" height="1.9" fill="#372e8d"/>
<rect x="547.50" y="513.4" width="8.60" height="1.9" fill="#373192"/>
<rect x="555.80" y="513.4" width="8.60" height="1.9" fill="#383497"/>
<rect x="564.10" y="513.4" width="8.60" height="1.9" fill="#39379b"/>
<rect x="572.40" y="513.4" width="8.60" height="1.9" fill="#3a3a9f"/>
<rect x="580.70" y="513.4" width="8.60" height="1.9" fill="#3b3ba1"/>
<rect x="589.00" y="513.4" width="8.60" height="1.9" fill="#3c3da2"/>
<rect x="597.30" y="513.4" width="8.60" height="1.9" fill="#3d3fa3"/>
<rect x="605.60" y="513.4" width="8.60" height="1.9" fill="#3d40a4"/>
<rect x="613.90" y="513.4" width="8.60" height="1.9" fill="#3e42a6"/>
<path d="M456.2 515.3H622.2" stroke="#333" stroke-width="1" fill="none"/>
<line x1="452.4" y1="510.6" x2="456.2" y2="510.6" stroke="#333" stroke-width="0.9"/>
<text x="450.4" y="513.8" text-anchor="end">200</text>
<line x1="460.4" y1="515.3" x2="460.4" y2="518.3" stroke="#333" stroke-width="0.9"/>
<line x1="618" y1="515.3" x2="618" y2="518.3" stroke="#333" stroke-width="0.9"/>
<text x="460.4" y="528.2" text-anchor="middle">10</text>
<text x="618.6" y="528.2" text-anchor="middle">200</text>
<text x="543" y="533.7" text-anchor="middle">Sugar GRN firing rate (Hz)</text>
<text transform="translate(449.2,412) rotate(-90)" text-anchor="middle">Responsive neurons</text>
<linearGradient id="cbd" x1="0" y1="1" x2="0" y2="0"><stop offset="0.000" stop-color="#2d1645"/><stop offset="0.025" stop-color="#33227a"/><stop offset="0.050" stop-color="#3a3aa0"/><stop offset="0.100" stop-color="#4c5cb8"/><stop offset="0.150" stop-color="#4e70c4"/><stop offset="0.200" stop-color="#5088d4"/><stop offset="0.250" stop-color="#2fb0e4"/><stop offset="0.300" stop-color="#42b8c4"/><stop offset="0.350" stop-color="#56bca4"/><stop offset="0.400" stop-color="#74c078"/><stop offset="0.450" stop-color="#92c848"/><stop offset="0.500" stop-color="#b2d438"/><stop offset="0.550" stop-color="#ccd836"/><stop offset="0.600" stop-color="#e6da36"/><stop offset="0.650" stop-color="#f2c634"/><stop offset="0.700" stop-color="#f8a830"/><stop offset="0.750" stop-color="#f48a28"/><stop offset="0.800" stop-color="#f06a22"/><stop offset="0.850" stop-color="#e04820"/><stop offset="0.900" stop-color="#d03020"/><stop offset="0.950" stop-color="#b02025"/><stop offset="1.000" stop-color="#8c1a22"/></linearGradient>
<rect x="632.4" y="310" width="10.6" height="205.3" fill="url(#cbd)"/>
<line x1="643" y1="513.8" x2="645.4" y2="513.8" stroke="#555" stroke-width="0.8"/>
<line x1="643" y1="488.2" x2="645.4" y2="488.2" stroke="#555" stroke-width="0.8"/>
<line x1="643" y1="462.6" x2="645.4" y2="462.6" stroke="#555" stroke-width="0.8"/>
<line x1="643" y1="437.0" x2="645.4" y2="437.0" stroke="#555" stroke-width="0.8"/>
<line x1="643" y1="411.4" x2="645.4" y2="411.4" stroke="#555" stroke-width="0.8"/>
<line x1="643" y1="385.8" x2="645.4" y2="385.8" stroke="#555" stroke-width="0.8"/>
<line x1="643" y1="360.2" x2="645.4" y2="360.2" stroke="#555" stroke-width="0.8"/>
<line x1="643" y1="334.6" x2="645.4" y2="334.6" stroke="#555" stroke-width="0.8"/>
<text x="647.4" y="337.9">175</text>
<text x="647.4" y="517">0</text>
<text transform="translate(658.4,413) rotate(-90)" text-anchor="middle">Predicted firing rate (Hz)</text>
<use href="#monitor" x="764" y="267.3"/><use href="#bolt" x="797" y="254.4"/>
<rect x="816.8" y="271.2" width="32.4" height="32.2" fill="#808080" stroke="#2c2c2c" stroke-width="1"/>
<line x1="859.4" y1="287.2" x2="868.2" y2="287.2" stroke="#111" stroke-width="1.15"/>
<path d="M873.6 287.2L868.2 289.4L868.2 285.0z" fill="#111"/>
<g transform="translate(905.7,279.4) scale(0.84)"><use href="#prob1"/><use href="#flyhead"/></g>
<text x="858.8" y="257.7" textLength="93.3">Predict MN9 activation</text>
<text x="731" y="319.9">Sugar</text>
<text x="731" y="331.3">GRNs</text>
<rect x="758.3" y="311.6" width="1.3" height="21.2" fill="#777"/>
<rect x="762.3" y="310.6" width="166.0" height="204.4" fill="#2d1645"/>
<g shape-rendering="crispEdges">
<rect x="783.05" y="340" width="21.05" height="1.35" fill="#4148aa"/>
<rect x="803.80" y="340" width="21.05" height="1.35" fill="#4d62bc"/>
<rect x="824.55" y="340" width="21.05" height="1.35" fill="#4e70c4"/>
<rect x="845.30" y="340" width="21.05" height="1.35" fill="#4f7ecd"/>
<rect x="866.05" y="340" width="21.05" height="1.35" fill="#4b8ed6"/>
<rect x="886.80" y="340" width="21.05" height="1.35" fill="#39a3df"/>
<rect x="907.55" y="340" width="21.05" height="1.35" fill="#33b2de"/>
<rect x="803.80" y="346" width="21.05" height="1.05" fill="#342782"/>
<rect x="824.55" y="346" width="21.05" height="1.05" fill="#3b3ba1"/>
<rect x="845.30" y="346" width="21.05" height="1.05" fill="#4147a9"/>
<rect x="866.05" y="346" width="21.05" height="1.05" fill="#4651b0"/>
<rect x="886.80" y="346" width="21.05" height="1.05" fill="#4b5ab7"/>
<rect x="907.55" y="346" width="21.05" height="1.05" fill="#4c60ba"/>
<rect x="762.30" y="349.2" width="21.05" height="1.35" fill="#4e6cc2"/>
<rect x="783.05" y="349.2" width="21.05" height="1.35" fill="#32b1df"/>
<rect x="803.80" y="349.2" width="21.05" height="1.35" fill="#54bca7"/>
<rect x="824.55" y="349.2" width="21.05" height="1.35" fill="#83c461"/>
<rect x="845.30" y="349.2" width="21.05" height="1.35" fill="#b1d339"/>
<rect x="866.05" y="349.2" width="21.05" height="1.35" fill="#d5d936"/>
<rect x="886.80" y="349.2" width="21.05" height="1.35" fill="#eecc35"/>
<rect x="907.55" y="349.2" width="21.05" height="1.35" fill="#f8a830"/>
<rect x="783.05" y="355" width="21.05" height="1.15" fill="#3a3aa0"/>
<rect x="803.80" y="355" width="21.05" height="1.15" fill="#4a59b6"/>
<rect x="824.55" y="355" width="21.05" height="1.15" fill="#4d68bf"/>
<rect x="845.30" y="355" width="21.05" height="1.15" fill="#4e74c7"/>
<rect x="866.05" y="355" width="21.05" height="1.15" fill="#4f82d0"/>
<rect x="886.80" y="355" width="21.05" height="1.15" fill="#4793d9"/>
<rect x="907.55" y="355" width="21.05" height="1.15" fill="#36a8e1"/>
<rect x="783.05" y="357" width="21.05" height="1.15" fill="#373091"/>
<rect x="803.80" y="357" width="21.05" height="1.15" fill="#444dae"/>
<rect x="824.55" y="357" width="21.05" height="1.15" fill="#4c5fba"/>
<rect x="845.30" y="357" width="21.05" height="1.15" fill="#4d69c0"/>
<rect x="866.05" y="357" width="21.05" height="1.15" fill="#4e73c6"/>
<rect x="886.80" y="357" width="21.05" height="1.15" fill="#4f7ecd"/>
<rect x="907.55" y="357" width="21.05" height="1.15" fill="#5088d4"/>
<rect x="783.05" y="361" width="21.05" height="1.15" fill="#373091"/>
<rect x="803.80" y="361" width="21.05" height="1.15" fill="#4045a8"/>
<rect x="824.55" y="361" width="21.05" height="1.15" fill="#4752b1"/>
<rect x="845.30" y="361" width="21.05" height="1.15" fill="#4c5db9"/>
<rect x="866.05" y="361" width="21.05" height="1.15" fill="#4d64bd"/>
<rect x="886.80" y="361" width="21.05" height="1.15" fill="#4d6ac0"/>
<rect x="907.55" y="361" width="21.05" height="1.15" fill="#4e70c4"/>
<rect x="762.30" y="368.2" width="21.05" height="1.35" fill="#3e41a5"/>
<rect x="783.05" y="368.2" width="21.05" height="1.35" fill="#5083d1"/>
<rect x="803.80" y="368.2" width="21.05" height="1.35" fill="#3db6cd"/>
<rect x="824.55" y="368.2" width="21.05" height="1.35" fill="#63be90"/>
<rect x="845.30" y="368.2" width="21.05" height="1.35" fill="#94c947"/>
<rect x="866.05" y="368.2" width="21.05" height="1.35" fill="#c2d637"/>
<rect x="886.80" y="368.2" width="21.05" height="1.35" fill="#e7d936"/>
<rect x="907.55" y="368.2" width="21.05" height="1.35" fill="#f5b732"/>
<rect x="783.05" y="372" width="21.05" height="1.05" fill="#33227a"/>
<rect x="803.80" y="372" width="21.05" height="1.05" fill="#393599"/>
<rect x="824.55" y="372" width="21.05" height="1.05" fill="#3e41a5"/>
<rect x="845.30" y="372" width="21.05" height="1.05" fill="#434aab"/>
<rect x="866.05" y="372" width="21.05" height="1.05" fill="#4753b1"/>
<rect x="886.80" y="372" width="21.05" height="1.05" fill="#4b5bb7"/>
<rect x="907.55" y="372" width="21.05" height="1.05" fill="#4c60ba"/>
<rect x="824.55" y="378" width="21.05" height="1.15" fill="#342782"/>
<rect x="845.30" y="378" width="21.05" height="1.15" fill="#4957b4"/>
<rect x="866.05" y="378" width="21.05" height="1.15" fill="#4e6cc1"/>
<rect x="886.80" y="378" width="21.05" height="1.15" fill="#4f7fce"/>
<rect x="907.55" y="378" width="21.05" height="1.15" fill="#4398da"/>
<rect x="762.30" y="388.4" width="21.05" height="1.3" fill="#4c60ba"/>
<rect x="783.05" y="388.4" width="21.05" height="1.3" fill="#5084d2"/>
<rect x="803.80" y="388.4" width="21.05" height="1.3" fill="#30b1e2"/>
<rect x="824.55" y="388.4" width="21.05" height="1.3" fill="#45b9bf"/>
<rect x="845.30" y="388.4" width="21.05" height="1.3" fill="#5cbd9c"/>
<rect x="866.05" y="388.4" width="21.05" height="1.3" fill="#79c170"/>
<rect x="886.80" y="388.4" width="21.05" height="1.3" fill="#95c946"/>
<rect x="907.55" y="388.4" width="21.05" height="1.3" fill="#b2d438"/>
<rect x="762.30" y="389.9" width="21.05" height="1.3" fill="#4c5cb8"/>
<rect x="783.05" y="389.9" width="21.05" height="1.3" fill="#4f7ccc"/>
<rect x="803.80" y="389.9" width="21.05" height="1.3" fill="#3ba2de"/>
<rect x="824.55" y="389.9" width="21.05" height="1.3" fill="#3bb5cf"/>
<rect x="845.30" y="389.9" width="21.05" height="1.3" fill="#4ebab1"/>
<rect x="866.05" y="389.9" width="21.05" height="1.3" fill="#65be8e"/>
<rect x="886.80" y="389.9" width="21.05" height="1.3" fill="#7fc366"/>
<rect x="907.55" y="389.9" width="21.05" height="1.3" fill="#98ca45"/>
<rect x="783.05" y="394" width="21.05" height="1.05" fill="#33227a"/>
<rect x="803.80" y="394" width="21.05" height="1.05" fill="#373192"/>
<rect x="824.55" y="394" width="21.05" height="1.05" fill="#3b3ba1"/>
<rect x="845.30" y="394" width="21.05" height="1.05" fill="#3e42a6"/>
<rect x="866.05" y="394" width="21.05" height="1.05" fill="#4249ab"/>
<rect x="886.80" y="394" width="21.05" height="1.05" fill="#454faf"/>
<rect x="907.55" y="394" width="21.05" height="1.05" fill="#4855b3"/>
<rect x="762.30" y="399" width="21.05" height="1.15" fill="#373091"/>
<rect x="783.05" y="399" width="21.05" height="1.15" fill="#3d40a4"/>
<rect x="803.80" y="399" width="21.05" height="1.15" fill="#424aab"/>
<rect x="824.55" y="399" width="21.05" height="1.15" fill="#4752b1"/>
<rect x="845.30" y="399" width="21.05" height="1.15" fill="#4b5ab7"/>
<rect x="866.05" y="399" width="21.05" height="1.15" fill="#4c60ba"/>
<rect x="886.80" y="399" width="21.05" height="1.15" fill="#4d64bd"/>
<rect x="907.55" y="399" width="21.05" height="1.15" fill="#4d68bf"/>
<rect x="803.80" y="406.6" width="21.05" height="1.05" fill="#32206f"/>
<rect x="824.55" y="406.6" width="21.05" height="1.05" fill="#362d8c"/>
<rect x="845.30" y="406.6" width="21.05" height="1.05" fill="#3a399e"/>
<rect x="866.05" y="406.6" width="21.05" height="1.05" fill="#3e41a5"/>
<rect x="886.80" y="406.6" width="21.05" height="1.05" fill="#4148aa"/>
<rect x="907.55" y="406.6" width="21.05" height="1.05" fill="#454eae"/>
<rect x="824.55" y="413" width="21.05" height="1.05" fill="#32206f"/>
<rect x="845.30" y="413" width="21.05" height="1.05" fill="#373090"/>
<rect x="866.05" y="413" width="21.05" height="1.05" fill="#3c3da2"/>
<rect x="886.80" y="413" width="21.05" height="1.05" fill="#4046a8"/>
<rect x="907.55" y="413" width="21.05" height="1.05" fill="#454eae"/>
<rect x="762.30" y="419" width="21.05" height="1.15" fill="#3a3aa0"/>
<rect x="783.05" y="419" width="21.05" height="1.15" fill="#4248aa"/>
<rect x="803.80" y="419" width="21.05" height="1.15" fill="#4753b2"/>
<rect x="824.55" y="419" width="21.05" height="1.15" fill="#4c5cb8"/>
<rect x="845.30" y="419" width="21.05" height="1.15" fill="#4d62bb"/>
<rect x="866.05" y="419" width="21.05" height="1.15" fill="#4d67be"/>
<rect x="886.80" y="419" width="21.05" height="1.15" fill="#4e6bc1"/>
<rect x="907.55" y="419" width="21.05" height="1.15" fill="#4e70c4"/>
<rect x="783.05" y="421" width="21.05" height="1.15" fill="#3a3aa0"/>
<rect x="803.80" y="421" width="21.05" height="1.15" fill="#454faf"/>
<rect x="824.55" y="421" width="21.05" height="1.15" fill="#4c5eb9"/>
<rect x="845.30" y="421" width="21.05" height="1.15" fill="#4d66be"/>
<rect x="866.05" y="421" width="21.05" height="1.15" fill="#4e6ec3"/>
<rect x="886.80" y="421" width="21.05" height="1.15" fill="#4e76c8"/>
<rect x="907.55" y="421" width="21.05" height="1.15" fill="#4f7ece"/>
<rect x="783.05" y="423.4" width="21.05" height="1.15" fill="#373091"/>
<rect x="803.80" y="423.4" width="21.05" height="1.15" fill="#4045a8"/>
<rect x="824.55" y="423.4" width="21.05" height="1.15" fill="#4752b1"/>
<rect x="845.30" y="423.4" width="21.05" height="1.15" fill="#4c5db9"/>
<rect x="866.05" y="423.4" width="21.05" height="1.15" fill="#4d64bd"/>
<rect x="886.80" y="423.4" width="21.05" height="1.15" fill="#4d6ac0"/>
<rect x="907.55" y="423.4" width="21.05" height="1.15" fill="#4e70c4"/>
<rect x="762.30" y="426.6" width="21.05" height="1.3" fill="#4148aa"/>
<rect x="783.05" y="426.6" width="21.05" height="1.3" fill="#4d68bf"/>
<rect x="803.80" y="426.6" width="21.05" height="1.3" fill="#4f7dcc"/>
<rect x="824.55" y="426.6" width="21.05" height="1.3" fill="#4596da"/>
<rect x="845.30" y="426.6" width="21.05" height="1.3" fill="#31b1e1"/>
<rect x="866.05" y="426.6" width="21.05" height="1.3" fill="#3fb7c9"/>
<rect x="886.80" y="426.6" width="21.05" height="1.3" fill="#4dbab3"/>
<rect x="907.55" y="426.6" width="21.05" height="1.3" fill="#5cbd9b"/>
<rect x="762.30" y="428.2" width="21.05" height="1.3" fill="#3e41a5"/>
<rect x="783.05" y="428.2" width="21.05" height="1.3" fill="#4e6fc3"/>
<rect x="803.80" y="428.2" width="21.05" height="1.3" fill="#4892d8"/>
<rect x="824.55" y="428.2" width="21.05" height="1.3" fill="#37b3d7"/>
<rect x="845.30" y="428.2" width="21.05" height="1.3" fill="#4cbab4"/>
<rect x="866.05" y="428.2" width="21.05" height="1.3" fill="#66be8c"/>
<rect x="886.80" y="428.2" width="21.05" height="1.3" fill="#84c45e"/>
<rect x="907.55" y="428.2" width="21.05" height="1.3" fill="#a2ce40"/>
<rect x="783.05" y="431.6" width="21.05" height="1.05" fill="#33227a"/>
<rect x="803.80" y="431.6" width="21.05" height="1.05" fill="#383395"/>
<rect x="824.55" y="431.6" width="21.05" height="1.05" fill="#3c3ea3"/>
<rect x="845.30" y="431.6" width="21.05" height="1.05" fill="#4146a9"/>
<rect x="866.05" y="431.6" width="21.05" height="1.05" fill="#454eae"/>
<rect x="886.80" y="431.6" width="21.05" height="1.05" fill="#4855b3"/>
<rect x="907.55" y="431.6" width="21.05" height="1.05" fill="#4c5cb8"/>
<rect x="783.05" y="444" width="21.05" height="1.25" fill="#3a3aa0"/>
<rect x="803.80" y="444" width="21.05" height="1.25" fill="#4c61bb"/>
<rect x="824.55" y="444" width="21.05" height="1.25" fill="#4e74c7"/>
<rect x="845.30" y="444" width="21.05" height="1.25" fill="#5088d4"/>
<rect x="866.05" y="444" width="21.05" height="1.25" fill="#37a6e0"/>
<rect x="886.80" y="444" width="21.05" height="1.25" fill="#38b4d4"/>
<rect x="907.55" y="444" width="21.05" height="1.25" fill="#46b9be"/>
<rect x="762.30" y="450.6" width="21.05" height="1.35" fill="#5088d4"/>
<rect x="783.05" y="450.6" width="21.05" height="1.35" fill="#42b8c4"/>
<rect x="803.80" y="450.6" width="21.05" height="1.35" fill="#65be8f"/>
<rect x="824.55" y="450.6" width="21.05" height="1.35" fill="#8dc750"/>
<rect x="845.30" y="450.6" width="21.05" height="1.35" fill="#b4d438"/>
<rect x="866.05" y="450.6" width="21.05" height="1.35" fill="#d3d936"/>
<rect x="886.80" y="450.6" width="21.05" height="1.35" fill="#ebd235"/>
<rect x="907.55" y="450.6" width="21.05" height="1.35" fill="#f5b732"/>
<rect x="783.05" y="456.6" width="21.05" height="1.25" fill="#3e41a5"/>
<rect x="803.80" y="456.6" width="21.05" height="1.25" fill="#4a59b6"/>
<rect x="824.55" y="456.6" width="21.05" height="1.25" fill="#4d65bd"/>
<rect x="845.30" y="456.6" width="21.05" height="1.25" fill="#4e6ec3"/>
<rect x="866.05" y="456.6" width="21.05" height="1.25" fill="#4f79ca"/>
<rect x="886.80" y="456.6" width="21.05" height="1.25" fill="#5083d1"/>
<rect x="907.55" y="456.6" width="21.05" height="1.25" fill="#4990d7"/>
<rect x="762.30" y="470.6" width="21.05" height="1.35" fill="#4c60ba"/>
<rect x="783.05" y="470.6" width="21.05" height="1.35" fill="#5087d3"/>
<rect x="803.80" y="470.6" width="21.05" height="1.35" fill="#34b2dc"/>
<rect x="824.55" y="470.6" width="21.05" height="1.35" fill="#4abab7"/>
<rect x="845.30" y="470.6" width="21.05" height="1.35" fill="#65be8e"/>
<rect x="866.05" y="470.6" width="21.05" height="1.35" fill="#84c45e"/>
<rect x="886.80" y="470.6" width="21.05" height="1.35" fill="#a3ce3f"/>
<rect x="907.55" y="470.6" width="21.05" height="1.35" fill="#bfd637"/>
<rect x="803.80" y="478" width="21.05" height="1.0" fill="#311d65"/>
<rect x="824.55" y="478" width="21.05" height="1.0" fill="#34247e"/>
<rect x="845.30" y="478" width="21.05" height="1.0" fill="#362d8c"/>
<rect x="866.05" y="478" width="21.05" height="1.0" fill="#393598"/>
<rect x="886.80" y="478" width="21.05" height="1.0" fill="#3b3ca1"/>
<rect x="907.55" y="478" width="21.05" height="1.0" fill="#3e41a5"/>
<rect x="783.05" y="487" width="21.05" height="1.05" fill="#33227a"/>
<rect x="803.80" y="487" width="21.05" height="1.05" fill="#383395"/>
<rect x="824.55" y="487" width="21.05" height="1.05" fill="#3c3ea3"/>
<rect x="845.30" y="487" width="21.05" height="1.05" fill="#4146a9"/>
<rect x="866.05" y="487" width="21.05" height="1.05" fill="#454eae"/>
<rect x="886.80" y="487" width="21.05" height="1.05" fill="#4855b3"/>
<rect x="907.55" y="487" width="21.05" height="1.05" fill="#4c5cb8"/>
<rect x="803.80" y="489.2" width="21.05" height="1.05" fill="#33227a"/>
<rect x="824.55" y="489.2" width="21.05" height="1.05" fill="#383395"/>
<rect x="845.30" y="489.2" width="21.05" height="1.05" fill="#3c3ea3"/>
<rect x="866.05" y="489.2" width="21.05" height="1.05" fill="#4146a9"/>
<rect x="886.80" y="489.2" width="21.05" height="1.05" fill="#454eae"/>
<rect x="907.55" y="489.2" width="21.05" height="1.05" fill="#4855b3"/>
<rect x="762.30" y="494.4" width="21.05" height="1.35" fill="#4d64bd"/>
<rect x="783.05" y="494.4" width="21.05" height="1.35" fill="#4f7dcd"/>
<rect x="803.80" y="494.4" width="21.05" height="1.35" fill="#4397da"/>
<rect x="824.55" y="494.4" width="21.05" height="1.35" fill="#32b1df"/>
<rect x="845.30" y="494.4" width="21.05" height="1.35" fill="#3fb7c9"/>
<rect x="866.05" y="494.4" width="21.05" height="1.35" fill="#4dbab3"/>
<rect x="886.80" y="494.4" width="21.05" height="1.35" fill="#5bbd9c"/>
<rect x="907.55" y="494.4" width="21.05" height="1.35" fill="#6ebf81"/>
<rect x="762.30" y="496" width="21.05" height="1.05" fill="#4148aa"/>
<rect x="783.05" y="496" width="21.05" height="1.05" fill="#4d63bc"/>
<rect x="803.80" y="496" width="21.05" height="1.05" fill="#4e72c5"/>
<rect x="824.55" y="496" width="21.05" height="1.05" fill="#4f82d0"/>
<rect x="845.30" y="496" width="21.05" height="1.05" fill="#4596d9"/>
<rect x="866.05" y="496" width="21.05" height="1.05" fill="#32ade3"/>
<rect x="886.80" y="496" width="21.05" height="1.05" fill="#38b4d5"/>
<rect x="907.55" y="496" width="21.05" height="1.05" fill="#42b8c4"/>
<rect x="783.05" y="505" width="21.05" height="1.25" fill="#373091"/>
<rect x="803.80" y="505" width="21.05" height="1.25" fill="#4752b1"/>
<rect x="824.55" y="505" width="21.05" height="1.25" fill="#4d64bd"/>
<rect x="845.30" y="505" width="21.05" height="1.25" fill="#4e70c4"/>
<rect x="866.05" y="505" width="21.05" height="1.25" fill="#4f7dcd"/>
<rect x="886.80" y="505" width="21.05" height="1.25" fill="#4d8bd5"/>
<rect x="907.55" y="505" width="21.05" height="1.25" fill="#3ca0de"/>
<rect x="886.80" y="316" width="21.05" height="1.0" fill="#342680"/>
<rect x="907.55" y="316" width="21.05" height="1.0" fill="#3a3aa0"/>
<rect x="866.05" y="321" width="21.05" height="1.0" fill="#311f6d"/>
<rect x="886.80" y="321" width="21.05" height="1.0" fill="#352985"/>
<rect x="907.55" y="321" width="21.05" height="1.0" fill="#393598"/>
<rect x="866.05" y="327.6" width="21.05" height="1.0" fill="#311e68"/>
<rect x="886.80" y="327.6" width="21.05" height="1.0" fill="#342680"/>
<rect x="907.55" y="327.6" width="21.05" height="1.0" fill="#373091"/>
<rect x="886.80" y="335" width="21.05" height="1.0" fill="#322070"/>
<rect x="907.55" y="335" width="21.05" height="1.0" fill="#362c89"/>
</g>
<path d="M762.3 310.6V515H928.3" stroke="#222" stroke-width="1" fill="none"/>
<line x1="758.6" y1="510.7" x2="762.3" y2="510.7" stroke="#333" stroke-width="0.9"/>
<text x="757.6" y="513.9" text-anchor="end">200</text>
<line x1="772.6" y1="515" x2="772.6" y2="518" stroke="#333" stroke-width="0.9"/>
<line x1="920.6" y1="515" x2="920.6" y2="518" stroke="#333" stroke-width="0.9"/>
<text x="772.6" y="528.4" text-anchor="middle">25</text>
<text x="920.8" y="528.4" text-anchor="middle">200</text>
<text x="844" y="533.4" text-anchor="middle">Activation firing rate (Hz)</text>
<text transform="translate(756.4,408.8) rotate(-90)" text-anchor="middle">Sugar responsive neurons</text>
<linearGradient id="cbe" x1="0" y1="1" x2="0" y2="0"><stop offset="0.000" stop-color="#2d1645"/><stop offset="0.025" stop-color="#33227a"/><stop offset="0.050" stop-color="#3a3aa0"/><stop offset="0.100" stop-color="#4c5cb8"/><stop offset="0.150" stop-color="#4e70c4"/><stop offset="0.200" stop-color="#5088d4"/><stop offset="0.250" stop-color="#2fb0e4"/><stop offset="0.300" stop-color="#42b8c4"/><stop offset="0.350" stop-color="#56bca4"/><stop offset="0.400" stop-color="#74c078"/><stop offset="0.450" stop-color="#92c848"/><stop offset="0.500" stop-color="#b2d438"/><stop offset="0.550" stop-color="#ccd836"/><stop offset="0.600" stop-color="#e6da36"/><stop offset="0.650" stop-color="#f2c634"/><stop offset="0.700" stop-color="#f8a830"/><stop offset="0.750" stop-color="#f48a28"/><stop offset="0.800" stop-color="#f06a22"/><stop offset="0.850" stop-color="#e04820"/><stop offset="0.900" stop-color="#d03020"/><stop offset="0.950" stop-color="#b02025"/><stop offset="1.000" stop-color="#8c1a22"/></linearGradient>
<rect x="939.2" y="310.6" width="10.6" height="204.4" fill="url(#cbe)"/>
<line x1="949.8" y1="513.8" x2="952.2" y2="513.8" stroke="#555" stroke-width="0.8"/>
<line x1="949.8" y1="487.3" x2="952.2" y2="487.3" stroke="#555" stroke-width="0.8"/>
<line x1="949.8" y1="460.8" x2="952.2" y2="460.8" stroke="#555" stroke-width="0.8"/>
<line x1="949.8" y1="434.3" x2="952.2" y2="434.3" stroke="#555" stroke-width="0.8"/>
<line x1="949.8" y1="407.8" x2="952.2" y2="407.8" stroke="#555" stroke-width="0.8"/>
<line x1="949.8" y1="381.3" x2="952.2" y2="381.3" stroke="#555" stroke-width="0.8"/>
<line x1="949.8" y1="354.8" x2="952.2" y2="354.8" stroke="#555" stroke-width="0.8"/>
<line x1="949.8" y1="328.3" x2="952.2" y2="328.3" stroke="#555" stroke-width="0.8"/>
<text x="954.4" y="331.6">175</text>
<text x="954.4" y="517">0</text>
<text transform="translate(966.6,411.7) rotate(-90)" text-anchor="middle">Predicted MN9 firing rate (Hz)</text>
<text transform="translate(77.9,579.7) scale(1.06,1)" font-weight="bold" font-size="14.6" fill="#000" stroke="#000" stroke-width="0.45">f</text>
<text transform="translate(466.5,580) scale(1.06,1)" font-weight="bold" font-size="14.2" fill="#000" stroke="#000" stroke-width="0.45">g</text>
<text transform="translate(466.1,841.6) scale(1.06,1)" font-weight="bold" font-size="15" fill="#000" stroke="#000" stroke-width="0.45">h</text>
<g transform="translate(134.2,590) scale(1.35,1.32)"><use href="#monitor"/></g>
<g transform="translate(184.4,567.6) scale(1.18,1.26)"><use href="#bolt"/></g>
<circle cx="222.5" cy="607.2" r="19.2" fill="#199a6c" stroke="#14553d" stroke-width="1"/>
<text x="222.5" y="604.8" text-anchor="middle" fill="#cfeee0">Sugar</text>
<text x="222.5" y="616" text-anchor="middle" fill="#cfeee0">GRNs</text>
<text x="252.4" y="611.8" text-anchor="middle" font-size="9.5">+</text>
<rect x="266.4" y="588.4" width="38.2" height="38.2" fill="#808080" stroke="#2c2c2c" stroke-width="1"/>
<path d="M261.6 583.6L311.8 634M311.8 583.6L261.6 634" stroke="#dc4650" stroke-width="1.7" fill="none"/>
<line x1="320.0" y1="606.6" x2="332.0" y2="606.6" stroke="#111" stroke-width="1.15"/>
<path d="M337.4 606.6L332.0 608.8L332.0 604.4z" fill="#111"/>
<g transform="translate(368.4,601.3) scale(1.02)"><use href="#prob1"/><use href="#flyhead"/></g>
<text x="288.8" y="577.6" textLength="93.3">Predict MN9 activation</text>
<text x="103" y="656">Sugar</text>
<text x="103" y="667.2">GRNs</text>
<rect x="130.9" y="646.6" width="1.2" height="20.8" fill="#444"/>
<g shape-rendering="crispEdges">
<rect x="134.2" y="644.7" width="196.4" height="244.5" fill="#fbf9fb"/>
<rect x="134.20" y="646.8" width="24.85" height="2.2" fill="#c7c9e7"/>
<rect x="158.75" y="646.8" width="24.85" height="2.2" fill="#dcdef0"/>
<rect x="183.30" y="646.8" width="24.85" height="2.2" fill="#ebecf6"/>
<rect x="207.85" y="646.8" width="24.85" height="2.2" fill="#eeeff8"/>
<rect x="232.40" y="646.8" width="24.85" height="2.2" fill="#f4f4fa"/>
<rect x="256.95" y="646.8" width="24.85" height="2.2" fill="#f4f4fa"/>
<rect x="281.50" y="646.8" width="24.85" height="2.2" fill="#f4f4fa"/>
<rect x="306.05" y="646.8" width="24.85" height="2.2" fill="#f4f4fa"/>
<rect x="134.20" y="649.4" width="24.85" height="2.2" fill="#b2b5de"/>
<rect x="158.75" y="649.4" width="24.85" height="2.2" fill="#d0d1ea"/>
<rect x="183.30" y="649.4" width="24.85" height="2.2" fill="#e3e4f3"/>
<rect x="207.85" y="649.4" width="24.85" height="2.2" fill="#e8e9f5"/>
<rect x="232.40" y="649.4" width="24.85" height="2.2" fill="#f0f0f8"/>
<rect x="256.95" y="649.4" width="24.85" height="2.2" fill="#f0f0f8"/>
<rect x="281.50" y="649.4" width="24.85" height="2.2" fill="#f0f0f8"/>
<rect x="306.05" y="649.4" width="24.85" height="2.2" fill="#f0f0f8"/>
<rect x="134.20" y="652.6" width="24.85" height="1.4" fill="#dcddf0"/>
<rect x="158.75" y="652.6" width="24.85" height="1.4" fill="#e9eaf6"/>
<rect x="183.30" y="652.6" width="24.85" height="1.4" fill="#f2f3fa"/>
<rect x="207.85" y="652.6" width="24.85" height="1.4" fill="#f5f5fa"/>
<rect x="134.20" y="657.4" width="24.85" height="1.6" fill="#5157b3"/>
<rect x="158.75" y="657.4" width="24.85" height="1.6" fill="#9397d0"/>
<rect x="183.30" y="657.4" width="24.85" height="1.6" fill="#c0c2e4"/>
<rect x="207.85" y="657.4" width="24.85" height="1.6" fill="#cbcde8"/>
<rect x="232.40" y="657.4" width="24.85" height="1.6" fill="#cbcde8"/>
<rect x="256.95" y="657.4" width="24.85" height="1.6" fill="#cbcde8"/>
<rect x="281.50" y="657.4" width="24.85" height="1.6" fill="#cbcde8"/>
<rect x="306.05" y="657.4" width="24.85" height="1.6" fill="#cbcde8"/>
<rect x="134.20" y="659.2" width="24.85" height="1.4" fill="#8286c8"/>
<rect x="158.75" y="659.2" width="24.85" height="1.4" fill="#b1b4dd"/>
<rect x="183.30" y="659.2" width="24.85" height="1.4" fill="#d2d3eb"/>
<rect x="207.85" y="659.2" width="24.85" height="1.4" fill="#d9dbef"/>
<rect x="232.40" y="659.2" width="24.85" height="1.4" fill="#d9dbef"/>
<rect x="256.95" y="659.2" width="24.85" height="1.4" fill="#d9dbef"/>
<rect x="281.50" y="659.2" width="24.85" height="1.4" fill="#d9dbef"/>
<rect x="306.05" y="659.2" width="24.85" height="1.4" fill="#d9dbef"/>
<rect x="134.20" y="662.4" width="24.85" height="1.2" fill="#e3e4f3"/>
<rect x="158.75" y="662.4" width="24.85" height="1.2" fill="#eeeef7"/>
<rect x="183.30" y="662.4" width="24.85" height="1.2" fill="#f5f5fb"/>
<rect x="134.20" y="665.4" width="24.85" height="1.4" fill="#c0c2e4"/>
<rect x="158.75" y="665.4" width="24.85" height="1.4" fill="#d8d9ee"/>
<rect x="183.30" y="665.4" width="24.85" height="1.4" fill="#e8e9f5"/>
<rect x="207.85" y="665.4" width="24.85" height="1.4" fill="#ecedf7"/>
<rect x="232.40" y="665.4" width="24.85" height="1.4" fill="#ecedf7"/>
<rect x="256.95" y="665.4" width="24.85" height="1.4" fill="#ecedf7"/>
<rect x="281.50" y="665.4" width="24.85" height="1.4" fill="#ecedf7"/>
<rect x="306.05" y="665.4" width="24.85" height="1.4" fill="#ecedf7"/>
<rect x="134.20" y="667.2" width="24.85" height="1.4" fill="#ced0ea"/>
<rect x="158.75" y="667.2" width="24.85" height="1.4" fill="#e1e2f2"/>
<rect x="183.30" y="667.2" width="24.85" height="1.4" fill="#edeef7"/>
<rect x="207.85" y="667.2" width="24.85" height="1.4" fill="#f0f1f9"/>
<rect x="232.40" y="667.2" width="24.85" height="1.4" fill="#f5f6fb"/>
<rect x="256.95" y="667.2" width="24.85" height="1.4" fill="#f5f6fb"/>
<rect x="281.50" y="667.2" width="24.85" height="1.4" fill="#f5f6fb"/>
<rect x="306.05" y="667.2" width="24.85" height="1.4" fill="#f5f6fb"/>
<rect x="134.20" y="671.4" width="24.85" height="1.4" fill="#ef8484"/>
<rect x="158.75" y="671.4" width="24.85" height="1.4" fill="#f5b3b3"/>
<rect x="183.30" y="671.4" width="24.85" height="1.4" fill="#f9d3d3"/>
<rect x="207.85" y="671.4" width="24.85" height="1.4" fill="#fadada"/>
<rect x="232.40" y="671.4" width="24.85" height="1.4" fill="#fce6e6"/>
<rect x="256.95" y="671.4" width="24.85" height="1.4" fill="#fce6e6"/>
<rect x="281.50" y="671.4" width="24.85" height="1.4" fill="#fce6e6"/>
<rect x="306.05" y="671.4" width="24.85" height="1.4" fill="#fce6e6"/>
<rect x="134.20" y="673.0" width="24.85" height="1.4" fill="#f3a2a2"/>
<rect x="158.75" y="673.0" width="24.85" height="1.4" fill="#f7c5c5"/>
<rect x="183.30" y="673.0" width="24.85" height="1.4" fill="#fbdddd"/>
<rect x="207.85" y="673.0" width="24.85" height="1.4" fill="#fbe3e3"/>
<rect x="232.40" y="673.0" width="24.85" height="1.4" fill="#fce8e8"/>
<rect x="256.95" y="673.0" width="24.85" height="1.4" fill="#fce8e8"/>
<rect x="281.50" y="673.0" width="24.85" height="1.4" fill="#fce8e8"/>
<rect x="306.05" y="673.0" width="24.85" height="1.4" fill="#fce8e8"/>
<rect x="134.20" y="674.8" width="24.85" height="1.2" fill="#f6baba"/>
<rect x="158.75" y="674.8" width="24.85" height="1.2" fill="#f9d4d4"/>
<rect x="183.30" y="674.8" width="24.85" height="1.2" fill="#fce6e6"/>
<rect x="207.85" y="674.8" width="24.85" height="1.2" fill="#fceaea"/>
<rect x="232.40" y="674.8" width="24.85" height="1.2" fill="#fceaea"/>
<rect x="256.95" y="674.8" width="24.85" height="1.2" fill="#fceaea"/>
<rect x="281.50" y="674.8" width="24.85" height="1.2" fill="#fceaea"/>
<rect x="306.05" y="674.8" width="24.85" height="1.2" fill="#fceaea"/>
<rect x="134.20" y="676.2" width="24.85" height="1.2" fill="#eb6767"/>
<rect x="158.75" y="676.2" width="24.85" height="1.2" fill="#ef8585"/>
<rect x="183.30" y="676.2" width="24.85" height="1.2" fill="#ef8585"/>
<rect x="207.85" y="676.2" width="24.85" height="1.2" fill="#ef8585"/>
<rect x="232.40" y="676.2" width="24.85" height="1.2" fill="#ef8585"/>
<rect x="256.95" y="676.2" width="24.85" height="1.2" fill="#ef8585"/>
<rect x="281.50" y="676.2" width="24.85" height="1.2" fill="#ef8585"/>
<rect x="306.05" y="676.2" width="24.85" height="1.2" fill="#ef8585"/>
<rect x="134.20" y="678.6" width="24.85" height="1.2" fill="#fadddd"/>
<rect x="158.75" y="678.6" width="24.85" height="1.2" fill="#fceaea"/>
<rect x="183.30" y="678.6" width="24.85" height="1.2" fill="#fdf3f3"/>
<rect x="207.85" y="678.6" width="24.85" height="1.2" fill="#fef5f5"/>
<rect x="232.40" y="678.6" width="24.85" height="1.2" fill="#fef8f8"/>
<rect x="256.95" y="678.6" width="24.85" height="1.2" fill="#fef8f8"/>
<rect x="281.50" y="678.6" width="24.85" height="1.2" fill="#fef8f8"/>
<rect x="306.05" y="678.6" width="24.85" height="1.2" fill="#fef8f8"/>
<rect x="134.20" y="681.0" width="24.85" height="1.4" fill="#b2b5de"/>
<rect x="158.75" y="681.0" width="24.85" height="1.4" fill="#d0d1ea"/>
<rect x="183.30" y="681.0" width="24.85" height="1.4" fill="#e3e4f3"/>
<rect x="207.85" y="681.0" width="24.85" height="1.4" fill="#e8e9f5"/>
<rect x="232.40" y="681.0" width="24.85" height="1.4" fill="#f0f0f8"/>
<rect x="256.95" y="681.0" width="24.85" height="1.4" fill="#f0f0f8"/>
<rect x="281.50" y="681.0" width="24.85" height="1.4" fill="#f0f0f8"/>
<rect x="306.05" y="681.0" width="24.85" height="1.4" fill="#f0f0f8"/>
<rect x="134.20" y="682.8" width="24.85" height="1.4" fill="#f4acac"/>
<rect x="158.75" y="682.8" width="24.85" height="1.4" fill="#f8cbcb"/>
<rect x="183.30" y="682.8" width="24.85" height="1.4" fill="#fbe1e1"/>
<rect x="207.85" y="682.8" width="24.85" height="1.4" fill="#fce6e6"/>
<rect x="232.40" y="682.8" width="24.85" height="1.4" fill="#fdeeee"/>
<rect x="256.95" y="682.8" width="24.85" height="1.4" fill="#fdeeee"/>
<rect x="281.50" y="682.8" width="24.85" height="1.4" fill="#fdeeee"/>
<rect x="306.05" y="682.8" width="24.85" height="1.4" fill="#fdeeee"/>
<rect x="134.20" y="684.6" width="24.85" height="1.4" fill="#c7c9e7"/>
<rect x="158.75" y="684.6" width="24.85" height="1.4" fill="#dcdef0"/>
<rect x="183.30" y="684.6" width="24.85" height="1.4" fill="#ebecf6"/>
<rect x="207.85" y="684.6" width="24.85" height="1.4" fill="#eeeff8"/>
<rect x="232.40" y="684.6" width="24.85" height="1.4" fill="#eeeff8"/>
<rect x="256.95" y="684.6" width="24.85" height="1.4" fill="#eeeff8"/>
<rect x="281.50" y="684.6" width="24.85" height="1.4" fill="#eeeff8"/>
<rect x="306.05" y="684.6" width="24.85" height="1.4" fill="#eeeff8"/>
<rect x="134.20" y="686.6" width="24.85" height="1.2" fill="#f7bfbf"/>
<rect x="158.75" y="686.6" width="24.85" height="1.2" fill="#fad7d7"/>
<rect x="183.30" y="686.6" width="24.85" height="1.2" fill="#fce8e8"/>
<rect x="207.85" y="686.6" width="24.85" height="1.2" fill="#fcecec"/>
<rect x="232.40" y="686.6" width="24.85" height="1.2" fill="#fdf2f2"/>
<rect x="256.95" y="686.6" width="24.85" height="1.2" fill="#fdf2f2"/>
<rect x="281.50" y="686.6" width="24.85" height="1.2" fill="#fdf2f2"/>
<rect x="306.05" y="686.6" width="24.85" height="1.2" fill="#fdf2f2"/>
<rect x="134.20" y="690.0" width="24.85" height="1.2" fill="#fbe2e2"/>
<rect x="158.75" y="690.0" width="24.85" height="1.2" fill="#fdeded"/>
<rect x="183.30" y="690.0" width="24.85" height="1.2" fill="#fef4f4"/>
<rect x="207.85" y="690.0" width="24.85" height="1.2" fill="#fef6f6"/>
<rect x="232.40" y="690.0" width="24.85" height="1.2" fill="#fef6f6"/>
<rect x="256.95" y="690.0" width="24.85" height="1.2" fill="#fef6f6"/>
<rect x="281.50" y="690.0" width="24.85" height="1.2" fill="#fef6f6"/>
<rect x="306.05" y="690.0" width="24.85" height="1.2" fill="#fef6f6"/>
<rect x="134.20" y="692.4" width="24.85" height="1.2" fill="#dcddf0"/>
<rect x="158.75" y="692.4" width="24.85" height="1.2" fill="#e9eaf6"/>
<rect x="183.30" y="692.4" width="24.85" height="1.2" fill="#f2f3fa"/>
<rect x="207.85" y="692.4" width="24.85" height="1.2" fill="#f5f5fa"/>
<rect x="134.20" y="694.8" width="24.85" height="1.4" fill="#c7c9e7"/>
<rect x="158.75" y="694.8" width="24.85" height="1.4" fill="#dcdef0"/>
<rect x="183.30" y="694.8" width="24.85" height="1.4" fill="#ebecf6"/>
<rect x="207.85" y="694.8" width="24.85" height="1.4" fill="#eeeff8"/>
<rect x="232.40" y="694.8" width="24.85" height="1.4" fill="#eeeff8"/>
<rect x="256.95" y="694.8" width="24.85" height="1.4" fill="#eeeff8"/>
<rect x="281.50" y="694.8" width="24.85" height="1.4" fill="#eeeff8"/>
<rect x="306.05" y="694.8" width="24.85" height="1.4" fill="#eeeff8"/>
<rect x="134.20" y="696.6" width="24.85" height="1.2" fill="#f8c9c9"/>
<rect x="158.75" y="696.6" width="24.85" height="1.2" fill="#fbdede"/>
<rect x="183.30" y="696.6" width="24.85" height="1.2" fill="#fcecec"/>
<rect x="207.85" y="696.6" width="24.85" height="1.2" fill="#fdefef"/>
<rect x="232.40" y="696.6" width="24.85" height="1.2" fill="#fdefef"/>
<rect x="256.95" y="696.6" width="24.85" height="1.2" fill="#fdefef"/>
<rect x="281.50" y="696.6" width="24.85" height="1.2" fill="#fdefef"/>
<rect x="306.05" y="696.6" width="24.85" height="1.2" fill="#fdefef"/>
<rect x="134.20" y="699.0" width="24.85" height="1.2" fill="#fce6e6"/>
<rect x="158.75" y="699.0" width="24.85" height="1.2" fill="#fdf0f0"/>
<rect x="183.30" y="699.0" width="24.85" height="1.2" fill="#fef6f6"/>
<rect x="207.85" y="699.0" width="24.85" height="1.2" fill="#fef8f8"/>
<rect x="134.20" y="700.6" width="24.85" height="1.2" fill="#f19393"/>
<rect x="158.75" y="700.6" width="24.85" height="1.2" fill="#f6bcbc"/>
<rect x="183.30" y="700.6" width="24.85" height="1.2" fill="#fad8d8"/>
<rect x="207.85" y="700.6" width="24.85" height="1.2" fill="#fad9d9"/>
<rect x="232.40" y="700.6" width="24.85" height="1.2" fill="#fad9d9"/>
<rect x="256.95" y="700.6" width="24.85" height="1.2" fill="#fad9d9"/>
<rect x="281.50" y="700.6" width="24.85" height="1.2" fill="#fad9d9"/>
<rect x="306.05" y="700.6" width="24.85" height="1.2" fill="#fad9d9"/>
<rect x="134.20" y="701.8" width="24.85" height="1.4" fill="#e22222"/>
<rect x="158.75" y="701.8" width="24.85" height="1.4" fill="#ed7676"/>
<rect x="183.30" y="701.8" width="24.85" height="1.4" fill="#f5afaf"/>
<rect x="207.85" y="701.8" width="24.85" height="1.4" fill="#f6bdbd"/>
<rect x="232.40" y="701.8" width="24.85" height="1.4" fill="#f8c8c8"/>
<rect x="256.95" y="701.8" width="24.85" height="1.4" fill="#f8c8c8"/>
<rect x="281.50" y="701.8" width="24.85" height="1.4" fill="#f8c8c8"/>
<rect x="306.05" y="701.8" width="24.85" height="1.4" fill="#f8c8c8"/>
<rect x="134.20" y="703.2" width="24.85" height="1.2" fill="#f3a7a7"/>
<rect x="158.75" y="703.2" width="24.85" height="1.2" fill="#f8c8c8"/>
<rect x="183.30" y="703.2" width="24.85" height="1.2" fill="#fbdfdf"/>
<rect x="207.85" y="703.2" width="24.85" height="1.2" fill="#fce4e4"/>
<rect x="232.40" y="703.2" width="24.85" height="1.2" fill="#fce4e4"/>
<rect x="256.95" y="703.2" width="24.85" height="1.2" fill="#fce4e4"/>
<rect x="281.50" y="703.2" width="24.85" height="1.2" fill="#fce4e4"/>
<rect x="306.05" y="703.2" width="24.85" height="1.2" fill="#fce4e4"/>
<rect x="134.20" y="704.4" width="24.85" height="1.2" fill="#ef8484"/>
<rect x="158.75" y="704.4" width="24.85" height="1.2" fill="#f5b3b3"/>
<rect x="183.30" y="704.4" width="24.85" height="1.2" fill="#f9d3d3"/>
<rect x="207.85" y="704.4" width="24.85" height="1.2" fill="#fadada"/>
<rect x="232.40" y="704.4" width="24.85" height="1.2" fill="#fadada"/>
<rect x="256.95" y="704.4" width="24.85" height="1.2" fill="#fadada"/>
<rect x="281.50" y="704.4" width="24.85" height="1.2" fill="#fadada"/>
<rect x="306.05" y="704.4" width="24.85" height="1.2" fill="#fadada"/>
<rect x="134.20" y="705.6" width="24.85" height="1.5" fill="#ca1f20"/>
<rect x="158.75" y="705.6" width="24.85" height="1.5" fill="#e95858"/>
<rect x="183.30" y="705.6" width="24.85" height="1.5" fill="#f29e9e"/>
<rect x="207.85" y="705.6" width="24.85" height="1.5" fill="#f4aeae"/>
<rect x="232.40" y="705.6" width="24.85" height="1.5" fill="#f7c4c4"/>
<rect x="256.95" y="705.6" width="24.85" height="1.5" fill="#f7c4c4"/>
<rect x="281.50" y="705.6" width="24.85" height="1.5" fill="#f7c4c4"/>
<rect x="306.05" y="705.6" width="24.85" height="1.5" fill="#f7c4c4"/>
<rect x="134.20" y="707.1" width="24.85" height="1.0" fill="#f29d9d"/>
<rect x="158.75" y="707.1" width="24.85" height="1.0" fill="#f7c2c2"/>
<rect x="183.30" y="707.1" width="24.85" height="1.0" fill="#fadcdc"/>
<rect x="207.85" y="707.1" width="24.85" height="1.0" fill="#fbe2e2"/>
<rect x="232.40" y="707.1" width="24.85" height="1.0" fill="#fbe2e2"/>
<rect x="256.95" y="707.1" width="24.85" height="1.0" fill="#fbe2e2"/>
<rect x="281.50" y="707.1" width="24.85" height="1.0" fill="#fbe2e2"/>
<rect x="306.05" y="707.1" width="24.85" height="1.0" fill="#fbe2e2"/>
<rect x="134.20" y="708.0" width="24.85" height="1.2" fill="#f9d3d3"/>
<rect x="158.75" y="708.0" width="24.85" height="1.2" fill="#fbe4e4"/>
<rect x="183.30" y="708.0" width="24.85" height="1.2" fill="#fdefef"/>
<rect x="207.85" y="708.0" width="24.85" height="1.2" fill="#fdf2f2"/>
<rect x="232.40" y="708.0" width="24.85" height="1.2" fill="#fef6f6"/>
<rect x="256.95" y="708.0" width="24.85" height="1.2" fill="#fef6f6"/>
<rect x="281.50" y="708.0" width="24.85" height="1.2" fill="#fef6f6"/>
<rect x="306.05" y="708.0" width="24.85" height="1.2" fill="#fef6f6"/>
<rect x="134.20" y="711.0" width="24.85" height="1.2" fill="#fcebeb"/>
<rect x="158.75" y="711.0" width="24.85" height="1.2" fill="#fdf3f3"/>
<rect x="183.30" y="711.0" width="24.85" height="1.2" fill="#fef8f8"/>
<rect x="134.20" y="715.2" width="24.85" height="1.2" fill="#979ad1"/>
<rect x="158.75" y="715.2" width="24.85" height="1.2" fill="#a6a9d8"/>
<rect x="183.30" y="715.2" width="24.85" height="1.2" fill="#a6a9d8"/>
<rect x="207.85" y="715.2" width="24.85" height="1.2" fill="#a6a9d8"/>
<rect x="232.40" y="715.2" width="24.85" height="1.2" fill="#a6a9d8"/>
<rect x="256.95" y="715.2" width="24.85" height="1.2" fill="#a6a9d8"/>
<rect x="281.50" y="715.2" width="24.85" height="1.2" fill="#a6a9d8"/>
<rect x="306.05" y="715.2" width="24.85" height="1.2" fill="#a6a9d8"/>
<rect x="134.20" y="718.6" width="24.85" height="1.2" fill="#fce6e6"/>
<rect x="158.75" y="718.6" width="24.85" height="1.2" fill="#fdf0f0"/>
<rect x="183.30" y="718.6" width="24.85" height="1.2" fill="#fef6f6"/>
<rect x="207.85" y="718.6" width="24.85" height="1.2" fill="#fef8f8"/>
<rect x="134.20" y="721.0" width="24.85" height="1.4" fill="#fad8d8"/>
<rect x="158.75" y="721.0" width="24.85" height="1.4" fill="#fce7e7"/>
<rect x="183.30" y="721.0" width="24.85" height="1.4" fill="#fdf1f1"/>
<rect x="207.85" y="721.0" width="24.85" height="1.4" fill="#fdf3f3"/>
<rect x="232.40" y="721.0" width="24.85" height="1.4" fill="#fef9f9"/>
<rect x="134.20" y="723.4" width="24.85" height="1.4" fill="#f9cece"/>
<rect x="158.75" y="723.4" width="24.85" height="1.4" fill="#fbe1e1"/>
<rect x="183.30" y="723.4" width="24.85" height="1.4" fill="#fdeded"/>
<rect x="207.85" y="723.4" width="24.85" height="1.4" fill="#fdf0f0"/>
<rect x="232.40" y="723.4" width="24.85" height="1.4" fill="#fef7f7"/>
<rect x="256.95" y="723.4" width="24.85" height="1.4" fill="#fef8f8"/>
<rect x="281.50" y="723.4" width="24.85" height="1.4" fill="#fef8f8"/>
<rect x="306.05" y="723.4" width="24.85" height="1.4" fill="#fef8f8"/>
<rect x="134.20" y="726.0" width="24.85" height="1.2" fill="#fbe2e2"/>
<rect x="158.75" y="726.0" width="24.85" height="1.2" fill="#fdeded"/>
<rect x="183.30" y="726.0" width="24.85" height="1.2" fill="#fef4f4"/>
<rect x="207.85" y="726.0" width="24.85" height="1.2" fill="#fef6f6"/>
<rect x="134.20" y="728.6" width="24.85" height="1.4" fill="#f9d3d3"/>
<rect x="158.75" y="728.6" width="24.85" height="1.4" fill="#fbe4e4"/>
<rect x="183.30" y="728.6" width="24.85" height="1.4" fill="#fdefef"/>
<rect x="207.85" y="728.6" width="24.85" height="1.4" fill="#fdf2f2"/>
<rect x="232.40" y="728.6" width="24.85" height="1.4" fill="#fef8f8"/>
<rect x="256.95" y="728.6" width="24.85" height="1.4" fill="#fef8f8"/>
<rect x="281.50" y="728.6" width="24.85" height="1.4" fill="#fef8f8"/>
<rect x="306.05" y="728.6" width="24.85" height="1.4" fill="#fef8f8"/>
<rect x="134.20" y="731.4" width="24.85" height="1.2" fill="#fce6e6"/>
<rect x="158.75" y="731.4" width="24.85" height="1.2" fill="#fdf0f0"/>
<rect x="183.30" y="731.4" width="24.85" height="1.2" fill="#fef6f6"/>
<rect x="207.85" y="731.4" width="24.85" height="1.2" fill="#fef8f8"/>
<rect x="134.20" y="734.4" width="24.85" height="1.2" fill="#fcebeb"/>
<rect x="158.75" y="734.4" width="24.85" height="1.2" fill="#fdf3f3"/>
<rect x="183.30" y="734.4" width="24.85" height="1.2" fill="#fef8f8"/>
<rect x="134.20" y="738.4" width="24.85" height="1.4" fill="#7478c2"/>
<rect x="158.75" y="738.4" width="24.85" height="1.4" fill="#9ea1d4"/>
<rect x="183.30" y="738.4" width="24.85" height="1.4" fill="#9ea1d4"/>
<rect x="207.85" y="738.4" width="24.85" height="1.4" fill="#9ea1d4"/>
<rect x="232.40" y="738.4" width="24.85" height="1.4" fill="#9ea1d4"/>
<rect x="256.95" y="738.4" width="24.85" height="1.4" fill="#9ea1d4"/>
<rect x="281.50" y="738.4" width="24.85" height="1.4" fill="#9ea1d4"/>
<rect x="306.05" y="738.4" width="24.85" height="1.4" fill="#9ea1d4"/>
<rect x="134.20" y="740.0" width="24.85" height="1.2" fill="#a4a8d8"/>
<rect x="158.75" y="740.0" width="24.85" height="1.2" fill="#c7c9e7"/>
<rect x="183.30" y="740.0" width="24.85" height="1.2" fill="#cdcfe9"/>
<rect x="207.85" y="740.0" width="24.85" height="1.2" fill="#cdcfe9"/>
<rect x="232.40" y="740.0" width="24.85" height="1.2" fill="#cdcfe9"/>
<rect x="256.95" y="740.0" width="24.85" height="1.2" fill="#cdcfe9"/>
<rect x="281.50" y="740.0" width="24.85" height="1.2" fill="#cdcfe9"/>
<rect x="306.05" y="740.0" width="24.85" height="1.2" fill="#cdcfe9"/>
<rect x="134.20" y="743.0" width="24.85" height="1.2" fill="#fcebeb"/>
<rect x="158.75" y="743.0" width="24.85" height="1.2" fill="#fdf3f3"/>
<rect x="183.30" y="743.0" width="24.85" height="1.2" fill="#fef8f8"/>
<rect x="134.20" y="747.6" width="24.85" height="1.4" fill="#b2b5de"/>
<rect x="158.75" y="747.6" width="24.85" height="1.4" fill="#d0d1ea"/>
<rect x="183.30" y="747.6" width="24.85" height="1.4" fill="#e3e4f3"/>
<rect x="207.85" y="747.6" width="24.85" height="1.4" fill="#e8e9f5"/>
<rect x="232.40" y="747.6" width="24.85" height="1.4" fill="#f0f0f8"/>
<rect x="256.95" y="747.6" width="24.85" height="1.4" fill="#f0f0f8"/>
<rect x="281.50" y="747.6" width="24.85" height="1.4" fill="#f0f0f8"/>
<rect x="306.05" y="747.6" width="24.85" height="1.4" fill="#f0f0f8"/>
<rect x="134.20" y="749.4" width="24.85" height="1.4" fill="#c7c9e7"/>
<rect x="158.75" y="749.4" width="24.85" height="1.4" fill="#dcdef0"/>
<rect x="183.30" y="749.4" width="24.85" height="1.4" fill="#ebecf6"/>
<rect x="207.85" y="749.4" width="24.85" height="1.4" fill="#eeeff8"/>
<rect x="232.40" y="749.4" width="24.85" height="1.4" fill="#f4f4fa"/>
<rect x="256.95" y="749.4" width="24.85" height="1.4" fill="#f4f4fa"/>
<rect x="281.50" y="749.4" width="24.85" height="1.4" fill="#f4f4fa"/>
<rect x="306.05" y="749.4" width="24.85" height="1.4" fill="#f4f4fa"/>
<rect x="134.20" y="752.0" width="24.85" height="1.2" fill="#fce6e6"/>
<rect x="158.75" y="752.0" width="24.85" height="1.2" fill="#fdf0f0"/>
<rect x="183.30" y="752.0" width="24.85" height="1.2" fill="#fef6f6"/>
<rect x="207.85" y="752.0" width="24.85" height="1.2" fill="#fef8f8"/>
<rect x="134.20" y="755.0" width="24.85" height="1.2" fill="#fcebeb"/>
<rect x="158.75" y="755.0" width="24.85" height="1.2" fill="#fdf3f3"/>
<rect x="183.30" y="755.0" width="24.85" height="1.2" fill="#fef8f8"/>
<rect x="134.20" y="757.4" width="24.85" height="1.4" fill="#fad8d8"/>
<rect x="158.75" y="757.4" width="24.85" height="1.4" fill="#fce7e7"/>
<rect x="183.30" y="757.4" width="24.85" height="1.4" fill="#fdf1f1"/>
<rect x="207.85" y="757.4" width="24.85" height="1.4" fill="#fdf3f3"/>
<rect x="232.40" y="757.4" width="24.85" height="1.4" fill="#fef7f7"/>
<rect x="256.95" y="757.4" width="24.85" height="1.4" fill="#fef7f7"/>
<rect x="281.50" y="757.4" width="24.85" height="1.4" fill="#fef7f7"/>
<rect x="306.05" y="757.4" width="24.85" height="1.4" fill="#fef7f7"/>
<rect x="134.20" y="760.0" width="24.85" height="1.4" fill="#f9cece"/>
<rect x="158.75" y="760.0" width="24.85" height="1.4" fill="#fbe1e1"/>
<rect x="183.30" y="760.0" width="24.85" height="1.4" fill="#fdeded"/>
<rect x="207.85" y="760.0" width="24.85" height="1.4" fill="#fdf0f0"/>
<rect x="232.40" y="760.0" width="24.85" height="1.4" fill="#fef7f7"/>
<rect x="256.95" y="760.0" width="24.85" height="1.4" fill="#fef8f8"/>
<rect x="281.50" y="760.0" width="24.85" height="1.4" fill="#fef8f8"/>
<rect x="306.05" y="760.0" width="24.85" height="1.4" fill="#fef8f8"/>
<rect x="134.20" y="762.6" width="24.85" height="1.2" fill="#fadddd"/>
<rect x="158.75" y="762.6" width="24.85" height="1.2" fill="#fceaea"/>
<rect x="183.30" y="762.6" width="24.85" height="1.2" fill="#fdf3f3"/>
<rect x="207.85" y="762.6" width="24.85" height="1.2" fill="#fef5f5"/>
<rect x="232.40" y="762.6" width="24.85" height="1.2" fill="#fef8f8"/>
<rect x="256.95" y="762.6" width="24.85" height="1.2" fill="#fef8f8"/>
<rect x="281.50" y="762.6" width="24.85" height="1.2" fill="#fef8f8"/>
<rect x="306.05" y="762.6" width="24.85" height="1.2" fill="#fef8f8"/>
<rect x="134.20" y="765.2" width="24.85" height="1.4" fill="#f9d3d3"/>
<rect x="158.75" y="765.2" width="24.85" height="1.4" fill="#fbe4e4"/>
<rect x="183.30" y="765.2" width="24.85" height="1.4" fill="#fdefef"/>
<rect x="207.85" y="765.2" width="24.85" height="1.4" fill="#fdf2f2"/>
<rect x="232.40" y="765.2" width="24.85" height="1.4" fill="#fef6f6"/>
<rect x="256.95" y="765.2" width="24.85" height="1.4" fill="#fef6f6"/>
<rect x="281.50" y="765.2" width="24.85" height="1.4" fill="#fef6f6"/>
<rect x="306.05" y="765.2" width="24.85" height="1.4" fill="#fef6f6"/>
<rect x="134.20" y="768.0" width="24.85" height="1.2" fill="#fbe2e2"/>
<rect x="158.75" y="768.0" width="24.85" height="1.2" fill="#fdeded"/>
<rect x="183.30" y="768.0" width="24.85" height="1.2" fill="#fef4f4"/>
<rect x="207.85" y="768.0" width="24.85" height="1.2" fill="#fef6f6"/>
<rect x="134.20" y="771.0" width="24.85" height="1.2" fill="#fcebeb"/>
<rect x="158.75" y="771.0" width="24.85" height="1.2" fill="#fdf3f3"/>
<rect x="183.30" y="771.0" width="24.85" height="1.2" fill="#fef8f8"/>
<rect x="134.20" y="776.0" width="24.85" height="1.4" fill="#abaedb"/>
<rect x="158.75" y="776.0" width="24.85" height="1.4" fill="#cbcde8"/>
<rect x="183.30" y="776.0" width="24.85" height="1.4" fill="#e1e2f2"/>
<rect x="207.85" y="776.0" width="24.85" height="1.4" fill="#e6e7f4"/>
<rect x="232.40" y="776.0" width="24.85" height="1.4" fill="#eeeff8"/>
<rect x="256.95" y="776.0" width="24.85" height="1.4" fill="#eeeff8"/>
<rect x="281.50" y="776.0" width="24.85" height="1.4" fill="#eeeff8"/>
<rect x="306.05" y="776.0" width="24.85" height="1.4" fill="#eeeff8"/>
<rect x="134.20" y="778.0" width="24.85" height="1.2" fill="#ced0ea"/>
<rect x="158.75" y="778.0" width="24.85" height="1.2" fill="#e1e2f2"/>
<rect x="183.30" y="778.0" width="24.85" height="1.2" fill="#edeef7"/>
<rect x="207.85" y="778.0" width="24.85" height="1.2" fill="#f0f1f9"/>
<rect x="232.40" y="778.0" width="24.85" height="1.2" fill="#f5f6fb"/>
<rect x="256.95" y="778.0" width="24.85" height="1.2" fill="#f5f6fb"/>
<rect x="281.50" y="778.0" width="24.85" height="1.2" fill="#f5f6fb"/>
<rect x="306.05" y="778.0" width="24.85" height="1.2" fill="#f5f6fb"/>
<rect x="134.20" y="780.6" width="24.85" height="1.2" fill="#fcebeb"/>
<rect x="158.75" y="780.6" width="24.85" height="1.2" fill="#fdf3f3"/>
<rect x="183.30" y="780.6" width="24.85" height="1.2" fill="#fef8f8"/>
<rect x="134.20" y="783.4" width="24.85" height="1.4" fill="#a4a8d8"/>
<rect x="158.75" y="783.4" width="24.85" height="1.4" fill="#c7c9e7"/>
<rect x="183.30" y="783.4" width="24.85" height="1.4" fill="#dee0f1"/>
<rect x="207.85" y="783.4" width="24.85" height="1.4" fill="#e4e5f3"/>
<rect x="232.40" y="783.4" width="24.85" height="1.4" fill="#e8e9f5"/>
<rect x="256.95" y="783.4" width="24.85" height="1.4" fill="#e8e9f5"/>
<rect x="281.50" y="783.4" width="24.85" height="1.4" fill="#e8e9f5"/>
<rect x="306.05" y="783.4" width="24.85" height="1.4" fill="#e8e9f5"/>
<rect x="134.20" y="785.2" width="24.85" height="1.2" fill="#ced0ea"/>
<rect x="158.75" y="785.2" width="24.85" height="1.2" fill="#e1e2f2"/>
<rect x="183.30" y="785.2" width="24.85" height="1.2" fill="#edeef7"/>
<rect x="207.85" y="785.2" width="24.85" height="1.2" fill="#f0f1f9"/>
<rect x="232.40" y="785.2" width="24.85" height="1.2" fill="#f5f6fb"/>
<rect x="256.95" y="785.2" width="24.85" height="1.2" fill="#f5f6fb"/>
<rect x="281.50" y="785.2" width="24.85" height="1.2" fill="#f5f6fb"/>
<rect x="306.05" y="785.2" width="24.85" height="1.2" fill="#f5f6fb"/>
<rect x="134.20" y="788.0" width="24.85" height="1.2" fill="#fcebeb"/>
<rect x="158.75" y="788.0" width="24.85" height="1.2" fill="#fdf3f3"/>
<rect x="183.30" y="788.0" width="24.85" height="1.2" fill="#fef8f8"/>
<rect x="134.20" y="791.0" width="24.85" height="1.2" fill="#fce6e6"/>
<rect x="158.75" y="791.0" width="24.85" height="1.2" fill="#fdf0f0"/>
<rect x="183.30" y="791.0" width="24.85" height="1.2" fill="#fef6f6"/>
<rect x="207.85" y="791.0" width="24.85" height="1.2" fill="#fef8f8"/>
<rect x="134.20" y="794.0" width="24.85" height="1.4" fill="#fadddd"/>
<rect x="158.75" y="794.0" width="24.85" height="1.4" fill="#fceaea"/>
<rect x="183.30" y="794.0" width="24.85" height="1.4" fill="#fdf3f3"/>
<rect x="207.85" y="794.0" width="24.85" height="1.4" fill="#fef5f5"/>
<rect x="232.40" y="794.0" width="24.85" height="1.4" fill="#fef8f8"/>
<rect x="256.95" y="794.0" width="24.85" height="1.4" fill="#fef8f8"/>
<rect x="281.50" y="794.0" width="24.85" height="1.4" fill="#fef8f8"/>
<rect x="306.05" y="794.0" width="24.85" height="1.4" fill="#fef8f8"/>
<rect x="134.20" y="796.6" width="24.85" height="1.2" fill="#fbe2e2"/>
<rect x="158.75" y="796.6" width="24.85" height="1.2" fill="#fdeded"/>
<rect x="183.30" y="796.6" width="24.85" height="1.2" fill="#fef4f4"/>
<rect x="207.85" y="796.6" width="24.85" height="1.2" fill="#fef6f6"/>
<rect x="134.20" y="799.4" width="24.85" height="1.4" fill="#fad8d8"/>
<rect x="158.75" y="799.4" width="24.85" height="1.4" fill="#fce7e7"/>
<rect x="183.30" y="799.4" width="24.85" height="1.4" fill="#fdf1f1"/>
<rect x="207.85" y="799.4" width="24.85" height="1.4" fill="#fdf3f3"/>
<rect x="232.40" y="799.4" width="24.85" height="1.4" fill="#fef7f7"/>
<rect x="256.95" y="799.4" width="24.85" height="1.4" fill="#fef7f7"/>
<rect x="281.50" y="799.4" width="24.85" height="1.4" fill="#fef7f7"/>
<rect x="306.05" y="799.4" width="24.85" height="1.4" fill="#fef7f7"/>
<rect x="134.20" y="802.2" width="24.85" height="1.4" fill="#fadddd"/>
<rect x="158.75" y="802.2" width="24.85" height="1.4" fill="#fceaea"/>
<rect x="183.30" y="802.2" width="24.85" height="1.4" fill="#fdf3f3"/>
<rect x="207.85" y="802.2" width="24.85" height="1.4" fill="#fef5f5"/>
<rect x="232.40" y="802.2" width="24.85" height="1.4" fill="#fef8f8"/>
<rect x="256.95" y="802.2" width="24.85" height="1.4" fill="#fef8f8"/>
<rect x="281.50" y="802.2" width="24.85" height="1.4" fill="#fef8f8"/>
<rect x="306.05" y="802.2" width="24.85" height="1.4" fill="#fef8f8"/>
<rect x="134.20" y="805.0" width="24.85" height="1.2" fill="#fce6e6"/>
<rect x="158.75" y="805.0" width="24.85" height="1.2" fill="#fdf0f0"/>
<rect x="183.30" y="805.0" width="24.85" height="1.2" fill="#fef6f6"/>
<rect x="207.85" y="805.0" width="24.85" height="1.2" fill="#fef8f8"/>
<rect x="134.20" y="808.0" width="24.85" height="1.4" fill="#fad8d8"/>
<rect x="158.75" y="808.0" width="24.85" height="1.4" fill="#fce7e7"/>
<rect x="183.30" y="808.0" width="24.85" height="1.4" fill="#fdf1f1"/>
<rect x="207.85" y="808.0" width="24.85" height="1.4" fill="#fdf3f3"/>
<rect x="232.40" y="808.0" width="24.85" height="1.4" fill="#fef7f7"/>
<rect x="256.95" y="808.0" width="24.85" height="1.4" fill="#fef7f7"/>
<rect x="281.50" y="808.0" width="24.85" height="1.4" fill="#fef7f7"/>
<rect x="306.05" y="808.0" width="24.85" height="1.4" fill="#fef7f7"/>
<rect x="134.20" y="813.0" width="24.85" height="1.2" fill="#fadddd"/>
<rect x="158.75" y="813.0" width="24.85" height="1.2" fill="#fce7e7"/>
<rect x="183.30" y="813.0" width="24.85" height="1.2" fill="#fce7e7"/>
<rect x="207.85" y="813.0" width="24.85" height="1.2" fill="#fce7e7"/>
<rect x="232.40" y="813.0" width="24.85" height="1.2" fill="#fce7e7"/>
<rect x="256.95" y="813.0" width="24.85" height="1.2" fill="#fce7e7"/>
<rect x="281.50" y="813.0" width="24.85" height="1.2" fill="#fce7e7"/>
<rect x="306.05" y="813.0" width="24.85" height="1.2" fill="#fce7e7"/>
<rect x="134.20" y="817.0" width="24.85" height="1.2" fill="#fcebeb"/>
<rect x="158.75" y="817.0" width="24.85" height="1.2" fill="#fdf3f3"/>
<rect x="183.30" y="817.0" width="24.85" height="1.2" fill="#fef8f8"/>
<rect x="134.20" y="821.0" width="24.85" height="1.2" fill="#fcebeb"/>
<rect x="158.75" y="821.0" width="24.85" height="1.2" fill="#fdf3f3"/>
<rect x="183.30" y="821.0" width="24.85" height="1.2" fill="#fef8f8"/>
<rect x="134.20" y="825.0" width="24.85" height="1.2" fill="#fdf0f0"/>
<rect x="158.75" y="825.0" width="24.85" height="1.2" fill="#fef6f6"/>
<rect x="183.30" y="825.0" width="24.85" height="1.2" fill="#fef8f8"/>
<rect x="207.85" y="825.0" width="24.85" height="1.2" fill="#fef8f8"/>
<rect x="232.40" y="825.0" width="24.85" height="1.2" fill="#fef8f8"/>
<rect x="256.95" y="825.0" width="24.85" height="1.2" fill="#fef8f8"/>
<rect x="281.50" y="825.0" width="24.85" height="1.2" fill="#fef8f8"/>
<rect x="306.05" y="825.0" width="24.85" height="1.2" fill="#fef8f8"/>
<rect x="134.20" y="829.0" width="24.85" height="1.2" fill="#fcebeb"/>
<rect x="158.75" y="829.0" width="24.85" height="1.2" fill="#fdf3f3"/>
<rect x="183.30" y="829.0" width="24.85" height="1.2" fill="#fef8f8"/>
<rect x="134.20" y="835.6" width="24.85" height="1.4" fill="#c7c9e7"/>
<rect x="158.75" y="835.6" width="24.85" height="1.4" fill="#d5d7ed"/>
<rect x="183.30" y="835.6" width="24.85" height="1.4" fill="#d5d7ed"/>
<rect x="207.85" y="835.6" width="24.85" height="1.4" fill="#d5d7ed"/>
<rect x="232.40" y="835.6" width="24.85" height="1.4" fill="#d5d7ed"/>
<rect x="256.95" y="835.6" width="24.85" height="1.4" fill="#d5d7ed"/>
<rect x="281.50" y="835.6" width="24.85" height="1.4" fill="#d5d7ed"/>
<rect x="306.05" y="835.6" width="24.85" height="1.4" fill="#d5d7ed"/>
<rect x="134.20" y="838.4" width="24.85" height="1.2" fill="#fdf0f0"/>
<rect x="158.75" y="838.4" width="24.85" height="1.2" fill="#fef6f6"/>
<rect x="134.20" y="841.2" width="24.85" height="1.2" fill="#fbe2e2"/>
<rect x="158.75" y="841.2" width="24.85" height="1.2" fill="#fdeded"/>
<rect x="183.30" y="841.2" width="24.85" height="1.2" fill="#fdeded"/>
<rect x="207.85" y="841.2" width="24.85" height="1.2" fill="#fdeded"/>
<rect x="232.40" y="841.2" width="24.85" height="1.2" fill="#fdeded"/>
<rect x="256.95" y="841.2" width="24.85" height="1.2" fill="#fdeded"/>
<rect x="281.50" y="841.2" width="24.85" height="1.2" fill="#fdeded"/>
<rect x="306.05" y="841.2" width="24.85" height="1.2" fill="#fdeded"/>
<rect x="134.20" y="845.0" width="24.85" height="1.2" fill="#fcebeb"/>
<rect x="158.75" y="845.0" width="24.85" height="1.2" fill="#fdf3f3"/>
<rect x="183.30" y="845.0" width="24.85" height="1.2" fill="#fef8f8"/>
<rect x="134.20" y="849.0" width="24.85" height="1.4" fill="#fad8d8"/>
<rect x="158.75" y="849.0" width="24.85" height="1.4" fill="#fce7e7"/>
<rect x="183.30" y="849.0" width="24.85" height="1.4" fill="#fdf1f1"/>
<rect x="207.85" y="849.0" width="24.85" height="1.4" fill="#fdf3f3"/>
<rect x="232.40" y="849.0" width="24.85" height="1.4" fill="#fef7f7"/>
<rect x="256.95" y="849.0" width="24.85" height="1.4" fill="#fef7f7"/>
<rect x="281.50" y="849.0" width="24.85" height="1.4" fill="#fef7f7"/>
<rect x="306.05" y="849.0" width="24.85" height="1.4" fill="#fef7f7"/>
<rect x="134.20" y="851.8" width="24.85" height="1.4" fill="#f9d3d3"/>
<rect x="158.75" y="851.8" width="24.85" height="1.4" fill="#fbe4e4"/>
<rect x="183.30" y="851.8" width="24.85" height="1.4" fill="#fdefef"/>
<rect x="207.85" y="851.8" width="24.85" height="1.4" fill="#fdf2f2"/>
<rect x="232.40" y="851.8" width="24.85" height="1.4" fill="#fef6f6"/>
<rect x="256.95" y="851.8" width="24.85" height="1.4" fill="#fef6f6"/>
<rect x="281.50" y="851.8" width="24.85" height="1.4" fill="#fef6f6"/>
<rect x="306.05" y="851.8" width="24.85" height="1.4" fill="#fef6f6"/>
<rect x="134.20" y="854.6" width="24.85" height="1.4" fill="#fadddd"/>
<rect x="158.75" y="854.6" width="24.85" height="1.4" fill="#fceaea"/>
<rect x="183.30" y="854.6" width="24.85" height="1.4" fill="#fdf3f3"/>
<rect x="207.85" y="854.6" width="24.85" height="1.4" fill="#fef5f5"/>
<rect x="232.40" y="854.6" width="24.85" height="1.4" fill="#fef8f8"/>
<rect x="256.95" y="854.6" width="24.85" height="1.4" fill="#fef8f8"/>
<rect x="281.50" y="854.6" width="24.85" height="1.4" fill="#fef8f8"/>
<rect x="306.05" y="854.6" width="24.85" height="1.4" fill="#fef8f8"/>
<rect x="134.20" y="857.4" width="24.85" height="1.2" fill="#fbe2e2"/>
<rect x="158.75" y="857.4" width="24.85" height="1.2" fill="#fdeded"/>
<rect x="183.30" y="857.4" width="24.85" height="1.2" fill="#fef4f4"/>
<rect x="207.85" y="857.4" width="24.85" height="1.2" fill="#fef6f6"/>
<rect x="134.20" y="861.0" width="24.85" height="1.2" fill="#fdf0f0"/>
<rect x="158.75" y="861.0" width="24.85" height="1.2" fill="#fef6f6"/>
<rect x="134.20" y="866.4" width="24.85" height="1.4" fill="#f8c9c9"/>
<rect x="158.75" y="866.4" width="24.85" height="1.4" fill="#fbdede"/>
<rect x="183.30" y="866.4" width="24.85" height="1.4" fill="#fce9e9"/>
<rect x="207.85" y="866.4" width="24.85" height="1.4" fill="#fce9e9"/>
<rect x="232.40" y="866.4" width="24.85" height="1.4" fill="#fce9e9"/>
<rect x="256.95" y="866.4" width="24.85" height="1.4" fill="#fce9e9"/>
<rect x="281.50" y="866.4" width="24.85" height="1.4" fill="#fce9e9"/>
<rect x="306.05" y="866.4" width="24.85" height="1.4" fill="#fce9e9"/>
<rect x="134.20" y="870.0" width="24.85" height="1.2" fill="#fcebeb"/>
<rect x="158.75" y="870.0" width="24.85" height="1.2" fill="#fdf3f3"/>
<rect x="183.30" y="870.0" width="24.85" height="1.2" fill="#fef8f8"/>
<rect x="134.20" y="875.4" width="24.85" height="1.4" fill="#d5d7ed"/>
<rect x="158.75" y="875.4" width="24.85" height="1.4" fill="#e5e6f4"/>
<rect x="183.30" y="875.4" width="24.85" height="1.4" fill="#f0f0f8"/>
<rect x="207.85" y="875.4" width="24.85" height="1.4" fill="#f2f3fa"/>
<rect x="232.40" y="875.4" width="24.85" height="1.4" fill="#f2f3fa"/>
<rect x="256.95" y="875.4" width="24.85" height="1.4" fill="#f2f3fa"/>
<rect x="281.50" y="875.4" width="24.85" height="1.4" fill="#f2f3fa"/>
<rect x="306.05" y="875.4" width="24.85" height="1.4" fill="#f2f3fa"/>
<rect x="134.20" y="877.2" width="24.85" height="1.4" fill="#fad8d8"/>
<rect x="158.75" y="877.2" width="24.85" height="1.4" fill="#fce7e7"/>
<rect x="183.30" y="877.2" width="24.85" height="1.4" fill="#fdf1f1"/>
<rect x="207.85" y="877.2" width="24.85" height="1.4" fill="#fdf3f3"/>
<rect x="232.40" y="877.2" width="24.85" height="1.4" fill="#fdf3f3"/>
<rect x="256.95" y="877.2" width="24.85" height="1.4" fill="#fdf3f3"/>
<rect x="281.50" y="877.2" width="24.85" height="1.4" fill="#fdf3f3"/>
<rect x="306.05" y="877.2" width="24.85" height="1.4" fill="#fdf3f3"/>
<rect x="134.20" y="881.0" width="24.85" height="1.2" fill="#fcebeb"/>
<rect x="158.75" y="881.0" width="24.85" height="1.2" fill="#fdf3f3"/>
<rect x="183.30" y="881.0" width="24.85" height="1.2" fill="#fef8f8"/>
<rect x="134.20" y="884.0" width="24.85" height="1.4" fill="#fadddd"/>
<rect x="158.75" y="884.0" width="24.85" height="1.4" fill="#fceaea"/>
<rect x="183.30" y="884.0" width="24.85" height="1.4" fill="#fdf3f3"/>
<rect x="207.85" y="884.0" width="24.85" height="1.4" fill="#fef5f5"/>
<rect x="232.40" y="884.0" width="24.85" height="1.4" fill="#fef5f5"/>
<rect x="256.95" y="884.0" width="24.85" height="1.4" fill="#fef5f5"/>
<rect x="281.50" y="884.0" width="24.85" height="1.4" fill="#fef5f5"/>
<rect x="306.05" y="884.0" width="24.85" height="1.4" fill="#fef5f5"/>
<rect x="134.20" y="886.6" width="24.85" height="1.2" fill="#fcebeb"/>
<rect x="158.75" y="886.6" width="24.85" height="1.2" fill="#fdf3f3"/>
<rect x="183.30" y="886.6" width="24.85" height="1.2" fill="#fef8f8"/>
<rect x="158.75" y="702.7" width="73.95" height="1.2" fill="#fce6e6"/>
<rect x="158.75" y="667.6" width="73.95" height="1.6" fill="#fbe2e2"/>
<rect x="306.05" y="838.1" width="24.85" height="2.2" fill="#fdf0f0"/>
<rect x="207.85" y="774.8" width="24.85" height="1.6" fill="#e7e7f4"/>
<rect x="158.75" y="697.5" width="49.40" height="1.2" fill="#fdeeee"/>
<rect x="207.85" y="685.6" width="49.40" height="2.2" fill="#e7e7f4"/>
<rect x="232.40" y="727.0" width="24.85" height="1.2" fill="#eaebf6"/>
<rect x="158.75" y="759.7" width="49.40" height="1.6" fill="#e0e1f1"/>
<rect x="207.85" y="783.4" width="24.85" height="1.6" fill="#fce9e9"/>
<rect x="232.40" y="789.7" width="73.95" height="1.2" fill="#eaebf6"/>
<rect x="306.05" y="719.2" width="24.85" height="1.2" fill="#e7e7f4"/>
<rect x="207.85" y="757.0" width="73.95" height="1.2" fill="#fcebeb"/>
<rect x="183.30" y="885.3" width="24.85" height="1.2" fill="#fce9e9"/>
<rect x="232.40" y="798.4" width="49.40" height="1.6" fill="#eaebf6"/>
<rect x="256.95" y="750.6" width="49.40" height="1.2" fill="#fbe2e2"/>
<rect x="158.75" y="863.0" width="24.85" height="1.6" fill="#fdf0f0"/>
<rect x="256.95" y="829.6" width="24.85" height="1.6" fill="#e7e7f4"/>
<rect x="207.85" y="870.3" width="73.95" height="1.2" fill="#e0e1f1"/>
<rect x="158.75" y="731.7" width="49.40" height="1.2" fill="#fcebeb"/>
<rect x="207.85" y="723.5" width="24.85" height="2.2" fill="#fce9e9"/>
<rect x="158.75" y="809.2" width="49.40" height="1.6" fill="#fdf0f0"/>
<rect x="207.85" y="716.1" width="73.95" height="1.6" fill="#eaebf6"/>
<rect x="207.85" y="783.5" width="24.85" height="1.2" fill="#fce6e6"/>
<rect x="306.05" y="733.6" width="24.85" height="2.2" fill="#fdeeee"/>
<rect x="183.30" y="669.3" width="73.95" height="1.2" fill="#fdf0f0"/>
<rect x="158.75" y="660.2" width="24.85" height="2.2" fill="#eaebf6"/>
<rect x="232.40" y="655.8" width="24.85" height="1.2" fill="#fcebeb"/>
<rect x="256.95" y="675.3" width="49.40" height="2.2" fill="#fce9e9"/>
<rect x="232.40" y="883.0" width="24.85" height="1.6" fill="#fdf0f0"/>
<rect x="158.75" y="744.5" width="24.85" height="1.6" fill="#fce9e9"/>
<rect x="232.40" y="705.7" width="24.85" height="1.2" fill="#fce6e6"/>
<rect x="207.85" y="653.6" width="49.40" height="2.2" fill="#fdf0f0"/>
<rect x="183.30" y="695.9" width="73.95" height="1.2" fill="#fdeeee"/>
<rect x="207.85" y="724.0" width="24.85" height="2.2" fill="#fce9e9"/>
<rect x="306.05" y="803.0" width="24.85" height="1.6" fill="#fce6e6"/>
<rect x="183.30" y="668.3" width="24.85" height="1.6" fill="#fcebeb"/>
<rect x="306.05" y="803.7" width="24.85" height="2.2" fill="#fce9e9"/>
<rect x="306.05" y="697.7" width="24.85" height="1.6" fill="#fcebeb"/>
<rect x="158.75" y="875.5" width="49.40" height="1.2" fill="#fdf0f0"/>
<rect x="256.95" y="740.8" width="24.85" height="2.2" fill="#fdeeee"/>
<rect x="306.05" y="851.5" width="24.85" height="2.2" fill="#fce6e6"/>
<rect x="232.40" y="759.3" width="73.95" height="1.2" fill="#fdf0f0"/>
<rect x="183.30" y="696.7" width="24.85" height="1.2" fill="#fdeeee"/>
<rect x="306.05" y="741.0" width="24.85" height="2.2" fill="#fdf0f0"/>
<rect x="183.30" y="658.8" width="24.85" height="2.2" fill="#fcebeb"/>
<rect x="232.40" y="831.7" width="73.95" height="1.2" fill="#e0e1f1"/>
<rect x="256.95" y="654.2" width="24.85" height="2.2" fill="#fce6e6"/>
<rect x="256.95" y="853.5" width="24.85" height="1.6" fill="#e0e1f1"/>
<rect x="256.95" y="665.1" width="24.85" height="1.6" fill="#fdeeee"/>
<rect x="158.75" y="844.6" width="73.95" height="1.2" fill="#fce9e9"/>
<rect x="207.85" y="835.0" width="73.95" height="1.6" fill="#fdf0f0"/>
<rect x="232.40" y="851.3" width="24.85" height="1.2" fill="#e7e7f4"/>
<rect x="306.05" y="865.8" width="24.85" height="1.6" fill="#fbe2e2"/>
<rect x="281.50" y="745.8" width="49.40" height="2.2" fill="#e7e7f4"/>
<rect x="183.30" y="857.5" width="49.40" height="1.6" fill="#fce6e6"/>
<rect x="256.95" y="674.4" width="24.85" height="1.2" fill="#fcebeb"/>
<rect x="183.30" y="688.3" width="49.40" height="1.6" fill="#fce6e6"/>
<rect x="158.75" y="708.1" width="24.85" height="2.2" fill="#e0e1f1"/>
<rect x="256.95" y="720.8" width="24.85" height="2.2" fill="#fce6e6"/>
<rect x="256.95" y="790.2" width="24.85" height="1.2" fill="#fbe2e2"/>
<rect x="207.85" y="744.7" width="49.40" height="1.2" fill="#fdf0f0"/>
<rect x="281.50" y="882.6" width="24.85" height="2.2" fill="#e0e1f1"/>
<rect x="256.95" y="863.8" width="73.95" height="2.2" fill="#fdeeee"/>
<rect x="256.95" y="834.8" width="73.95" height="1.2" fill="#fce9e9"/>
<rect x="256.95" y="706.4" width="49.40" height="1.2" fill="#fcebeb"/>
<rect x="256.95" y="750.0" width="24.85" height="1.6" fill="#eaebf6"/>
<rect x="207.85" y="862.5" width="24.85" height="2.2" fill="#fcebeb"/>
<rect x="158.75" y="795.0" width="24.85" height="2.2" fill="#fce9e9"/>
<rect x="183.30" y="870.7" width="49.40" height="1.6" fill="#fcebeb"/>
<rect x="158.75" y="687.9" width="24.85" height="1.2" fill="#fbe2e2"/>
<rect x="306.05" y="838.3" width="24.85" height="1.2" fill="#eaebf6"/>
<rect x="232.40" y="786.2" width="24.85" height="1.2" fill="#e7e7f4"/>
<rect x="281.50" y="802.4" width="24.85" height="2.2" fill="#fdeeee"/>
<rect x="256.95" y="743.5" width="24.85" height="2.2" fill="#fce6e6"/>
<rect x="207.85" y="699.1" width="24.85" height="2.2" fill="#fcebeb"/>
<rect x="232.40" y="796.4" width="73.95" height="1.6" fill="#fbe2e2"/>
<rect x="207.85" y="878.7" width="49.40" height="1.6" fill="#fce6e6"/>
<rect x="207.85" y="787.2" width="24.85" height="1.6" fill="#fbe2e2"/>
<rect x="256.95" y="812.4" width="49.40" height="1.6" fill="#fce9e9"/>
<rect x="183.30" y="795.6" width="24.85" height="2.2" fill="#fce6e6"/>
<rect x="256.95" y="866.8" width="49.40" height="1.6" fill="#e7e7f4"/>
<rect x="281.50" y="762.0" width="49.40" height="1.2" fill="#e7e7f4"/>
<rect x="158.75" y="867.8" width="49.40" height="1.2" fill="#eaebf6"/>
<rect x="306.05" y="685.2" width="24.85" height="2.2" fill="#e0e1f1"/>
<rect x="306.05" y="704.9" width="24.85" height="1.2" fill="#fdf0f0"/>
<rect x="158.75" y="873.8" width="24.85" height="1.2" fill="#fdeeee"/>
<rect x="281.50" y="856.9" width="49.40" height="2.2" fill="#eaebf6"/>
<rect x="232.40" y="681.8" width="24.85" height="2.2" fill="#e7e7f4"/>
<rect x="158.75" y="733.4" width="24.85" height="1.6" fill="#fbe2e2"/>
<rect x="306.05" y="683.0" width="24.85" height="2.2" fill="#fce6e6"/>
</g>
<path d="M134.2 644.7V889.2H330.6" stroke="#333" stroke-width="1.1" fill="none"/>
<line x1="130.4" y1="884.8" x2="134.2" y2="884.8" stroke="#333" stroke-width="0.9"/>
<text x="128.6" y="888" text-anchor="end">200</text>
<line x1="146.6" y1="889.2" x2="146.6" y2="892.2" stroke="#333" stroke-width="0.9"/>
<line x1="318" y1="889.2" x2="318" y2="892.2" stroke="#333" stroke-width="0.9"/>
<text x="146.6" y="903" text-anchor="middle">50</text>
<text x="318" y="903" text-anchor="middle">120</text>
<text x="234.4" y="906.9" text-anchor="middle">Sugar GRN firing rate (Hz)</text>
<text transform="translate(126.8,766.6) rotate(-90)" text-anchor="middle">Sugar responsive neurons</text>
<linearGradient id="cbf" x1="0" y1="1" x2="0" y2="0"><stop offset="0.001" stop-color="#4a50b0"/><stop offset="0.024" stop-color="#5157b3"/><stop offset="0.046" stop-color="#6268bb"/><stop offset="0.069" stop-color="#7478c2"/><stop offset="0.092" stop-color="#8589ca"/><stop offset="0.115" stop-color="#979ad1"/><stop offset="0.137" stop-color="#a8abd9"/><stop offset="0.160" stop-color="#b9bce1"/><stop offset="0.183" stop-color="#cbcde8"/><stop offset="0.206" stop-color="#dcddf0"/><stop offset="0.228" stop-color="#eeeef7"/><stop offset="0.251" stop-color="#ffffff"/><stop offset="0.274" stop-color="#fdf3f3"/><stop offset="0.297" stop-color="#fce6e6"/><stop offset="0.320" stop-color="#fadada"/><stop offset="0.342" stop-color="#f9cece"/><stop offset="0.365" stop-color="#f7c2c2"/><stop offset="0.388" stop-color="#f5b5b5"/><stop offset="0.411" stop-color="#f4a9a9"/><stop offset="0.433" stop-color="#f29d9d"/><stop offset="0.456" stop-color="#f09090"/><stop offset="0.479" stop-color="#ef8484"/><stop offset="0.502" stop-color="#ed7878"/><stop offset="0.524" stop-color="#ec6c6c"/><stop offset="0.547" stop-color="#ea5f5f"/><stop offset="0.570" stop-color="#e85353"/><stop offset="0.593" stop-color="#e74747"/><stop offset="0.615" stop-color="#e53b3b"/><stop offset="0.638" stop-color="#e42e2e"/><stop offset="0.661" stop-color="#e22222"/><stop offset="0.684" stop-color="#dc2122"/><stop offset="0.706" stop-color="#d62021"/><stop offset="0.729" stop-color="#d02020"/><stop offset="0.752" stop-color="#ca1f20"/><stop offset="0.775" stop-color="#c31e20"/><stop offset="0.797" stop-color="#bd1e1f"/><stop offset="0.820" stop-color="#b71d1e"/><stop offset="0.843" stop-color="#b11c1e"/><stop offset="0.866" stop-color="#ab1b1e"/><stop offset="0.888" stop-color="#a51a1d"/><stop offset="0.911" stop-color="#9f1a1c"/><stop offset="0.934" stop-color="#98191c"/><stop offset="0.957" stop-color="#92181c"/><stop offset="0.980" stop-color="#8c181b"/><stop offset="1.002" stop-color="#86171a"/></linearGradient>
<rect x="343.3" y="644.7" width="12.2" height="244.5" fill="url(#cbf)"/>
<line x1="355.6" y1="883.4" x2="358.2" y2="883.4" stroke="#555" stroke-width="0.8"/>
<line x1="355.6" y1="855.6" x2="358.2" y2="855.6" stroke="#555" stroke-width="0.8"/>
<line x1="355.6" y1="827.8" x2="358.2" y2="827.8" stroke="#555" stroke-width="0.8"/>
<line x1="355.6" y1="799.9" x2="358.2" y2="799.9" stroke="#555" stroke-width="0.8"/>
<line x1="355.6" y1="772.1" x2="358.2" y2="772.1" stroke="#555" stroke-width="0.8"/>
<line x1="355.6" y1="744.3" x2="358.2" y2="744.3" stroke="#555" stroke-width="0.8"/>
<line x1="355.6" y1="716.5" x2="358.2" y2="716.5" stroke="#555" stroke-width="0.8"/>
<line x1="355.6" y1="688.6" x2="358.2" y2="688.6" stroke="#555" stroke-width="0.8"/>
<line x1="355.6" y1="660.8" x2="358.2" y2="660.8" stroke="#555" stroke-width="0.8"/>
<text x="362.6" y="664">250</text>
<text x="362.6" y="829.9">100</text>
<text x="362.6" y="886.6">50</text>
<text transform="translate(387.4,762) rotate(-90)" text-anchor="middle">Relative MN9 firing rate (%)</text>
<path d="M513.5 594V784.8" stroke="#222" stroke-width="1.1" fill="none"/><path d="M510 784.9H705.4" stroke="#333" stroke-width="1.3" fill="none"/>
<line x1="510.2" y1="784.8" x2="513.5" y2="784.8" stroke="#222" stroke-width="0.9"/>
<text x="507" y="788.0" text-anchor="end" fill="#444">0</text>
<line x1="510.2" y1="759.5" x2="513.5" y2="759.5" stroke="#222" stroke-width="0.9"/>
<text x="507" y="762.7" text-anchor="end" fill="#444">10</text>
<line x1="510.2" y1="734.2" x2="513.5" y2="734.2" stroke="#222" stroke-width="0.9"/>
<text x="507" y="737.4" text-anchor="end" fill="#444">20</text>
<line x1="510.2" y1="708.9" x2="513.5" y2="708.9" stroke="#222" stroke-width="0.9"/>
<text x="507" y="712.1" text-anchor="end" fill="#444">30</text>
<line x1="510.2" y1="683.6" x2="513.5" y2="683.6" stroke="#222" stroke-width="0.9"/>
<text x="507" y="686.8" text-anchor="end" fill="#444">40</text>
<line x1="510.2" y1="658.3" x2="513.5" y2="658.3" stroke="#222" stroke-width="0.9"/>
<text x="507" y="661.5" text-anchor="end" fill="#444">50</text>
<line x1="510.2" y1="633.1" x2="513.5" y2="633.1" stroke="#222" stroke-width="0.9"/>
<text x="507" y="636.3" text-anchor="end" fill="#444">60</text>
<line x1="510.2" y1="607.8" x2="513.5" y2="607.8" stroke="#222" stroke-width="0.9"/>
<text x="507" y="611.0" text-anchor="end" fill="#444">70</text>
<line x1="526.3" y1="784.8" x2="526.3" y2="788" stroke="#222" stroke-width="0.9"/>
<text x="526.3" y="799.2" text-anchor="middle" fill="#444">50</text>
<line x1="564.4" y1="784.8" x2="564.4" y2="788" stroke="#222" stroke-width="0.9"/>
<text x="564.4" y="799.2" text-anchor="middle" fill="#444">100</text>
<line x1="602.4" y1="784.8" x2="602.4" y2="788" stroke="#222" stroke-width="0.9"/>
<text x="602.4" y="799.2" text-anchor="middle" fill="#444">150</text>
<line x1="640.5" y1="784.8" x2="640.5" y2="788" stroke="#222" stroke-width="0.9"/>
<text x="640.5" y="799.2" text-anchor="middle" fill="#444">200</text>
<line x1="678.6" y1="784.8" x2="678.6" y2="788" stroke="#222" stroke-width="0.9"/>
<text x="678.6" y="799.2" text-anchor="middle" fill="#444">250</text>
<text x="605.8" y="812" text-anchor="middle">Relative MN9 firing rate (%)</text>
<text transform="translate(487.2,692.4) rotate(-90)" text-anchor="middle">Count</text>
<rect x="523.0" y="782.3" width="6.5" height="2.5" fill="#000"/>
<rect x="530.6" y="777.2" width="6.5" height="7.6" fill="#000"/>
<rect x="538.2" y="772.2" width="6.5" height="12.6" fill="#000"/>
<rect x="545.8" y="767.1" width="6.5" height="17.7" fill="#000"/>
<rect x="553.5" y="751.9" width="6.5" height="32.9" fill="#000"/>
<rect x="561.1" y="602.7" width="6.5" height="182.1" fill="#000"/>
<rect x="568.7" y="625.5" width="6.5" height="159.3" fill="#000"/>
<rect x="576.3" y="767.1" width="6.5" height="17.7" fill="#000"/>
<rect x="583.9" y="779.7" width="6.5" height="5.1" fill="#000"/>
<rect x="591.5" y="779.7" width="6.5" height="5.1" fill="#000"/>
<rect x="599.1" y="782.3" width="6.5" height="2.5" fill="#000"/>
<rect x="622.0" y="782.3" width="6.5" height="2.5" fill="#000"/>
<rect x="629.6" y="782.3" width="6.5" height="2.5" fill="#000"/>
<rect x="690.5" y="782.3" width="6.5" height="2.5" fill="#000"/>
<circle cx="603.8" cy="871.8" r="40.8" fill="#80d4aa" stroke="#8a9a92" stroke-width="0.8"/>
<circle cx="617.8" cy="872.1" r="26" fill="#c96a60" stroke="#9a8a84" stroke-width="0.8"/>
<text x="577.2" y="875.6" text-anchor="middle" fill="#1a1a1a">33</text>
<text x="617.5" y="875.6" text-anchor="middle" fill="#1a1a1a">14</text>
<text x="525.8" y="867.2" text-anchor="middle">Neurons that</text>
<text x="525.8" y="878.3" text-anchor="middle">activate MN9</text>
<text x="693.3" y="866.7" text-anchor="middle">Neurons that</text>
<text x="693.3" y="877.6" text-anchor="middle">decrease MN9 firing</text>
<text x="693.3" y="888.6" text-anchor="middle">&gt;20% when silenced</text>
</svg>
</body></html>
